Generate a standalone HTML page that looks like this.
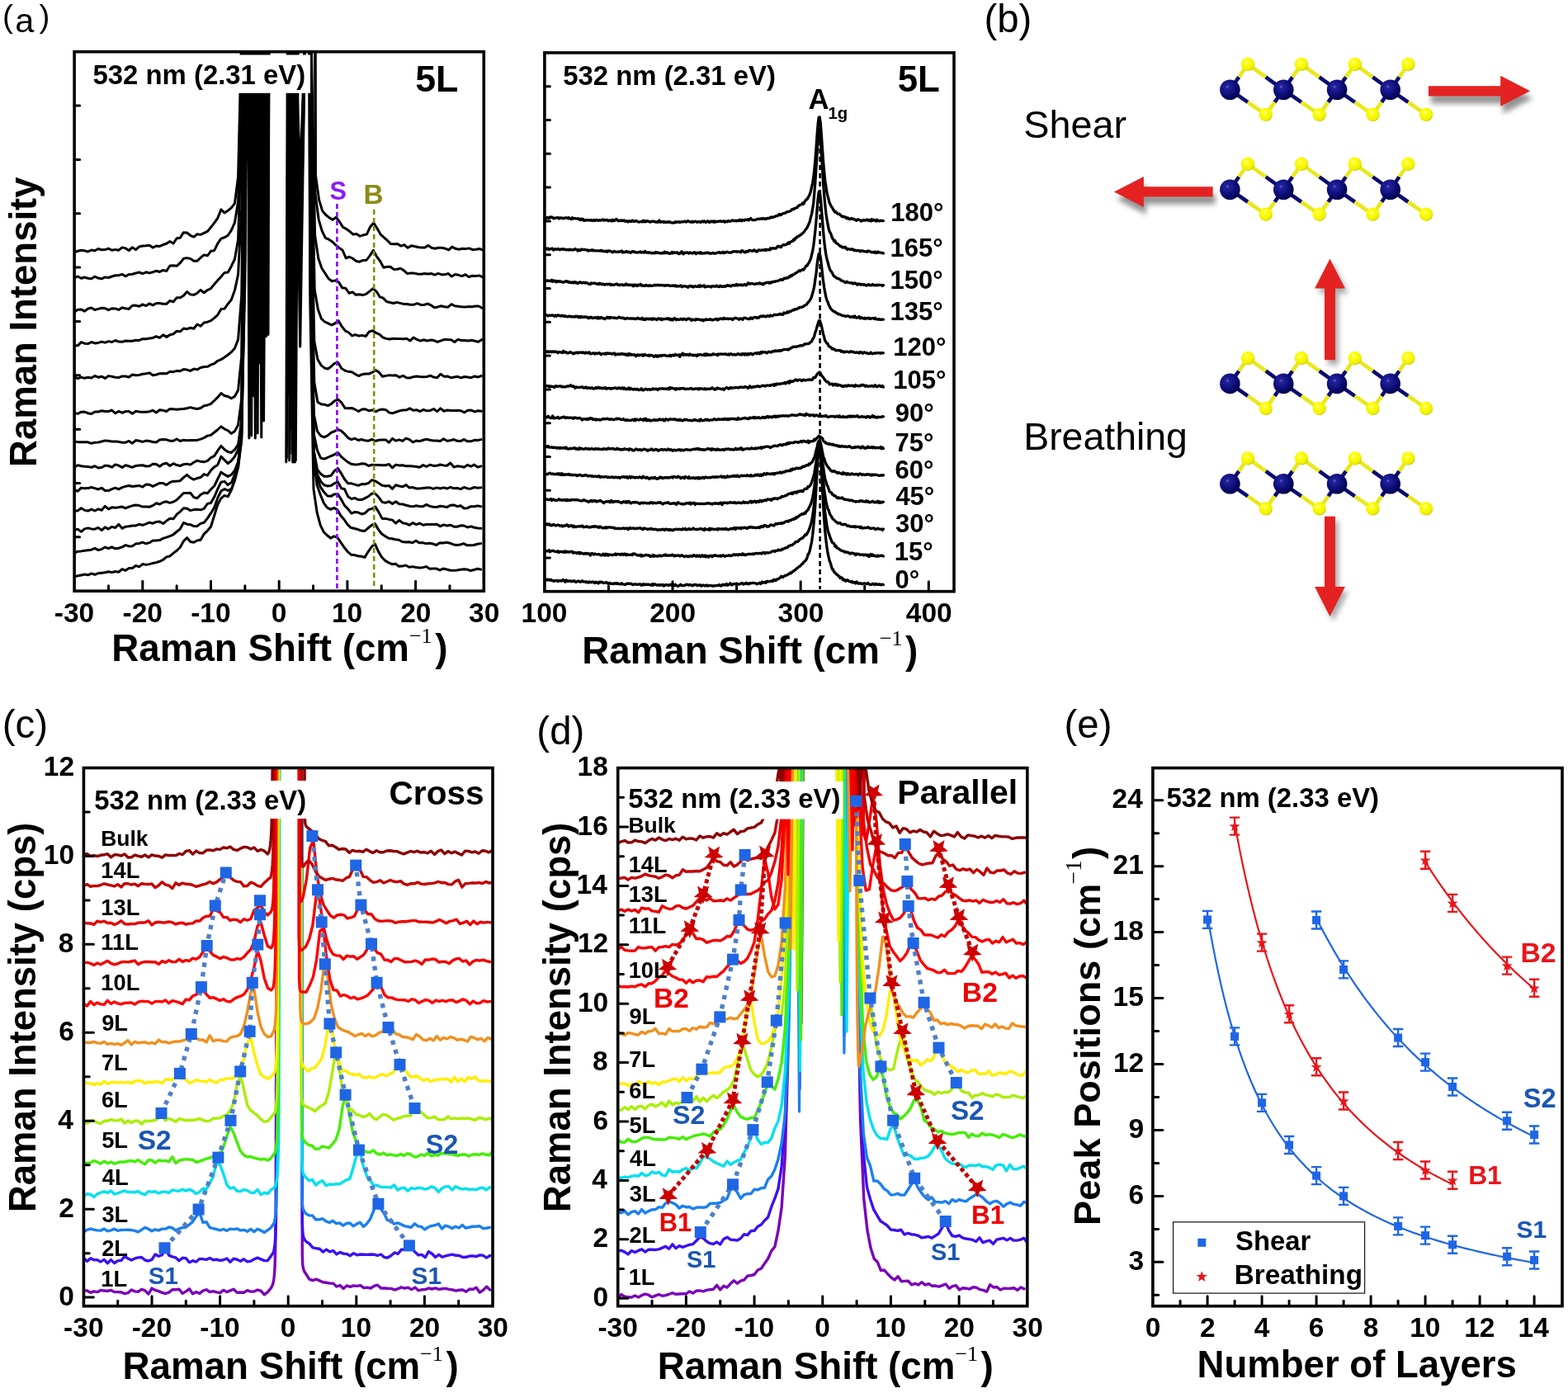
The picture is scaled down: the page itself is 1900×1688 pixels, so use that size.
<!DOCTYPE html>
<html><head><meta charset="utf-8"><title>Raman spectra figure</title>
<style>html,body{margin:0;padding:0;background:#fff;} svg{display:block;}</style></head>
<body><svg xmlns="http://www.w3.org/2000/svg" width="1900" height="1688" viewBox="0 0 1900 1688">
<defs><clipPath id='clipAL'><rect x='90.1' y='62.7' width='496.2' height='653.5'/></clipPath><clipPath id='clipAR'><rect x='659.9' y='63.9' width='496.1' height='652.8'/></clipPath><clipPath id='clipC'><rect x='101.4' y='930.5' width='495.6' height='652.2'/></clipPath><clipPath id='clipD'><rect x='748.7' y='930.6' width='496.1' height='652.1'/></clipPath><clipPath id='clipE'><rect x='1396.9' y='930.6' width='496.1' height='652.1'/></clipPath><radialGradient id='gMo' cx='0.38' cy='0.35' r='0.7'><stop offset='0' stop-color='#6a6ad8'/><stop offset='0.12' stop-color='#23239a'/><stop offset='0.6' stop-color='#0c0c78'/><stop offset='1' stop-color='#000040'/></radialGradient><radialGradient id='gS' cx='0.4' cy='0.35' r='0.7'><stop offset='0' stop-color='#ffffb0'/><stop offset='0.25' stop-color='#ffff10'/><stop offset='0.8' stop-color='#eeee00'/><stop offset='1' stop-color='#b8b800'/></radialGradient><filter id='shd' x='-30%' y='-60%' width='160%' height='240%'><feGaussianBlur stdDeviation='3.2'/></filter><filter id='soft' x='-10%' y='-10%' width='120%' height='120%'><feGaussianBlur stdDeviation='0.6'/></filter></defs>
<rect width="1900" height="1688" fill="#fff"/>
<text x='2.98' y='33.18' font-family='Liberation Sans' font-size='38.6' font-weight='normal' fill='#000'>(</text>
<text x='18.15' y='38.9' font-family='Liberation Sans' font-size='41.35' font-weight='normal' fill='#000'>a</text>
<text x='47.58' y='33.18' font-family='Liberation Sans' font-size='38.6' font-weight='normal' fill='#000'>)</text>
<rect x='90.1' y='62.7' width='496.2' height='653.5' fill='none' stroke='#000' stroke-width='3.6'/>
<text x='65.81' y='753.7' font-family='Liberation Sans' font-size='33.5' font-weight='bold' fill='#000'>-30</text>
<line x1='172.8' y1='716.2' x2='172.8' y2='704.2' stroke='#000' stroke-width='3.0' stroke-linecap='round'/>
<text x='148.51' y='753.7' font-family='Liberation Sans' font-size='33.5' font-weight='bold' fill='#000'>-20</text>
<line x1='255.5' y1='716.2' x2='255.5' y2='704.2' stroke='#000' stroke-width='3.0' stroke-linecap='round'/>
<text x='231.21' y='753.7' font-family='Liberation Sans' font-size='33.5' font-weight='bold' fill='#000'>-10</text>
<line x1='338.2' y1='716.2' x2='338.2' y2='704.2' stroke='#000' stroke-width='3.0' stroke-linecap='round'/>
<text x='328.82' y='753.7' font-family='Liberation Sans' font-size='33.5' font-weight='bold' fill='#000'>0</text>
<line x1='420.9' y1='716.2' x2='420.9' y2='704.2' stroke='#000' stroke-width='3.0' stroke-linecap='round'/>
<text x='401.97' y='753.7' font-family='Liberation Sans' font-size='33.5' font-weight='bold' fill='#000'>10</text>
<line x1='503.6' y1='716.2' x2='503.6' y2='704.2' stroke='#000' stroke-width='3.0' stroke-linecap='round'/>
<text x='485.17' y='753.7' font-family='Liberation Sans' font-size='33.5' font-weight='bold' fill='#000'>20</text>
<text x='568.04' y='753.7' font-family='Liberation Sans' font-size='33.5' font-weight='bold' fill='#000'>30</text>
<line x1='131.45' y1='716.2' x2='131.45' y2='709.7' stroke='#000' stroke-width='3.0' stroke-linecap='round'/>
<line x1='214.15' y1='716.2' x2='214.15' y2='709.7' stroke='#000' stroke-width='3.0' stroke-linecap='round'/>
<line x1='296.85' y1='716.2' x2='296.85' y2='709.7' stroke='#000' stroke-width='3.0' stroke-linecap='round'/>
<line x1='379.55' y1='716.2' x2='379.55' y2='709.7' stroke='#000' stroke-width='3.0' stroke-linecap='round'/>
<line x1='462.25' y1='716.2' x2='462.25' y2='709.7' stroke='#000' stroke-width='3.0' stroke-linecap='round'/>
<line x1='544.95' y1='716.2' x2='544.95' y2='709.7' stroke='#000' stroke-width='3.0' stroke-linecap='round'/>
<line x1='90.1' y1='650.85' x2='96.6' y2='650.85' stroke='#000' stroke-width='3.0' stroke-linecap='round'/>
<line x1='90.1' y1='585.5' x2='96.6' y2='585.5' stroke='#000' stroke-width='3.0' stroke-linecap='round'/>
<line x1='90.1' y1='520.15' x2='96.6' y2='520.15' stroke='#000' stroke-width='3.0' stroke-linecap='round'/>
<line x1='90.1' y1='454.8' x2='96.6' y2='454.8' stroke='#000' stroke-width='3.0' stroke-linecap='round'/>
<line x1='90.1' y1='389.45' x2='96.6' y2='389.45' stroke='#000' stroke-width='3.0' stroke-linecap='round'/>
<line x1='90.1' y1='324.1' x2='96.6' y2='324.1' stroke='#000' stroke-width='3.0' stroke-linecap='round'/>
<line x1='90.1' y1='258.75' x2='96.6' y2='258.75' stroke='#000' stroke-width='3.0' stroke-linecap='round'/>
<line x1='90.1' y1='193.4' x2='96.6' y2='193.4' stroke='#000' stroke-width='3.0' stroke-linecap='round'/>
<line x1='90.1' y1='128.05' x2='96.6' y2='128.05' stroke='#000' stroke-width='3.0' stroke-linecap='round'/>
<text transform='translate(44,565.99) rotate(-90)' x='0' y='0' font-family='Liberation Sans' font-size='45.52' font-weight='bold' fill='#000'>Raman Intensity</text>
<text x='135.3' y='800.5' font-family='Liberation Sans' font-size='45.73' font-weight='bold' fill='#000'>Raman Shift (cm</text>
<text x='495.89' y='778.7' font-family='Liberation Serif' font-size='26.15' font-weight='normal' fill='#000'>−1</text>
<text x='527.2' y='800.5' font-family='Liberation Sans' font-size='46' font-weight='bold' fill='#000'>)</text>
<g clip-path='url(#clipAL)'>
<path d='M90.1,698.78 L94.23,697.8 L98.37,696.95 L102.5,696.01 L106.64,696.77 L110.77,694.95 L114.91,696.45 L119.04,694.73 L123.18,694.19 L127.31,693.7 L131.45,692.69 L135.58,693.62 L139.72,692.49 L143.85,693.19 L147.99,689.72 L152.12,691.33 L156.26,688.46 L160.39,688.43 L164.53,685.45 L168.66,686.95 L172.8,683.55 L176.94,684.38 L181.07,683.62 L185.2,682.42 L189.34,681.64 L193.47,680.29 L197.61,678.44 L201.74,674.95 L205.88,673.9 L210.01,670.32 L214.15,667.26 L218.28,663.21 L222.42,655.79 L226.55,651.6 L230.69,656.41 L234.82,657.24 L238.96,654.97 L243.09,654.28 L247.23,647.1 L251.36,643.06 L255.5,638.28 L259.63,624.95 L263.77,611.41 L267.9,603.87 L272.04,600.42 L276.17,601.82 L280.31,593.99 L284.44,581.46 L288.58,562.34 L292.71,523.03 L296.85,342.52 L298.92,40 L300.5,40 L301.85,531 L303.5,40 L321.5,40 L322.5,407.7 L323.5,40' fill='none' stroke='#000' stroke-width='3.0' stroke-linejoin='round' stroke-linecap='round' />
<path d='M346.8,560 L348.3,40 L351.7,40 L354.7,560 L357.7,40' fill='none' stroke='#000' stroke-width='3.0' stroke-linejoin='round' stroke-linecap='round' />
<path d='M374.74,40 L375.04,152.49 L375.46,287.43 L375.83,367.5 L379.96,592.45 L384.1,620.87 L388.23,636.37 L392.37,644.94 L396.5,648.77 L400.64,652.15 L404.77,649.79 L408.91,651.33 L413.04,657.29 L417.18,663.49 L421.31,668.57 L425.45,672.14 L429.58,672.57 L433.72,673.74 L437.85,674.2 L441.99,675.39 L446.12,668.52 L450.26,662.7 L454.39,659.04 L458.53,668.37 L462.66,675.26 L466.8,679.38 L470.93,681.87 L475.07,683.69 L479.2,683.15 L483.34,686.18 L487.47,686.08 L491.61,685.04 L495.74,687.26 L499.88,686.64 L504.01,687.54 L508.15,688.08 L512.28,687.65 L516.42,686.59 L520.55,689.29 L524.69,688.98 L528.82,689.1 L532.96,690.93 L537.09,689.08 L541.23,689.96 L545.36,691.07 L549.5,691.32 L553.63,690.93 L557.77,690.22 L561.9,689.86 L566.04,690.06 L570.17,691.46 L574.31,690.45 L578.44,689.21 L582.58,690.07' fill='none' stroke='#000' stroke-width='3.0' stroke-linejoin='round' stroke-linecap='round' />
<path d='M90.1,670.3 L94.23,668.14 L98.37,667.88 L102.5,667.33 L106.64,666.71 L110.77,666.24 L114.91,664.43 L119.04,666.6 L123.18,665.55 L127.31,663.04 L131.45,664.54 L135.58,662.86 L139.72,664.78 L143.85,664.21 L147.99,662.82 L152.12,660.58 L156.26,661.91 L160.39,661.65 L164.53,659.03 L168.66,658.54 L172.8,657.18 L176.94,658.8 L181.07,657.64 L185.2,654.96 L189.34,655.06 L193.47,654.56 L197.61,652.38 L201.74,651.17 L205.88,649.61 L210.01,647.76 L214.15,644.27 L218.28,641.02 L222.42,633.35 L226.55,635.16 L230.69,635.72 L234.82,637.61 L238.96,637.68 L243.09,634.41 L247.23,633.28 L251.36,628.16 L255.5,621.95 L259.63,615.12 L263.77,603.42 L267.9,595.02 L272.04,592.63 L276.17,594.49 L280.31,592.68 L284.44,582.19 L288.58,566.72 L292.71,530.39 L296.85,303.61 L298.5,40 L307.5,40 L309.3,531 L311.5,40' fill='none' stroke='#000' stroke-width='3.0' stroke-linejoin='round' stroke-linecap='round' />
<path d='M350.65,558 L352.15,40 L354.4,40 L357.4,560 L360.4,40' fill='none' stroke='#000' stroke-width='3.0' stroke-linejoin='round' stroke-linecap='round' />
<path d='M374.74,40 L375.04,113.16 L375.46,248.26 L375.83,328.47 L379.96,554.95 L384.1,587.84 L388.23,599.52 L392.37,609.63 L396.5,615.19 L400.64,617.29 L404.77,615.39 L408.91,617.87 L413.04,625.07 L417.18,629.71 L421.31,635.97 L425.45,639.52 L429.58,640.48 L433.72,641.56 L437.85,643.05 L441.99,643.4 L446.12,639.76 L450.26,636.47 L454.39,634.55 L458.53,641.74 L462.66,646.95 L466.8,649.71 L470.93,652.28 L475.07,652.7 L479.2,653.68 L483.34,654.28 L487.47,656.48 L491.61,656.9 L495.74,656.8 L499.88,657.69 L504.01,655.31 L508.15,657.86 L512.28,657.62 L516.42,658.84 L520.55,658.26 L524.69,659.06 L528.82,660.49 L532.96,657.82 L537.09,658 L541.23,657.25 L545.36,658.18 L549.5,659.97 L553.63,660.42 L557.77,659.98 L561.9,658.69 L566.04,660.83 L570.17,660.85 L574.31,660.52 L578.44,659.2 L582.58,658.61' fill='none' stroke='#000' stroke-width='3.0' stroke-linejoin='round' stroke-linecap='round' />
<path d='M90.1,642.24 L94.23,641.32 L98.37,644.38 L102.5,640.89 L106.64,639.86 L110.77,640.91 L114.91,641.19 L119.04,639.4 L123.18,642.54 L127.31,638.86 L131.45,641.06 L135.58,638.36 L139.72,639.5 L143.85,635.38 L147.99,640.33 L152.12,638.13 L156.26,637.82 L160.39,637.04 L164.53,636.96 L168.66,635.3 L172.8,636.35 L176.94,634.94 L181.07,633.11 L185.2,634.21 L189.34,632.37 L193.47,632 L197.61,634.57 L201.74,631.15 L205.88,628.22 L210.01,628.84 L214.15,623.3 L218.28,620.12 L222.42,615.76 L226.55,616.16 L230.69,618.62 L234.82,617.59 L238.96,617.25 L243.09,617.89 L247.23,616.28 L251.36,610.37 L255.5,609.42 L259.63,602.29 L263.77,592.69 L267.9,584.18 L272.04,583.36 L276.17,587.58 L280.31,584.74 L284.44,575.04 L288.58,565.16 L292.71,533.9 L296.85,309.92 L298.5,40 L314.5,40 L316.75,530 L319.5,40' fill='none' stroke='#000' stroke-width='3.0' stroke-linejoin='round' stroke-linecap='round' />
<path d='M347.35,555 L348.85,40 L352.6,40 L355.6,560 L358.6,40' fill='none' stroke='#000' stroke-width='3.0' stroke-linejoin='round' stroke-linecap='round' />
<path d='M375.16,40 L375.46,113.76 L375.87,248.34 L376.24,328.09 L380.38,549.91 L384.51,580.32 L388.65,590.72 L392.78,596.55 L396.92,600.96 L401.05,601.36 L405.19,598.88 L409.32,598.41 L413.46,605.25 L417.59,612.64 L421.73,616.72 L425.86,622.06 L430,620.43 L434.13,621.06 L438.27,622.96 L442.4,621.79 L446.54,617.61 L450.67,616.49 L454.81,614.11 L458.94,620.63 L463.08,628.42 L467.21,628.38 L471.35,629.42 L475.48,630.14 L479.62,634.04 L483.75,630.46 L487.89,633.68 L492.02,634.44 L496.16,636.31 L500.29,633.62 L504.43,635.57 L508.56,634.07 L512.7,636.25 L516.83,635.53 L520.97,635.4 L525.1,635.58 L529.24,635.21 L533.37,637.85 L537.51,635.9 L541.64,636.97 L545.78,636.18 L549.91,638.21 L554.05,638.26 L558.18,636.82 L562.32,637 L566.45,639.02 L570.59,637.91 L574.72,639.23 L578.86,639.92 L582.99,640.21' fill='none' stroke='#000' stroke-width='3.0' stroke-linejoin='round' stroke-linecap='round' />
<path d='M90.1,619.08 L94.23,618.93 L98.37,615.71 L102.5,618.29 L106.64,619.14 L110.77,617.05 L114.91,619.02 L119.04,616.84 L123.18,618.27 L127.31,613.37 L131.45,616.86 L135.58,614.79 L139.72,615.16 L143.85,614.71 L147.99,614.02 L152.12,615.88 L156.26,614.1 L160.39,612.83 L164.53,612.03 L168.66,612.56 L172.8,614.11 L176.94,614.09 L181.07,614.24 L185.2,612.64 L189.34,609.76 L193.47,610.98 L197.61,608.72 L201.74,607.79 L205.88,609.44 L210.01,608.18 L214.15,605.75 L218.28,601.7 L222.42,597.44 L226.55,597.57 L230.69,597.19 L234.82,602.64 L238.96,603.74 L243.09,599.54 L247.23,597.09 L251.36,597.81 L255.5,592.98 L259.63,589.01 L263.77,580.49 L267.9,572.14 L272.04,574.97 L276.17,577.38 L280.31,575.24 L284.44,570.22 L288.58,559.3 L292.71,527.92 L296.85,225.3 L298.09,40 L303.3,40 L304.65,528 L306.3,40 L324,40 L325,405.6 L326,40' fill='none' stroke='#000' stroke-width='3.0' stroke-linejoin='round' stroke-linecap='round' />
<path d='M351.2,550 L352.7,40 L355.3,40 L358.3,558 L361.3,40' fill='none' stroke='#000' stroke-width='3.0' stroke-linejoin='round' stroke-linecap='round' />
<path d='M375.16,40 L375.46,117.37 L375.87,251.4 L376.24,330.67 L380.38,547.16 L384.51,574.97 L388.65,583.47 L392.78,587.81 L396.92,589.05 L401.05,588.51 L405.19,585.77 L409.32,583.86 L413.46,591.58 L417.59,592.78 L421.73,601.76 L425.86,604.6 L430,603.5 L434.13,605.56 L438.27,605.58 L442.4,603.54 L446.54,601.47 L450.67,598.04 L454.81,598.31 L458.94,602.57 L463.08,608.38 L467.21,609.28 L471.35,607.67 L475.48,610.54 L479.62,607.84 L483.75,610.79 L487.89,610.95 L492.02,612.28 L496.16,613.3 L500.29,613.88 L504.43,612.76 L508.56,613.64 L512.7,613.64 L516.83,611.39 L520.97,613.5 L525.1,614.23 L529.24,614.44 L533.37,613.29 L537.51,613.84 L541.64,614.65 L545.78,612.19 L549.91,611.91 L554.05,613.69 L558.18,612.71 L562.32,615.99 L566.45,615.71 L570.59,613.65 L574.72,613.72 L578.86,612.9 L582.99,613.79' fill='none' stroke='#000' stroke-width='3.0' stroke-linejoin='round' stroke-linecap='round' />
<path d='M90.1,593.34 L94.23,595.27 L98.37,591.15 L102.5,591.73 L106.64,591.58 L110.77,590.49 L114.91,591.65 L119.04,592.97 L123.18,591.31 L127.31,594.49 L131.45,594.54 L135.58,592.67 L139.72,591.17 L143.85,592.8 L147.99,590.63 L152.12,589.38 L156.26,588.56 L160.39,589.53 L164.53,588.96 L168.66,588.48 L172.8,590.17 L176.94,586.88 L181.07,587.2 L185.2,589.43 L189.34,587.43 L193.47,585.41 L197.61,585.55 L201.74,587.64 L205.88,584.59 L210.01,583.2 L214.15,583.13 L218.28,582.66 L222.42,578.71 L226.55,575.36 L230.69,579 L234.82,581.06 L238.96,579.47 L243.09,578.49 L247.23,574.58 L251.36,576.06 L255.5,570.04 L259.63,565.89 L263.77,563.21 L267.9,553.17 L272.04,557.35 L276.17,561.6 L280.31,558.35 L284.44,553.19 L288.58,544.91 L292.71,516.01 L296.85,213.65 L298.09,40 L310.3,40 L312.1,525 L314.3,40' fill='none' stroke='#000' stroke-width='3.0' stroke-linejoin='round' stroke-linecap='round' />
<path d='M347.9,540 L349.4,40 L353.5,40 L356.5,555 L359.5,40' fill='none' stroke='#000' stroke-width='3.0' stroke-linejoin='round' stroke-linecap='round' />
<path d='M375.16,40 L375.46,119.84 L375.87,253.36 L376.24,332.18 L380.38,546.99 L384.51,568.87 L388.65,574.3 L392.78,577.27 L396.92,577.21 L401.05,576.32 L405.19,570.59 L409.32,567.39 L413.46,573.68 L417.59,580.81 L421.73,585.66 L425.86,585.84 L430,587.14 L434.13,588.36 L438.27,586.62 L442.4,586.72 L446.54,585.34 L450.67,581.67 L454.81,582.88 L458.94,585.62 L463.08,588.28 L467.21,588.96 L471.35,588.43 L475.48,592.35 L479.62,587.78 L483.75,588.96 L487.89,589.84 L492.02,587.59 L496.16,591.07 L500.29,590.57 L504.43,591.98 L508.56,592.07 L512.7,591.49 L516.83,591.04 L520.97,590.92 L525.1,592.33 L529.24,590.89 L533.37,592 L537.51,590.89 L541.64,592.05 L545.78,590.34 L549.91,591.84 L554.05,591.44 L558.18,592.65 L562.32,590.45 L566.45,591.93 L570.59,592.19 L574.72,590.51 L578.86,591.32 L582.99,590.88' fill='none' stroke='#000' stroke-width='3.0' stroke-linejoin='round' stroke-linecap='round' />
<path d='M90.1,566.11 L94.23,563.67 L98.37,564.81 L102.5,565.3 L106.64,565.52 L110.77,566.39 L114.91,564.77 L119.04,566.99 L123.18,566.56 L127.31,564.13 L131.45,564.5 L135.58,566.24 L139.72,562.9 L143.85,564.15 L147.99,566.4 L152.12,563.68 L156.26,564.99 L160.39,566.32 L164.53,564.44 L168.66,564.11 L172.8,563.71 L176.94,565.05 L181.07,564.69 L185.2,562.26 L189.34,562.56 L193.47,565.29 L197.61,562.17 L201.74,561.21 L205.88,564.47 L210.01,561.66 L214.15,563.51 L218.28,564.53 L222.42,562.71 L226.55,562.13 L230.69,563.13 L234.82,560.23 L238.96,558.14 L243.09,559.33 L247.23,559.81 L251.36,558.41 L255.5,554.7 L259.63,552.58 L263.77,546.09 L267.9,540.35 L272.04,544.74 L276.17,547.55 L280.31,548.48 L284.44,544.83 L288.58,538.46 L292.71,509.58 L296.85,76.22 L297.68,40 L317.3,40 L319.55,510 L322.3,40' fill='none' stroke='#000' stroke-width='3.0' stroke-linejoin='round' stroke-linecap='round' />
<path d='M351.75,520 L353.25,40 L351.7,40 L354.7,545 L357.7,40' fill='none' stroke='#000' stroke-width='3.0' stroke-linejoin='round' stroke-linecap='round' />
<path d='M375.16,40 L375.46,104.52 L375.87,237.79 L376.24,316.4 L380.38,526.42 L384.51,545.88 L388.65,555.14 L392.78,556.05 L396.92,554.48 L401.05,552.72 L405.19,550.77 L409.32,548.42 L413.46,553.26 L417.59,556.85 L421.73,560.13 L425.86,562.32 L430,562.89 L434.13,562.72 L438.27,561.85 L442.4,561.93 L446.54,564.48 L450.67,563.31 L454.81,563.56 L458.94,563.49 L463.08,563.83 L467.21,563.78 L471.35,562.4 L475.48,566.86 L479.62,563.15 L483.75,564.03 L487.89,563.71 L492.02,564.84 L496.16,564.65 L500.29,564.91 L504.43,565.43 L508.56,566.25 L512.7,563.63 L516.83,565.31 L520.97,563.25 L525.1,564.39 L529.24,564.36 L533.37,562.98 L537.51,563.88 L541.64,564.21 L545.78,561.02 L549.91,566.01 L554.05,564.83 L558.18,565.16 L562.32,566.2 L566.45,563.37 L570.59,565.26 L574.72,563.14 L578.86,566.16 L582.99,564.93' fill='none' stroke='#000' stroke-width='3.0' stroke-linejoin='round' stroke-linecap='round' />
<path d='M90.1,534.92 L94.23,535.64 L98.37,535.75 L102.5,535.84 L106.64,535.82 L110.77,537.31 L114.91,536.15 L119.04,536.04 L123.18,535.03 L127.31,533.9 L131.45,534.29 L135.58,535.07 L139.72,535.07 L143.85,535.36 L147.99,536.2 L152.12,536.2 L156.26,534.43 L160.39,537.15 L164.53,533.56 L168.66,534.23 L172.8,535.38 L176.94,534.06 L181.07,534.52 L185.2,535.51 L189.34,536.02 L193.47,533.06 L197.61,532.57 L201.74,532.81 L205.88,534.19 L210.01,534.28 L214.15,532.02 L218.28,534.43 L222.42,533.31 L226.55,533.65 L230.69,533.61 L234.82,533.53 L238.96,533.38 L243.09,532.08 L247.23,530.58 L251.36,528.13 L255.5,527.24 L259.63,523.97 L263.77,520.78 L267.9,516.86 L272.04,519.81 L276.17,521.74 L280.31,525.37 L284.44,522.46 L288.58,515.07 L292.71,483.7 L296.85,55.57 L297.68,40 L306.1,40 L307.45,480 L309.1,40 L321.5,40 L322.5,372 L323.5,40' fill='none' stroke='#000' stroke-width='3.0' stroke-linejoin='round' stroke-linecap='round' />
<path d='M348.45,480 L349.95,40 L354.4,40 L357.4,520 L360.4,40' fill='none' stroke='#000' stroke-width='3.0' stroke-linejoin='round' stroke-linecap='round' />
<path d='M375.16,40 L375.46,80.54 L375.87,213.68 L376.24,292.18 L380.38,502.37 L384.51,522.69 L388.65,528.1 L392.78,529.78 L396.92,527.91 L401.05,524.38 L405.19,522.6 L409.32,520.46 L413.46,522.04 L417.59,525.92 L421.73,530.54 L425.86,532.65 L430,531.18 L434.13,533.54 L438.27,532.52 L442.4,533.81 L446.54,534.13 L450.67,532.31 L454.81,534.51 L458.94,533.23 L463.08,532.88 L467.21,532.92 L471.35,536.26 L475.48,531.4 L479.62,534.12 L483.75,532.87 L487.89,534.42 L492.02,531.11 L496.16,532.64 L500.29,535.87 L504.43,534 L508.56,534.68 L512.7,533.27 L516.83,532.2 L520.97,533.32 L525.1,534.02 L529.24,533.99 L533.37,534.59 L537.51,531.85 L541.64,534.25 L545.78,533.74 L549.91,532.55 L554.05,534.31 L558.18,534.56 L562.32,532.45 L566.45,534.85 L570.59,534.81 L574.72,533.3 L578.86,533.53 L582.99,532.62' fill='none' stroke='#000' stroke-width='3.0' stroke-linejoin='round' stroke-linecap='round' />
<path d='M90.1,500.61 L94.23,501.32 L98.37,499.18 L102.5,499.05 L106.64,500.66 L110.77,501.46 L114.91,498.98 L119.04,498.96 L123.18,497.71 L127.31,498.56 L131.45,498.55 L135.58,497.01 L139.72,500.78 L143.85,498.41 L147.99,500.24 L152.12,498.53 L156.26,498.47 L160.39,501.26 L164.53,498.35 L168.66,498.98 L172.8,499.19 L176.94,499.14 L181.07,498.85 L185.2,497.15 L189.34,499.98 L193.47,496.73 L197.61,497.26 L201.74,498.47 L205.88,495.39 L210.01,495.68 L214.15,496.21 L218.28,495.7 L222.42,495.57 L226.55,494.79 L230.69,493.61 L234.82,494.68 L238.96,495.42 L243.09,494.49 L247.23,491.73 L251.36,490.91 L255.5,489.42 L259.63,485.52 L263.77,481.42 L267.9,476.55 L272.04,479.45 L276.17,480.42 L280.31,482.73 L284.44,480.33 L288.58,472.79 L292.71,432.14 L296.85,40 L313.1,40 L314.9,440 L317.1,40' fill='none' stroke='#000' stroke-width='3.0' stroke-linejoin='round' stroke-linecap='round' />
<path d='M352.3,420 L353.8,40 L352.6,40 L355.6,480 L358.6,40' fill='none' stroke='#000' stroke-width='3.0' stroke-linejoin='round' stroke-linecap='round' />
<path d='M375.57,40 L375.87,42.1 L376.28,175.29 L376.66,253.84 L380.79,463.35 L384.93,487.3 L389.06,489.83 L393.2,490.19 L397.33,491.6 L401.47,489.45 L405.6,485.54 L409.74,484.08 L413.87,487.88 L418.01,494.54 L422.14,494.79 L426.28,494.51 L430.41,496.2 L434.55,498.48 L438.68,496.03 L442.82,495.85 L446.95,497.76 L451.09,496.89 L455.22,498.79 L459.36,496.74 L463.49,496.08 L467.63,496.7 L471.76,500.13 L475.9,500.67 L480.03,499.26 L484.17,497.8 L488.3,497.05 L492.44,496.87 L496.57,494.86 L500.71,497.21 L504.84,496.73 L508.98,498.55 L513.11,496.34 L517.25,497.81 L521.38,497.46 L525.52,495.58 L529.65,498.64 L533.79,494.8 L537.92,498.22 L542.06,497.06 L546.19,497.6 L550.33,497.49 L554.46,497.17 L558.6,497.74 L562.73,499.85 L566.87,497.19 L571,497.07 L575.14,498.92 L579.27,497.76 L583.41,498.17' fill='none' stroke='#000' stroke-width='3.0' stroke-linejoin='round' stroke-linecap='round' />
<path d='M90.1,456.69 L94.23,458.73 L98.37,457.06 L102.5,458.32 L106.64,457.33 L110.77,457.91 L114.91,455.41 L119.04,457.21 L123.18,456.18 L127.31,458.38 L131.45,455.62 L135.58,456.24 L139.72,457.21 L143.85,457.59 L147.99,455.93 L152.12,456 L156.26,457.01 L160.39,454.03 L164.53,454.7 L168.66,454.43 L172.8,453.24 L176.94,452.82 L181.07,451.84 L185.2,454.72 L189.34,453.99 L193.47,452.64 L197.61,452.45 L201.74,452.7 L205.88,450.37 L210.01,450.67 L214.15,449.37 L218.28,449.65 L222.42,447.6 L226.55,448.06 L230.69,449.39 L234.82,447.07 L238.96,447.88 L243.09,445.44 L247.23,444.54 L251.36,444.33 L255.5,442.03 L259.63,440.68 L263.77,437.28 L267.9,435.62 L272.04,433.04 L276.17,429.98 L280.31,426.66 L284.44,421.96 L288.58,411.42 L292.71,358.54 L296.85,40 L301.9,40 L304.15,380 L306.9,40' fill='none' stroke='#000' stroke-width='3.0' stroke-linejoin='round' stroke-linecap='round' />
<path d='M349,350 L350.5,40 L357.7,40 L363.7,420 L369.7,40' fill='none' stroke='#000' stroke-width='3.0' stroke-linejoin='round' stroke-linecap='round' />
<path d='M375.98,40 L376.28,122.82 L376.66,201.57 L380.79,413.17 L384.93,435.47 L389.06,442.61 L393.2,445.94 L397.33,447.03 L401.47,443.95 L405.6,440.15 L409.74,439.38 L413.87,446.56 L418.01,449.07 L422.14,450.34 L426.28,450.67 L430.41,453.33 L434.55,455.55 L438.68,453.74 L442.82,453.08 L446.95,453.06 L451.09,451.17 L455.22,448.6 L459.36,451.25 L463.49,456.25 L467.63,455.37 L471.76,454.62 L475.9,455.1 L480.03,454.72 L484.17,457.18 L488.3,455.24 L492.44,457.66 L496.57,457.95 L500.71,456.66 L504.84,455.94 L508.98,456.57 L513.11,456.68 L517.25,456.53 L521.38,455.18 L525.52,457.05 L529.65,457.75 L533.79,453.34 L537.92,456.13 L542.06,455.99 L546.19,457.71 L550.33,456.98 L554.46,456.32 L558.6,457.92 L562.73,456.47 L566.87,456.95 L571,457.7 L575.14,455.93 L579.27,456.92 L583.41,455.5' fill='none' stroke='#000' stroke-width='3.0' stroke-linejoin='round' stroke-linecap='round' />
<path d='M90.1,418.75 L94.23,418.87 L98.37,414.63 L102.5,416.22 L106.64,416.57 L110.77,414.53 L114.91,415.94 L119.04,415.44 L123.18,414.12 L127.31,415.13 L131.45,413.64 L135.58,414.49 L139.72,412.48 L143.85,414.03 L147.99,414.23 L152.12,412.97 L156.26,413.36 L160.39,413.25 L164.53,412.34 L168.66,412.41 L172.8,410.67 L176.94,410.79 L181.07,410.08 L185.2,409.41 L189.34,407.55 L193.47,409.31 L197.61,405.77 L201.74,408.37 L205.88,405.78 L210.01,404.83 L214.15,401.18 L218.28,401.78 L222.42,398.04 L226.55,398.66 L230.69,397.3 L234.82,398.29 L238.96,392.97 L243.09,395.17 L247.23,391.05 L251.36,390.16 L255.5,388.57 L259.63,385.36 L263.77,381.59 L267.9,374.5 L272.04,374.13 L276.17,368.26 L280.31,363.26 L284.44,351.84 L288.58,332.6 L292.71,253.23 L296.02,40 L308.9,40 L310.25,320 L311.9,40 L324,40 L325,260 L326,40' fill='none' stroke='#000' stroke-width='3.0' stroke-linejoin='round' stroke-linecap='round' />
<path d='M352.85,300 L354.35,40 L357.7,40 L363.7,350 L369.7,40' fill='none' stroke='#000' stroke-width='3.0' stroke-linejoin='round' stroke-linecap='round' />
<path d='M376.4,40 L376.7,56.9 L377.07,136.07 L381.2,350.74 L385.34,375.06 L389.47,386.3 L393.61,390 L397.74,391.93 L401.88,393.8 L406.01,391.8 L410.15,388.69 L414.28,395.74 L418.42,400.85 L422.55,402.98 L426.69,406.88 L430.82,405.53 L434.96,407.08 L439.09,406.39 L443.23,407.5 L447.36,401.9 L451.5,400.77 L455.63,403.38 L459.77,405.07 L463.9,408.78 L468.04,410.37 L472.17,411.09 L476.31,410.22 L480.44,410.58 L484.58,410.47 L488.71,410.79 L492.85,410.22 L496.98,413.03 L501.12,408.92 L505.25,411.47 L509.39,413.11 L513.52,411.72 L517.66,412.94 L521.79,412 L525.93,412.59 L530.06,414.45 L534.2,412.8 L538.33,411.32 L542.47,411.6 L546.6,411.64 L550.74,414.55 L554.87,411.4 L559.01,412.45 L563.14,412.48 L567.28,413.06 L571.41,412.25 L575.55,413.21 L579.68,414.26 L583.82,411.49' fill='none' stroke='#000' stroke-width='3.0' stroke-linejoin='round' stroke-linecap='round' />
<path d='M90.1,378.43 L94.23,375.18 L98.37,374.89 L102.5,377.16 L106.64,373.99 L110.77,372.98 L114.91,375.43 L119.04,374.41 L123.18,373.3 L127.31,373.61 L131.45,375.69 L135.58,373.74 L139.72,373.91 L143.85,375.42 L147.99,372.76 L152.12,373.85 L156.26,374.4 L160.39,370.18 L164.53,370.07 L168.66,371.26 L172.8,368.86 L176.94,370.52 L181.07,367.87 L185.2,369.85 L189.34,367.46 L193.47,367.46 L197.61,368.16 L201.74,368.37 L205.88,364.37 L210.01,365.79 L214.15,360.74 L218.28,360.84 L222.42,358.24 L226.55,353.53 L230.69,356.85 L234.82,357.37 L238.96,355.21 L243.09,351.39 L247.23,354.73 L251.36,351.56 L255.5,349.7 L259.63,344.4 L263.77,339.79 L267.9,335.23 L272.04,330.61 L276.17,330.06 L280.31,322.67 L284.44,314.01 L288.58,290.22 L292.71,162.79 L295.2,40 L315.9,40 L317.7,250 L319.9,40' fill='none' stroke='#000' stroke-width='3.0' stroke-linejoin='round' stroke-linecap='round' />
<path d='M349.55,250 L351.05,40 L357.7,40 L363.7,300 L369.7,40' fill='none' stroke='#000' stroke-width='3.0' stroke-linejoin='round' stroke-linecap='round' />
<path d='M377.18,40 L377.48,63.09 L381.62,285.5 L385.75,312.99 L389.89,325.03 L394.02,331.41 L398.16,337.79 L402.29,340.7 L406.43,339.85 L410.56,342.11 L414.7,348.84 L418.83,349.26 L422.97,355.27 L427.1,353.95 L431.24,357.27 L435.37,356.82 L439.51,357.57 L443.64,356.31 L447.78,353.13 L451.91,349.65 L456.05,353.04 L460.18,359.73 L464.32,361.15 L468.45,365.5 L472.59,366.5 L476.72,367.56 L480.86,366.39 L484.99,367.36 L489.13,368.41 L493.26,368.42 L497.4,369.2 L501.53,369.13 L505.67,367.64 L509.8,369.38 L513.94,369.42 L518.07,367.99 L522.21,369.83 L526.34,372.69 L530.48,371.92 L534.61,370.79 L538.75,371.68 L542.88,372.23 L547.02,368.65 L551.15,370.77 L555.29,371.24 L559.42,371.82 L563.56,372.12 L567.69,371.45 L571.83,371.82 L575.96,371.01 L580.1,370.96 L584.23,373.24' fill='none' stroke='#000' stroke-width='3.0' stroke-linejoin='round' stroke-linecap='round' />
<path d='M90.1,336.43 L94.23,335 L98.37,337.3 L102.5,336.02 L106.64,337.19 L110.77,337.66 L114.91,335.14 L119.04,337.03 L123.18,337.78 L127.31,335.88 L131.45,336.5 L135.58,335.03 L139.72,333.79 L143.85,333.69 L147.99,332.41 L152.12,334.82 L156.26,332.45 L160.39,332.29 L164.53,330.95 L168.66,329.99 L172.8,331.59 L176.94,329.8 L181.07,330.91 L185.2,329.79 L189.34,328.21 L193.47,329.46 L197.61,327.43 L201.74,328.38 L205.88,322.04 L210.01,321.74 L214.15,322.27 L218.28,318.73 L222.42,313.33 L226.55,312.61 L230.69,313.37 L234.82,316.3 L238.96,316.24 L243.09,312.23 L247.23,308.89 L251.36,309.78 L255.5,304.28 L259.63,303.7 L263.77,295.1 L267.9,289.17 L272.04,287.74 L276.17,285.29 L280.31,279.06 L284.44,269.72 L288.58,244.2 L292.71,81.25 L294.78,40 L304.7,40 L306.95,200 L309.7,40' fill='none' stroke='#000' stroke-width='3.0' stroke-linejoin='round' stroke-linecap='round' />
<path d='M353.4,200 L354.9,40 L357.7,40 L363.7,255 L369.7,40' fill='none' stroke='#000' stroke-width='3.0' stroke-linejoin='round' stroke-linecap='round' />
<path d='M381.73,40 L382.03,234.64 L386.17,266.07 L390.3,280.08 L394.44,288.48 L398.57,290.22 L402.71,292.93 L406.84,297.03 L410.98,300.36 L415.11,303.24 L419.25,312.78 L423.38,311.24 L427.52,313.27 L431.65,316.45 L435.79,317.24 L439.92,315.38 L444.06,315.18 L448.19,309.87 L452.33,303.28 L456.46,310.81 L460.6,316.37 L464.73,324.17 L468.87,323.36 L473,323.23 L477.14,326.41 L481.27,326.3 L485.41,325.28 L489.54,327.89 L493.68,331.58 L497.81,330.89 L501.95,331.1 L506.08,332.04 L510.22,332.17 L514.35,331.49 L518.49,332.06 L522.62,331.44 L526.76,333.03 L530.89,331.36 L535.03,332.63 L539.16,332.65 L543.3,331.54 L547.43,335.09 L551.57,332.59 L555.7,333.34 L559.84,334.6 L563.97,332.72 L568.11,335.61 L572.24,334.21 L576.38,334.39 L580.51,333.87 L584.65,335.71' fill='none' stroke='#000' stroke-width='3.0' stroke-linejoin='round' stroke-linecap='round' />
<path d='M90.1,305.88 L94.23,304.26 L98.37,303.21 L102.5,303.83 L106.64,304.96 L110.77,302.98 L114.91,303.81 L119.04,301.49 L123.18,302.71 L127.31,302.62 L131.45,301.13 L135.58,303.28 L139.72,302.4 L143.85,303.15 L147.99,299.87 L152.12,300.87 L156.26,303.56 L160.39,299.68 L164.53,302.63 L168.66,298.98 L172.8,298.03 L176.94,297.79 L181.07,297.17 L185.2,300.04 L189.34,298.02 L193.47,298.42 L197.61,296.55 L201.74,295.23 L205.88,292.56 L210.01,295.09 L214.15,288.8 L218.28,288.24 L222.42,281.66 L226.55,281.96 L230.69,285.28 L234.82,287.07 L238.96,283.79 L243.09,284.37 L247.23,282.33 L251.36,280.44 L255.5,275.48 L259.63,270.12 L263.77,264.27 L267.9,253.86 L272.04,257.86 L276.17,255.25 L280.31,251.94 L284.44,246.48 L288.58,214.03 L292.71,40 L311.7,40 L313.05,150 L314.7,40 L321.5,40 L322.5,141 L323.5,40' fill='none' stroke='#000' stroke-width='3.0' stroke-linejoin='round' stroke-linecap='round' />
<path d='M350.1,160 L351.6,40 L357.7,40 L363.7,212 L369.7,40' fill='none' stroke='#000' stroke-width='3.0' stroke-linejoin='round' stroke-linecap='round' />
<path d='M382.14,40 L382.44,212.45 L386.58,242.14 L390.71,255.61 L394.85,260.47 L398.98,263.71 L403.12,266.37 L407.25,263.21 L411.39,268.56 L415.52,275.4 L419.66,277.37 L423.79,280.44 L427.93,284.03 L432.06,283.54 L436.2,286.14 L440.33,284.82 L444.47,283.89 L448.6,274.98 L452.74,270.04 L456.87,276.44 L461.01,283.8 L465.14,287.68 L469.28,291.24 L473.41,295.51 L477.55,295.85 L481.68,295.59 L485.82,298.1 L489.95,296.66 L494.09,300.32 L498.22,297.84 L502.36,298.46 L506.49,299.48 L510.63,299.98 L514.76,299.94 L518.9,297.37 L523.03,300.24 L527.17,301.32 L531.3,300.19 L535.44,300.26 L539.57,301.23 L543.71,302.91 L547.84,299.15 L551.98,301.34 L556.11,302.18 L560.25,301.18 L564.38,301.46 L568.52,300.88 L572.65,302.53 L576.79,302.18 L580.92,301.54 L585.06,302.94' fill='none' stroke='#000' stroke-width='3.0' stroke-linejoin='round' stroke-linecap='round' />
</g>
<line x1='408.4' y1='247' x2='408.4' y2='714' stroke='#8a00ff' stroke-width='2.6' stroke-dasharray='6,4'/>
<line x1='453.2' y1='254' x2='453.2' y2='714' stroke='#8b8b14' stroke-width='2.6' stroke-dasharray='6,4'/>
<rect x='92' y='66.5' width='284' height='46.3' fill='#fff'/>
<text x='112.51' y='101.9' font-family='Liberation Sans' font-size='32.89' font-weight='bold' fill='#000'>532 nm (2.31 eV)</text>
<text x='503.26' y='111' font-family='Liberation Sans' font-size='44.68' font-weight='bold' fill='#000'>5L</text>
<text x='399.48' y='242.4' font-family='Liberation Sans' font-size='30.67' font-weight='bold' fill='#8a1aff'>S</text>
<text x='440.47' y='247.2' font-family='Liberation Sans' font-size='33.28' font-weight='bold' fill='#8b8b1a'>B</text>
<rect x='659.9' y='63.9' width='496.1' height='652.8' fill='none' stroke='#000' stroke-width='3.6'/>
<text x='631.59' y='754.2' font-family='Liberation Sans' font-size='33.5' font-weight='bold' fill='#000'>100</text>
<line x1='815.03' y1='716.7' x2='815.03' y2='704.7' stroke='#000' stroke-width='3.0' stroke-linecap='round'/>
<text x='787.23' y='754.2' font-family='Liberation Sans' font-size='33.5' font-weight='bold' fill='#000'>200</text>
<line x1='970.16' y1='716.7' x2='970.16' y2='704.7' stroke='#000' stroke-width='3.0' stroke-linecap='round'/>
<text x='942.52' y='754.2' font-family='Liberation Sans' font-size='33.5' font-weight='bold' fill='#000'>300</text>
<line x1='1125.29' y1='716.7' x2='1125.29' y2='704.7' stroke='#000' stroke-width='3.0' stroke-linecap='round'/>
<text x='1097.82' y='754.2' font-family='Liberation Sans' font-size='33.5' font-weight='bold' fill='#000'>400</text>
<line x1='737.46' y1='716.7' x2='737.46' y2='710.2' stroke='#000' stroke-width='3.0' stroke-linecap='round'/>
<line x1='892.59' y1='716.7' x2='892.59' y2='710.2' stroke='#000' stroke-width='3.0' stroke-linecap='round'/>
<line x1='1047.72' y1='716.7' x2='1047.72' y2='710.2' stroke='#000' stroke-width='3.0' stroke-linecap='round'/>
<line x1='659.9' y1='675.9' x2='666.4' y2='675.9' stroke='#000' stroke-width='3.0' stroke-linecap='round'/>
<line x1='659.9' y1='635.1' x2='666.4' y2='635.1' stroke='#000' stroke-width='3.0' stroke-linecap='round'/>
<line x1='659.9' y1='594.3' x2='666.4' y2='594.3' stroke='#000' stroke-width='3.0' stroke-linecap='round'/>
<line x1='659.9' y1='553.5' x2='666.4' y2='553.5' stroke='#000' stroke-width='3.0' stroke-linecap='round'/>
<line x1='659.9' y1='512.7' x2='666.4' y2='512.7' stroke='#000' stroke-width='3.0' stroke-linecap='round'/>
<line x1='659.9' y1='471.9' x2='666.4' y2='471.9' stroke='#000' stroke-width='3.0' stroke-linecap='round'/>
<line x1='659.9' y1='431.1' x2='666.4' y2='431.1' stroke='#000' stroke-width='3.0' stroke-linecap='round'/>
<line x1='659.9' y1='390.3' x2='666.4' y2='390.3' stroke='#000' stroke-width='3.0' stroke-linecap='round'/>
<line x1='659.9' y1='349.5' x2='666.4' y2='349.5' stroke='#000' stroke-width='3.0' stroke-linecap='round'/>
<line x1='659.9' y1='308.7' x2='666.4' y2='308.7' stroke='#000' stroke-width='3.0' stroke-linecap='round'/>
<line x1='659.9' y1='267.9' x2='666.4' y2='267.9' stroke='#000' stroke-width='3.0' stroke-linecap='round'/>
<line x1='659.9' y1='227.1' x2='666.4' y2='227.1' stroke='#000' stroke-width='3.0' stroke-linecap='round'/>
<line x1='659.9' y1='186.3' x2='666.4' y2='186.3' stroke='#000' stroke-width='3.0' stroke-linecap='round'/>
<line x1='659.9' y1='145.5' x2='666.4' y2='145.5' stroke='#000' stroke-width='3.0' stroke-linecap='round'/>
<line x1='659.9' y1='104.7' x2='666.4' y2='104.7' stroke='#000' stroke-width='3.0' stroke-linecap='round'/>
<text x='705.2' y='803.8' font-family='Liberation Sans' font-size='45.73' font-weight='bold' fill='#000'>Raman Shift (cm</text>
<text x='1065.79' y='782' font-family='Liberation Serif' font-size='26.15' font-weight='normal' fill='#000'>−1</text>
<text x='1097.1' y='803.8' font-family='Liberation Sans' font-size='46' font-weight='bold' fill='#000'>)</text>
<text x='682.21' y='102.6' font-family='Liberation Sans' font-size='32.89' font-weight='bold' fill='#000'>532 nm (2.31 eV)</text>
<text x='1087.69' y='111.3' font-family='Liberation Sans' font-size='43.78' font-weight='bold' fill='#000'>5L</text>
<text x='979.46' y='132.4' font-family='Liberation Sans' font-size='34.7' font-weight='bold' fill='#000'>A</text>
<text x='1003.48' y='143.7' font-family='Liberation Sans' font-size='20.29' font-weight='bold' fill='#000'>1g</text>
<text x='1079.34' y='268.4' font-family='Liberation Sans' font-size='31' font-weight='bold' fill='#000'>180°</text>
<text x='1078.44' y='311.1' font-family='Liberation Sans' font-size='31' font-weight='bold' fill='#000'>165°</text>
<text x='1078.44' y='349.5' font-family='Liberation Sans' font-size='31' font-weight='bold' fill='#000'>150°</text>
<text x='1078.44' y='387.8' font-family='Liberation Sans' font-size='31' font-weight='bold' fill='#000'>135°</text>
<text x='1082.34' y='431' font-family='Liberation Sans' font-size='31' font-weight='bold' fill='#000'>120°</text>
<text x='1082.34' y='470.7' font-family='Liberation Sans' font-size='31' font-weight='bold' fill='#000'>105°</text>
<text x='1084.77' y='510.5' font-family='Liberation Sans' font-size='31' font-weight='bold' fill='#000'>90°</text>
<text x='1084.46' y='546.5' font-family='Liberation Sans' font-size='31' font-weight='bold' fill='#000'>75°</text>
<text x='1084.46' y='579.8' font-family='Liberation Sans' font-size='31' font-weight='bold' fill='#000'>60°</text>
<text x='1085.39' y='612.2' font-family='Liberation Sans' font-size='31' font-weight='bold' fill='#000'>45°</text>
<text x='1085.08' y='645.2' font-family='Liberation Sans' font-size='31' font-weight='bold' fill='#000'>30°</text>
<text x='1083.84' y='678.5' font-family='Liberation Sans' font-size='31' font-weight='bold' fill='#000'>15°</text>
<text x='1084.46' y='713' font-family='Liberation Sans' font-size='31' font-weight='bold' fill='#000'>0°</text>
<g clip-path='url(#clipAR)'>
<path d='M659.9,702.93 L660.99,703.05 L662.07,702.88 L663.16,701.98 L664.24,702.89 L665.33,702.38 L666.42,703.13 L667.5,702.33 L668.59,703.5 L669.67,703.38 L670.76,704.37 L671.85,703.69 L672.93,703.93 L674.02,703.33 L675.1,703.34 L676.19,704.53 L677.27,703.58 L678.36,703.75 L679.45,703.72 L680.53,704.04 L681.62,702.69 L682.7,702.74 L683.79,704.05 L684.88,705.24 L685.96,702.87 L687.05,703.66 L688.13,704.33 L689.22,703.98 L690.31,704.02 L691.39,703.92 L692.48,704.75 L693.56,704.17 L694.65,704.26 L695.74,703.61 L696.82,704.8 L697.91,705.43 L698.99,704.85 L700.08,704.31 L701.16,703.95 L702.25,705.04 L703.34,705.02 L704.42,704.79 L705.51,703.76 L706.59,704.74 L707.68,704.78 L708.77,704.92 L709.85,705.52 L710.94,704.82 L712.02,705.34 L713.11,706.12 L714.2,705.02 L715.28,705.35 L716.37,705.84 L717.45,705.17 L718.54,704.85 L719.63,705.91 L720.71,706.57 L721.8,705.17 L722.88,706.05 L723.97,705.79 L725.05,706.89 L726.14,705.16 L727.23,705.89 L728.31,705.14 L729.4,705.44 L730.48,706.24 L731.57,706.14 L732.66,706.27 L733.74,705.97 L734.83,705.48 L735.91,706.85 L737,707.38 L738.09,706.59 L739.17,706.42 L740.26,707.58 L741.34,707.17 L742.43,707.27 L743.52,707.62 L744.6,706.74 L745.69,706.85 L746.77,707.44 L747.86,706.59 L748.94,707.36 L750.03,707.47 L751.12,707.89 L752.2,707.86 L753.29,706.81 L754.37,707.71 L755.46,707.98 L756.55,708.41 L757.63,708.36 L758.72,707.52 L759.8,707.54 L760.89,706.95 L761.98,707.33 L763.06,707.32 L764.15,707.03 L765.23,707.53 L766.32,708.39 L767.41,708.68 L768.49,708 L769.58,707.75 L770.66,707.95 L771.75,708.44 L772.83,708.15 L773.92,708.19 L775.01,707.93 L776.09,707.84 L777.18,709.36 L778.26,708.73 L779.35,707.7 L780.44,708.8 L781.52,707.95 L782.61,708.53 L783.69,708.06 L784.78,708.54 L785.87,708.17 L786.95,708.51 L788.04,708.95 L789.12,709.15 L790.21,707.63 L791.3,709.43 L792.38,707.56 L793.47,707.81 L794.55,708.5 L795.64,709.09 L796.72,708.81 L797.81,708.6 L798.9,709.27 L799.98,708.72 L801.07,708.65 L802.15,709.12 L803.24,708.39 L804.33,710.02 L805.41,709.44 L806.5,708.7 L807.58,708.75 L808.67,708.82 L809.76,709.36 L810.84,709.21 L811.93,708.47 L813.01,708.25 L814.1,709.39 L815.19,708.12 L816.27,708.48 L817.36,709.76 L818.44,708.26 L819.53,709.52 L820.61,709.86 L821.7,710.5 L822.79,709.74 L823.87,708.94 L824.96,708.17 L826.04,709.55 L827.13,709.58 L828.22,709.66 L829.3,709.65 L830.39,708.69 L831.47,708.58 L832.56,708.17 L833.65,708.95 L834.73,709.2 L835.82,708.39 L836.9,708.83 L837.99,709.42 L839.08,709.8 L840.16,708.6 L841.25,708.89 L842.33,708.41 L843.42,708.35 L844.5,709.49 L845.59,709.55 L846.68,708.83 L847.76,709.05 L848.85,708.81 L849.93,710.27 L851.02,709.12 L852.11,709.4 L853.19,709.18 L854.28,710.04 L855.36,709.63 L856.45,708.87 L857.54,710.03 L858.62,709.75 L859.71,709.47 L860.79,709.63 L861.88,709.73 L862.97,709.76 L864.05,710.29 L865.14,709.83 L866.22,709.92 L867.31,709.71 L868.39,709.66 L869.48,709.28 L870.57,709.4 L871.65,708.5 L872.74,709.76 L873.82,710.12 L874.91,708.77 L876,708.27 L877.08,709 L878.17,708.4 L879.25,708.99 L880.34,707.45 L881.43,709.28 L882.51,708.94 L883.6,708.22 L884.68,706.78 L885.77,707.86 L886.86,708.99 L887.94,708.18 L889.03,707.42 L890.11,707.9 L891.2,707.61 L892.28,706.99 L893.37,707.52 L894.46,708.01 L895.54,707.8 L896.63,707.73 L897.71,707.17 L898.8,706.52 L899.89,706.88 L900.97,708.09 L902.06,707.27 L903.14,707.24 L904.23,706.25 L905.32,707.52 L906.4,707.01 L907.49,707.78 L908.57,706.63 L909.66,706.7 L910.75,706.75 L911.83,706.41 L912.92,706.38 L914,706.68 L915.09,706.66 L916.17,706.98 L917.26,707.91 L918.35,707.07 L919.43,706.97 L920.52,706.19 L921.6,707.61 L922.69,705.98 L923.78,705.03 L924.86,706.16 L925.95,706.11 L927.03,705.19 L928.12,706.3 L929.21,704.39 L930.29,704.35 L931.38,704.9 L932.46,704.54 L933.55,704.27 L934.64,704.39 L935.72,703.56 L936.81,704.31 L937.89,702.15 L938.98,702.96 L940.06,703.53 L941.15,701.99 L942.24,701.94 L943.32,701.73 L944.41,700.55 L945.49,700.02 L946.58,698.25 L947.67,698.94 L948.75,699.45 L949.84,698.38 L950.92,697.5 L952.01,697.66 L953.1,696.99 L954.18,696.75 L955.27,695.66 L956.35,695.4 L957.44,694.06 L958.53,694.82 L959.61,693.5 L960.7,692.2 L961.78,692.1 L962.87,691.03 L963.95,690.38 L965.04,689.1 L966.13,688.36 L967.21,687.54 L968.3,686.71 L969.38,686.12 L970.47,684.67 L971.56,683.75 L972.64,683.15 L973.73,681.24 L974.81,680.66 L975.9,679.51 L976.99,677.99 L978.07,675.64 L979.16,671.73 L980.24,670.54 L981.33,666.92 L982.42,661.94 L983.5,657.02 L984.59,649 L985.67,638.85 L986.76,626.78 L987.84,611.59 L988.93,592.39 L990.02,571.42 L991.1,552.2 L992.19,540.02 L993.27,538.48 L994.36,550.46 L995.45,571.82 L996.53,592.89 L997.62,612.97 L998.7,629.9 L999.79,643.77 L1000.88,654.46 L1001.96,663 L1003.05,670.14 L1004.13,675.19 L1005.22,679.82 L1006.31,682.14 L1007.39,686.27 L1008.48,689.88 L1009.56,690.16 L1010.65,693.27 L1011.73,693.68 L1012.82,695.23 L1013.91,696.13 L1014.99,696.49 L1016.08,698.27 L1017.16,698.64 L1018.25,700.66 L1019.34,700.01 L1020.42,700.1 L1021.51,702.92 L1022.59,702.11 L1023.68,702.7 L1024.77,704.27 L1025.85,703.17 L1026.94,702.71 L1028.02,703.94 L1029.11,704.36 L1030.2,704.54 L1031.28,705.25 L1032.37,704.5 L1033.45,706.1 L1034.54,705.52 L1035.62,705.66 L1036.71,707 L1037.8,704.97 L1038.88,705.77 L1039.97,707.11 L1041.05,706.85 L1042.14,707.09 L1043.23,706.72 L1044.31,707.69 L1045.4,707.54 L1046.48,706.91 L1047.57,706.82 L1048.66,707.06 L1049.74,707.59 L1050.83,707.58 L1051.91,706.59 L1053,707.62 L1054.09,708.3 L1055.17,708.54 L1056.26,708.21 L1057.34,707.27 L1058.43,707.86 L1059.51,708.47 L1060.6,707.38 L1061.69,708.06 L1062.77,707.75 L1063.86,708.34 L1064.94,708.41 L1066.03,707.83 L1067.12,708.81 L1068.2,708.45 L1069.29,708.07 L1070.37,708.62' fill='none' stroke='#000' stroke-width='3.3' stroke-linejoin='round' stroke-linecap='round' />
<path d='M659.9,667.97 L660.99,667.5 L662.07,667.82 L663.16,667.77 L664.24,667.77 L665.33,666.66 L666.42,668.65 L667.5,667.92 L668.59,667.5 L669.67,667.35 L670.76,667.31 L671.85,668.2 L672.93,668.43 L674.02,668.4 L675.1,668.85 L676.19,667.63 L677.27,669.39 L678.36,668.47 L679.45,668.51 L680.53,668.61 L681.62,669.1 L682.7,668.16 L683.79,669.37 L684.88,667.92 L685.96,669.06 L687.05,668.29 L688.13,669.13 L689.22,668.6 L690.31,669.14 L691.39,668.57 L692.48,668.23 L693.56,668.61 L694.65,670.21 L695.74,669.25 L696.82,669.59 L697.91,669.83 L698.99,670.52 L700.08,669.68 L701.16,669.45 L702.25,671.11 L703.34,669.44 L704.42,670.4 L705.51,670.64 L706.59,671.04 L707.68,671.13 L708.77,670.35 L709.85,671.23 L710.94,670.38 L712.02,671.13 L713.11,670.74 L714.2,671.02 L715.28,672.99 L716.37,670.88 L717.45,670.53 L718.54,671.48 L719.63,672.14 L720.71,670.94 L721.8,671.46 L722.88,671.8 L723.97,671.86 L725.05,671.63 L726.14,671.54 L727.23,672.5 L728.31,672.8 L729.4,672.89 L730.48,671.37 L731.57,671.42 L732.66,673.13 L733.74,671.28 L734.83,672.71 L735.91,671.53 L737,673.21 L738.09,672 L739.17,672.05 L740.26,672.17 L741.34,672.6 L742.43,672.53 L743.52,672.09 L744.6,672.19 L745.69,671.05 L746.77,672.38 L747.86,671.31 L748.94,671.38 L750.03,671.9 L751.12,671.75 L752.2,672.45 L753.29,671.18 L754.37,671.41 L755.46,672.39 L756.55,671.07 L757.63,671.33 L758.72,672.82 L759.8,671.52 L760.89,672.3 L761.98,672.39 L763.06,672.3 L764.15,672.06 L765.23,671.95 L766.32,672.68 L767.41,670.98 L768.49,670.83 L769.58,671.67 L770.66,672.03 L771.75,672.38 L772.83,672.88 L773.92,673.08 L775.01,672.81 L776.09,672.15 L777.18,674.14 L778.26,672.74 L779.35,673.49 L780.44,673.44 L781.52,672.8 L782.61,672.35 L783.69,672.66 L784.78,673.06 L785.87,672.9 L786.95,672.96 L788.04,674.44 L789.12,674.01 L790.21,674.08 L791.3,672.43 L792.38,674.19 L793.47,673.16 L794.55,673.87 L795.64,673.87 L796.72,674.21 L797.81,673.37 L798.9,673.56 L799.98,673.01 L801.07,673.84 L802.15,673.59 L803.24,673.22 L804.33,672.52 L805.41,673.02 L806.5,671.89 L807.58,673.29 L808.67,673.03 L809.76,673.23 L810.84,672.82 L811.93,673.14 L813.01,673.15 L814.1,672.36 L815.19,672.21 L816.27,673.53 L817.36,673.94 L818.44,672.85 L819.53,673.42 L820.61,673.23 L821.7,672.93 L822.79,673.21 L823.87,674.01 L824.96,673.41 L826.04,672.74 L827.13,673.35 L828.22,673.99 L829.3,674.7 L830.39,674.25 L831.47,673.66 L832.56,674.05 L833.65,674.69 L834.73,673.82 L835.82,674.38 L836.9,673.63 L837.99,674.04 L839.08,674.2 L840.16,672.87 L841.25,672.71 L842.33,673.54 L843.42,674.36 L844.5,673.01 L845.59,673.82 L846.68,674.04 L847.76,673.08 L848.85,674.73 L849.93,673.85 L851.02,672.7 L852.11,674.28 L853.19,674.25 L854.28,672.93 L855.36,674.82 L856.45,673.72 L857.54,673.87 L858.62,675.18 L859.71,673.33 L860.79,673.53 L861.88,673.29 L862.97,674.83 L864.05,673.27 L865.14,673.43 L866.22,672.76 L867.31,673.6 L868.39,673.15 L869.48,673.66 L870.57,673.95 L871.65,673.77 L872.74,673.03 L873.82,674.21 L874.91,673.48 L876,672.85 L877.08,673.1 L878.17,674.23 L879.25,673.91 L880.34,673.34 L881.43,673.39 L882.51,673.3 L883.6,672.86 L884.68,673.21 L885.77,673.67 L886.86,672.92 L887.94,672.96 L889.03,671.78 L890.11,672.05 L891.2,672.7 L892.28,671.87 L893.37,672.08 L894.46,672.89 L895.54,671.71 L896.63,671.72 L897.71,672.27 L898.8,672.45 L899.89,670.82 L900.97,672.22 L902.06,671.86 L903.14,672.74 L904.23,671.92 L905.32,672 L906.4,671.5 L907.49,671.26 L908.57,671.52 L909.66,671.28 L910.75,671.4 L911.83,671.66 L912.92,670.84 L914,671.51 L915.09,670.58 L916.17,670.45 L917.26,670.54 L918.35,670.65 L919.43,670.79 L920.52,670.31 L921.6,670.36 L922.69,671.03 L923.78,669.96 L924.86,669.66 L925.95,669.74 L927.03,670.86 L928.12,669.67 L929.21,669.74 L930.29,670 L931.38,669.82 L932.46,669.62 L933.55,669.39 L934.64,668.83 L935.72,668.08 L936.81,667.76 L937.89,667.62 L938.98,668.47 L940.06,667.27 L941.15,667.41 L942.24,666.93 L943.32,666.02 L944.41,666.8 L945.49,666.55 L946.58,666.64 L947.67,665.23 L948.75,665.63 L949.84,664.88 L950.92,664.45 L952.01,663.76 L953.1,663.87 L954.18,663.51 L955.27,661.85 L956.35,661.65 L957.44,661.04 L958.53,660.64 L959.61,660.59 L960.7,659.86 L961.78,658.88 L962.87,658.22 L963.95,656.68 L965.04,656.19 L966.13,656.58 L967.21,656.12 L968.3,654.61 L969.38,653.41 L970.47,652.98 L971.56,651.83 L972.64,652.2 L973.73,650.58 L974.81,649.29 L975.9,647.74 L976.99,648.19 L978.07,646.24 L979.16,644.58 L980.24,642.16 L981.33,639.05 L982.42,635.8 L983.5,631.68 L984.59,625.52 L985.67,617.96 L986.76,608.51 L987.84,595.92 L988.93,580.33 L990.02,564.82 L991.1,549.71 L992.19,540.85 L993.27,538.48 L994.36,548.28 L995.45,563.89 L996.53,581.66 L997.62,596.59 L998.7,611.31 L999.79,621.37 L1000.88,629.38 L1001.96,636.78 L1003.05,642.18 L1004.13,646.12 L1005.22,649.1 L1006.31,652.55 L1007.39,654.8 L1008.48,657.43 L1009.56,657.99 L1010.65,658.69 L1011.73,662.03 L1012.82,661.23 L1013.91,663.95 L1014.99,663.88 L1016.08,665.06 L1017.16,665.31 L1018.25,666.42 L1019.34,667.18 L1020.42,667.31 L1021.51,667.96 L1022.59,668.01 L1023.68,669.19 L1024.77,668.62 L1025.85,669.23 L1026.94,669.08 L1028.02,670.03 L1029.11,669.98 L1030.2,671.08 L1031.28,670.45 L1032.37,670.11 L1033.45,670.24 L1034.54,671.01 L1035.62,670.79 L1036.71,672.61 L1037.8,671.04 L1038.88,671.83 L1039.97,671.17 L1041.05,671.58 L1042.14,672.29 L1043.23,672.07 L1044.31,672.19 L1045.4,671.85 L1046.48,672.91 L1047.57,672.35 L1048.66,672.13 L1049.74,672.4 L1050.83,673.41 L1051.91,672.19 L1053,674.59 L1054.09,672.92 L1055.17,671.6 L1056.26,673.44 L1057.34,671.9 L1058.43,673.64 L1059.51,673.22 L1060.6,673.79 L1061.69,673.7 L1062.77,674.39 L1063.86,673.04 L1064.94,673.74 L1066.03,673.75 L1067.12,673.3 L1068.2,673.1 L1069.29,673.47 L1070.37,673.99' fill='none' stroke='#000' stroke-width='3.3' stroke-linejoin='round' stroke-linecap='round' />
<path d='M659.9,635.39 L660.99,635.75 L662.07,635.86 L663.16,634.9 L664.24,635.92 L665.33,636.03 L666.42,636.24 L667.5,636.69 L668.59,636.91 L669.67,636.09 L670.76,635.47 L671.85,636.08 L672.93,636.82 L674.02,636.74 L675.1,636.08 L676.19,636.19 L677.27,636.31 L678.36,637.07 L679.45,637.27 L680.53,636.74 L681.62,637.98 L682.7,637.12 L683.79,637.4 L684.88,636.54 L685.96,636.85 L687.05,635.79 L688.13,636.78 L689.22,638.07 L690.31,637.07 L691.39,637.48 L692.48,636.61 L693.56,637.42 L694.65,638.79 L695.74,637.18 L696.82,638.53 L697.91,638.6 L698.99,638.05 L700.08,637.94 L701.16,637.97 L702.25,638.05 L703.34,637.6 L704.42,637.95 L705.51,636.99 L706.59,638.7 L707.68,638.23 L708.77,638.55 L709.85,638.46 L710.94,637.71 L712.02,638.71 L713.11,638.93 L714.2,638.34 L715.28,639.06 L716.37,638.62 L717.45,638.06 L718.54,637.91 L719.63,638.54 L720.71,637.63 L721.8,637.68 L722.88,638.47 L723.97,638.82 L725.05,638.18 L726.14,639.19 L727.23,638.1 L728.31,639.03 L729.4,639.06 L730.48,639.8 L731.57,639.54 L732.66,639.76 L733.74,638.73 L734.83,640.03 L735.91,638.96 L737,639.28 L738.09,638.93 L739.17,638.93 L740.26,639.07 L741.34,639.49 L742.43,639.4 L743.52,639.11 L744.6,640.32 L745.69,640.03 L746.77,640.3 L747.86,640.6 L748.94,640.2 L750.03,640.5 L751.12,640.4 L752.2,640.51 L753.29,640.58 L754.37,640.11 L755.46,639.85 L756.55,640.71 L757.63,640.22 L758.72,640.41 L759.8,640.04 L760.89,641.46 L761.98,640.82 L763.06,639.57 L764.15,640.44 L765.23,640.15 L766.32,640.02 L767.41,639.78 L768.49,640.55 L769.58,640.42 L770.66,640.71 L771.75,640.02 L772.83,640.33 L773.92,639.99 L775.01,639.59 L776.09,639.64 L777.18,641.07 L778.26,640.6 L779.35,641.65 L780.44,640.02 L781.52,640.48 L782.61,640.71 L783.69,640.82 L784.78,641.49 L785.87,641.03 L786.95,640.87 L788.04,641.19 L789.12,640.45 L790.21,640.9 L791.3,641.51 L792.38,641.72 L793.47,641.25 L794.55,641.4 L795.64,641.63 L796.72,642.39 L797.81,641.91 L798.9,641.77 L799.98,642.13 L801.07,641.69 L802.15,641.97 L803.24,641.25 L804.33,641.84 L805.41,642.49 L806.5,641.12 L807.58,641.41 L808.67,641.76 L809.76,642.22 L810.84,641.49 L811.93,642.58 L813.01,641.75 L814.1,642.24 L815.19,642.87 L816.27,641.55 L817.36,641.74 L818.44,641.61 L819.53,641.11 L820.61,641.62 L821.7,641.59 L822.79,641.22 L823.87,641.35 L824.96,641.6 L826.04,642.01 L827.13,640.78 L828.22,641.45 L829.3,641.08 L830.39,640.47 L831.47,641.91 L832.56,641.4 L833.65,641.72 L834.73,640.55 L835.82,640.9 L836.9,641.8 L837.99,641.41 L839.08,641 L840.16,640.05 L841.25,641.15 L842.33,641.28 L843.42,641.59 L844.5,641.23 L845.59,641.69 L846.68,641.08 L847.76,640.85 L848.85,640.47 L849.93,641.21 L851.02,641.39 L852.11,641.05 L853.19,642.69 L854.28,640.48 L855.36,641.57 L856.45,641.72 L857.54,641.59 L858.62,642.13 L859.71,640.33 L860.79,642.06 L861.88,640.63 L862.97,640.98 L864.05,641.19 L865.14,641.58 L866.22,641.44 L867.31,641.44 L868.39,640.83 L869.48,641.95 L870.57,640.5 L871.65,641.13 L872.74,641.13 L873.82,641.11 L874.91,640.69 L876,641.35 L877.08,641.45 L878.17,640.54 L879.25,640.38 L880.34,641.48 L881.43,641.08 L882.51,641.86 L883.6,641.65 L884.68,640.71 L885.77,640.97 L886.86,640.34 L887.94,640.97 L889.03,639.61 L890.11,639.75 L891.2,641.49 L892.28,639.53 L893.37,639.83 L894.46,640.38 L895.54,639.66 L896.63,639.94 L897.71,640.83 L898.8,639.27 L899.89,639.63 L900.97,639.82 L902.06,639.12 L903.14,639.42 L904.23,640.3 L905.32,639.82 L906.4,640.13 L907.49,638.6 L908.57,639.14 L909.66,638.39 L910.75,639.03 L911.83,638.89 L912.92,639.49 L914,639.13 L915.09,639.58 L916.17,639.45 L917.26,639.5 L918.35,639.44 L919.43,638.77 L920.52,639.66 L921.6,638.36 L922.69,637.61 L923.78,638.55 L924.86,638.59 L925.95,636.53 L927.03,636.88 L928.12,636.8 L929.21,638.04 L930.29,637.96 L931.38,638.06 L932.46,637.18 L933.55,636.08 L934.64,635.99 L935.72,636.31 L936.81,636.59 L937.89,636.97 L938.98,635.49 L940.06,634.66 L941.15,635.06 L942.24,634.8 L943.32,634.19 L944.41,634.42 L945.49,634.33 L946.58,633.5 L947.67,634.58 L948.75,633.65 L949.84,633.68 L950.92,632.29 L952.01,632.44 L953.1,631.37 L954.18,631.86 L955.27,632.11 L956.35,630.74 L957.44,630.57 L958.53,630.57 L959.61,629.39 L960.7,629.12 L961.78,629.45 L962.87,628.18 L963.95,628.37 L965.04,626.43 L966.13,626.96 L967.21,625.98 L968.3,625.24 L969.38,624.24 L970.47,623.71 L971.56,622.63 L972.64,623.07 L973.73,622.85 L974.81,621.52 L975.9,622.12 L976.99,619.71 L978.07,618.75 L979.16,617.76 L980.24,615.17 L981.33,613.26 L982.42,610.88 L983.5,607.51 L984.59,603.5 L985.67,597.25 L986.76,590.01 L987.84,581.59 L988.93,570.43 L990.02,558.56 L991.1,547.12 L992.19,538.94 L993.27,538.93 L994.36,545.58 L995.45,558.86 L996.53,570.89 L997.62,583.26 L998.7,592.88 L999.79,600.48 L1000.88,607.55 L1001.96,612.12 L1003.05,616.26 L1004.13,618.2 L1005.22,621.91 L1006.31,624.16 L1007.39,625.63 L1008.48,627.84 L1009.56,629 L1010.65,630.09 L1011.73,631.1 L1012.82,632.22 L1013.91,632.67 L1014.99,634.04 L1016.08,634.03 L1017.16,633.54 L1018.25,633.82 L1019.34,635.34 L1020.42,635.33 L1021.51,635.83 L1022.59,635.43 L1023.68,635.23 L1024.77,635.6 L1025.85,636.47 L1026.94,637.43 L1028.02,637.02 L1029.11,637.48 L1030.2,638.13 L1031.28,638.23 L1032.37,637.85 L1033.45,638.28 L1034.54,638.43 L1035.62,637.64 L1036.71,638.87 L1037.8,638.26 L1038.88,638.28 L1039.97,638.3 L1041.05,638.43 L1042.14,639.58 L1043.23,638.14 L1044.31,639.97 L1045.4,640 L1046.48,639.83 L1047.57,639.61 L1048.66,639.31 L1049.74,639.57 L1050.83,639.57 L1051.91,638.61 L1053,639.29 L1054.09,640.46 L1055.17,640.25 L1056.26,640.4 L1057.34,640.15 L1058.43,640 L1059.51,640.03 L1060.6,641.57 L1061.69,641.23 L1062.77,640.79 L1063.86,640.08 L1064.94,641.18 L1066.03,641.2 L1067.12,641.36 L1068.2,641.14 L1069.29,642.35 L1070.37,641.02' fill='none' stroke='#000' stroke-width='3.3' stroke-linejoin='round' stroke-linecap='round' />
<path d='M659.9,605.6 L660.99,604.26 L662.07,605.16 L663.16,605.12 L664.24,605.66 L665.33,605.33 L666.42,605.43 L667.5,604.54 L668.59,606.52 L669.67,605.06 L670.76,605.13 L671.85,605.78 L672.93,606.44 L674.02,606.35 L675.1,606.09 L676.19,605.79 L677.27,604.82 L678.36,605.89 L679.45,605.47 L680.53,606.28 L681.62,605.9 L682.7,606.14 L683.79,605.49 L684.88,605.93 L685.96,606.81 L687.05,605.32 L688.13,606.6 L689.22,605.87 L690.31,606.05 L691.39,606.48 L692.48,605.46 L693.56,605.65 L694.65,605.53 L695.74,605.87 L696.82,605.82 L697.91,605.41 L698.99,605.88 L700.08,605.74 L701.16,606.09 L702.25,606.69 L703.34,606.57 L704.42,607.18 L705.51,606.96 L706.59,606.15 L707.68,605.73 L708.77,606.71 L709.85,606.65 L710.94,607.41 L712.02,607.28 L713.11,608.42 L714.2,607.6 L715.28,606.74 L716.37,606.32 L717.45,607.82 L718.54,606.87 L719.63,606.62 L720.71,607.41 L721.8,606.73 L722.88,608.09 L723.97,607.34 L725.05,607.1 L726.14,607.03 L727.23,606.26 L728.31,607.02 L729.4,607.77 L730.48,608.52 L731.57,609.54 L732.66,608.28 L733.74,608.12 L734.83,607.72 L735.91,607.9 L737,607.44 L738.09,607.54 L739.17,608.83 L740.26,606.63 L741.34,606.9 L742.43,608.7 L743.52,607.59 L744.6,608.01 L745.69,607.31 L746.77,607.95 L747.86,607.78 L748.94,607.32 L750.03,608.25 L751.12,608.43 L752.2,608.9 L753.29,609.47 L754.37,608.65 L755.46,607.75 L756.55,608.12 L757.63,608.87 L758.72,607.46 L759.8,609.13 L760.89,608.21 L761.98,607.42 L763.06,608.73 L764.15,609.91 L765.23,609.67 L766.32,608.64 L767.41,608.57 L768.49,608.97 L769.58,608.36 L770.66,608.87 L771.75,608.95 L772.83,609 L773.92,609.78 L775.01,610.39 L776.09,609.91 L777.18,609.08 L778.26,609.38 L779.35,609.86 L780.44,609.21 L781.52,609.18 L782.61,609.65 L783.69,609.77 L784.78,609.78 L785.87,609.63 L786.95,610.04 L788.04,608.64 L789.12,609.4 L790.21,608.91 L791.3,610.07 L792.38,609.23 L793.47,609.3 L794.55,609.75 L795.64,609.72 L796.72,609.06 L797.81,608.78 L798.9,609.37 L799.98,608.55 L801.07,609.51 L802.15,610.28 L803.24,610.94 L804.33,609.9 L805.41,609.34 L806.5,609.59 L807.58,609.26 L808.67,609.2 L809.76,608.79 L810.84,609.88 L811.93,610.42 L813.01,610.39 L814.1,610.12 L815.19,609.99 L816.27,610 L817.36,609.81 L818.44,609.94 L819.53,611.39 L820.61,610.27 L821.7,608.85 L822.79,609.71 L823.87,610.03 L824.96,610.3 L826.04,610.83 L827.13,610.57 L828.22,610.89 L829.3,610.79 L830.39,610.35 L831.47,609.56 L832.56,609.77 L833.65,609.82 L834.73,610.09 L835.82,609.06 L836.9,611 L837.99,609.51 L839.08,610.19 L840.16,609.47 L841.25,609.33 L842.33,611.45 L843.42,610.03 L844.5,610.13 L845.59,610.3 L846.68,610.41 L847.76,610.33 L848.85,610.72 L849.93,610.23 L851.02,610.37 L852.11,610.69 L853.19,610.65 L854.28,610.33 L855.36,610.35 L856.45,609.82 L857.54,610.06 L858.62,609.65 L859.71,610.08 L860.79,610.43 L861.88,610.2 L862.97,611.13 L864.05,610.06 L865.14,609.99 L866.22,610.28 L867.31,609.75 L868.39,610.19 L869.48,609.87 L870.57,610.6 L871.65,610.19 L872.74,609.25 L873.82,609.18 L874.91,611.58 L876,609.6 L877.08,608.9 L878.17,609.44 L879.25,609.33 L880.34,609.11 L881.43,609.72 L882.51,609.19 L883.6,609.34 L884.68,608.84 L885.77,608.71 L886.86,609.12 L887.94,609.21 L889.03,609.38 L890.11,608.41 L891.2,609.68 L892.28,609.34 L893.37,609.5 L894.46,609.14 L895.54,608.99 L896.63,609.37 L897.71,609.5 L898.8,609.66 L899.89,608.94 L900.97,607.94 L902.06,609.42 L903.14,608.89 L904.23,609.22 L905.32,608.76 L906.4,609.47 L907.49,608.77 L908.57,607.85 L909.66,607.3 L910.75,609.14 L911.83,607.67 L912.92,608.46 L914,607.33 L915.09,607.11 L916.17,608.77 L917.26,607.73 L918.35,607.3 L919.43,608.28 L920.52,606.53 L921.6,606.34 L922.69,607.92 L923.78,606.57 L924.86,607.04 L925.95,606.3 L927.03,605.83 L928.12,606.71 L929.21,605.71 L930.29,604.82 L931.38,605.34 L932.46,605.34 L933.55,605.18 L934.64,606.28 L935.72,604.64 L936.81,604.84 L937.89,603.83 L938.98,604.27 L940.06,603.93 L941.15,604.24 L942.24,604.71 L943.32,603.71 L944.41,603.29 L945.49,603.45 L946.58,602.32 L947.67,601.36 L948.75,601.79 L949.84,601.47 L950.92,601.02 L952.01,600.37 L953.1,600.34 L954.18,599.07 L955.27,598.82 L956.35,598.15 L957.44,598.21 L958.53,598.37 L959.61,597.01 L960.7,598.41 L961.78,596.76 L962.87,596.2 L963.95,596.62 L965.04,597.47 L966.13,595.37 L967.21,596 L968.3,595.1 L969.38,595.5 L970.47,594.92 L971.56,594.59 L972.64,595.69 L973.73,594.32 L974.81,592.68 L975.9,592.19 L976.99,592.3 L978.07,592.07 L979.16,589.4 L980.24,589.85 L981.33,588.85 L982.42,587.18 L983.5,584.6 L984.59,581.25 L985.67,577.68 L986.76,573.57 L987.84,566.73 L988.93,559.64 L990.02,550.14 L991.1,542.9 L992.19,537.51 L993.27,538.53 L994.36,543.57 L995.45,550.95 L996.53,558.63 L997.62,566.28 L998.7,574.14 L999.79,580.35 L1000.88,583.69 L1001.96,587.16 L1003.05,589.42 L1004.13,592.52 L1005.22,595.67 L1006.31,596.57 L1007.39,596.8 L1008.48,599.11 L1009.56,599.25 L1010.65,600.84 L1011.73,600.66 L1012.82,601.38 L1013.91,602.96 L1014.99,603.72 L1016.08,602.89 L1017.16,603.79 L1018.25,603.51 L1019.34,603.73 L1020.42,602.94 L1021.51,604.16 L1022.59,604.99 L1023.68,604.93 L1024.77,605.45 L1025.85,605.48 L1026.94,605.29 L1028.02,606.06 L1029.11,606.01 L1030.2,606.71 L1031.28,606.25 L1032.37,606.12 L1033.45,607.2 L1034.54,607.38 L1035.62,607.48 L1036.71,608.2 L1037.8,607.72 L1038.88,607.69 L1039.97,607.55 L1041.05,607.8 L1042.14,606.68 L1043.23,607.24 L1044.31,606.89 L1045.4,607.79 L1046.48,607.31 L1047.57,607.96 L1048.66,607.98 L1049.74,606.84 L1050.83,608.13 L1051.91,607.14 L1053,608.61 L1054.09,608.75 L1055.17,608.19 L1056.26,608.09 L1057.34,607.28 L1058.43,608.15 L1059.51,608.89 L1060.6,608.24 L1061.69,608.89 L1062.77,608.25 L1063.86,607.16 L1064.94,609.28 L1066.03,607.97 L1067.12,609.25 L1068.2,608.25 L1069.29,608.74 L1070.37,608.16' fill='none' stroke='#000' stroke-width='3.3' stroke-linejoin='round' stroke-linecap='round' />
<path d='M659.9,574.49 L660.99,574.35 L662.07,574.44 L663.16,574.91 L664.24,574.04 L665.33,573.63 L666.42,573.19 L667.5,573.99 L668.59,574.45 L669.67,573.91 L670.76,574.42 L671.85,574.75 L672.93,574.56 L674.02,574.5 L675.1,573.84 L676.19,574.9 L677.27,573.66 L678.36,575.07 L679.45,575.25 L680.53,573.53 L681.62,575.53 L682.7,574.46 L683.79,575.46 L684.88,574.97 L685.96,575.2 L687.05,574.94 L688.13,575.17 L689.22,574.41 L690.31,575.59 L691.39,575.52 L692.48,575.07 L693.56,575.85 L694.65,575.56 L695.74,575.56 L696.82,575.35 L697.91,575.68 L698.99,576.64 L700.08,575.87 L701.16,576.21 L702.25,575.28 L703.34,575.74 L704.42,575.89 L705.51,576.84 L706.59,576.41 L707.68,575.9 L708.77,575.98 L709.85,575.4 L710.94,576.1 L712.02,576.83 L713.11,576.84 L714.2,576.44 L715.28,576.56 L716.37,577.17 L717.45,576.6 L718.54,577.41 L719.63,577.48 L720.71,577.22 L721.8,577.05 L722.88,577.41 L723.97,577.75 L725.05,576.87 L726.14,576.98 L727.23,578.35 L728.31,577.53 L729.4,577.81 L730.48,577.81 L731.57,578.19 L732.66,577.71 L733.74,577.65 L734.83,577.84 L735.91,578.58 L737,577.89 L738.09,578.56 L739.17,578.49 L740.26,578.25 L741.34,577.76 L742.43,578.67 L743.52,578.25 L744.6,578.94 L745.69,578.25 L746.77,578.18 L747.86,578.85 L748.94,578.71 L750.03,578.15 L751.12,579.37 L752.2,578.29 L753.29,578.22 L754.37,577.63 L755.46,577.78 L756.55,578.29 L757.63,577.58 L758.72,578.71 L759.8,577.68 L760.89,579.28 L761.98,578.26 L763.06,577.41 L764.15,579.07 L765.23,577.67 L766.32,578.33 L767.41,578.2 L768.49,578.52 L769.58,579.04 L770.66,578.22 L771.75,578.73 L772.83,578.6 L773.92,578.74 L775.01,577.71 L776.09,578.33 L777.18,579.12 L778.26,579.19 L779.35,577.1 L780.44,578.26 L781.52,578.74 L782.61,579.38 L783.69,578.29 L784.78,578.92 L785.87,579.7 L786.95,580.45 L788.04,579.17 L789.12,579.45 L790.21,578.61 L791.3,579.59 L792.38,579.24 L793.47,578.29 L794.55,579.59 L795.64,580.39 L796.72,579.41 L797.81,579.96 L798.9,579.14 L799.98,578.07 L801.07,579.05 L802.15,578.46 L803.24,579.59 L804.33,579.21 L805.41,578.69 L806.5,578.96 L807.58,578.32 L808.67,579.03 L809.76,578.47 L810.84,579.02 L811.93,578.42 L813.01,578.5 L814.1,577.77 L815.19,578.95 L816.27,577.72 L817.36,577.61 L818.44,578.13 L819.53,578.47 L820.61,578.66 L821.7,577.14 L822.79,577.98 L823.87,578.14 L824.96,579.71 L826.04,578.84 L827.13,578.25 L828.22,578.83 L829.3,579.72 L830.39,577.53 L831.47,578.49 L832.56,578.68 L833.65,579.56 L834.73,577.7 L835.82,579.63 L836.9,579.39 L837.99,579.06 L839.08,579.34 L840.16,578.73 L841.25,579.11 L842.33,579.92 L843.42,578.94 L844.5,578.8 L845.59,579.88 L846.68,578.55 L847.76,579.89 L848.85,578.9 L849.93,579.52 L851.02,578.3 L852.11,578.36 L853.19,579.69 L854.28,578.47 L855.36,577.91 L856.45,578.79 L857.54,578.86 L858.62,578.95 L859.71,578.3 L860.79,578.91 L861.88,578.5 L862.97,578 L864.05,577.91 L865.14,578.12 L866.22,578.4 L867.31,577.76 L868.39,578.13 L869.48,577.84 L870.57,578 L871.65,577.74 L872.74,577.48 L873.82,577.01 L874.91,578.32 L876,577.64 L877.08,577.11 L878.17,578.78 L879.25,578.14 L880.34,578.49 L881.43,576.64 L882.51,577.69 L883.6,577.98 L884.68,577.53 L885.77,577.09 L886.86,577.47 L887.94,576.65 L889.03,577.19 L890.11,576.23 L891.2,577.19 L892.28,577.46 L893.37,576.06 L894.46,577.07 L895.54,577.74 L896.63,576.88 L897.71,576.94 L898.8,576.14 L899.89,576.55 L900.97,576.64 L902.06,576.22 L903.14,576.52 L904.23,576.73 L905.32,575.63 L906.4,576.31 L907.49,576.52 L908.57,576.88 L909.66,575.51 L910.75,576.73 L911.83,576.75 L912.92,576.52 L914,576.63 L915.09,575.18 L916.17,575.8 L917.26,576.12 L918.35,574.89 L919.43,575.44 L920.52,576.48 L921.6,574.95 L922.69,576.46 L923.78,574.98 L924.86,575.69 L925.95,573.8 L927.03,574.6 L928.12,574.97 L929.21,573.4 L930.29,574.37 L931.38,573.99 L932.46,574.25 L933.55,574.6 L934.64,574.02 L935.72,574.27 L936.81,573.67 L937.89,574.98 L938.98,573.5 L940.06,574 L941.15,573.24 L942.24,572.96 L943.32,573.1 L944.41,572.86 L945.49,571.9 L946.58,573.28 L947.67,572.9 L948.75,571.97 L949.84,572.18 L950.92,572.14 L952.01,570.61 L953.1,570.81 L954.18,570.95 L955.27,570.72 L956.35,570.06 L957.44,570.66 L958.53,568.63 L959.61,569.65 L960.7,567.96 L961.78,568.85 L962.87,568.34 L963.95,568.04 L965.04,567.12 L966.13,567.17 L967.21,567.84 L968.3,567.33 L969.38,566.96 L970.47,567.37 L971.56,566.71 L972.64,565.17 L973.73,565.04 L974.81,565.65 L975.9,564.66 L976.99,563.84 L978.07,563.75 L979.16,563.98 L980.24,561.9 L981.33,562.81 L982.42,561.28 L983.5,560.49 L984.59,559.16 L985.67,556.43 L986.76,554.64 L987.84,550.61 L988.93,545.77 L990.02,542.31 L991.1,536.59 L992.19,534.26 L993.27,533.31 L994.36,537 L995.45,541.88 L996.53,547.77 L997.62,553.35 L998.7,555.78 L999.79,559.3 L1000.88,562.15 L1001.96,564.13 L1003.05,565.38 L1004.13,567 L1005.22,568.01 L1006.31,570.01 L1007.39,570.05 L1008.48,571.33 L1009.56,571.45 L1010.65,570.62 L1011.73,571.19 L1012.82,572.15 L1013.91,572.05 L1014.99,573.44 L1016.08,572.55 L1017.16,572.93 L1018.25,573.5 L1019.34,573.92 L1020.42,574.46 L1021.51,572.59 L1022.59,574.44 L1023.68,573.28 L1024.77,573.98 L1025.85,575.16 L1026.94,573.7 L1028.02,573.88 L1029.11,575 L1030.2,574.43 L1031.28,574.84 L1032.37,573.76 L1033.45,574.57 L1034.54,574.83 L1035.62,574.62 L1036.71,574.86 L1037.8,574.49 L1038.88,574.57 L1039.97,575.77 L1041.05,574.68 L1042.14,573.93 L1043.23,574.33 L1044.31,575.47 L1045.4,574.89 L1046.48,575.01 L1047.57,575.49 L1048.66,575.26 L1049.74,575.36 L1050.83,574.46 L1051.91,574.81 L1053,574.92 L1054.09,575.6 L1055.17,575 L1056.26,576.04 L1057.34,575.01 L1058.43,575.65 L1059.51,575.58 L1060.6,575.04 L1061.69,575.37 L1062.77,575.52 L1063.86,575.91 L1064.94,576.26 L1066.03,576.3 L1067.12,576.03 L1068.2,575.64 L1069.29,576.18 L1070.37,575.71' fill='none' stroke='#000' stroke-width='3.3' stroke-linejoin='round' stroke-linecap='round' />
<path d='M659.9,541.43 L660.99,541.68 L662.07,540.79 L663.16,541.53 L664.24,540.51 L665.33,542.06 L666.42,542.21 L667.5,542.2 L668.59,541.64 L669.67,542.33 L670.76,542.53 L671.85,542.04 L672.93,542.5 L674.02,542.31 L675.1,543.21 L676.19,542.29 L677.27,542.67 L678.36,543.59 L679.45,542.5 L680.53,542.84 L681.62,543.11 L682.7,542.38 L683.79,542.47 L684.88,543.41 L685.96,541.97 L687.05,543.49 L688.13,544.04 L689.22,543.86 L690.31,543.9 L691.39,543.22 L692.48,543.7 L693.56,543.36 L694.65,543.4 L695.74,542.67 L696.82,542.94 L697.91,544.2 L698.99,543.51 L700.08,544.4 L701.16,544.55 L702.25,542.68 L703.34,544.01 L704.42,543.3 L705.51,543.75 L706.59,544.12 L707.68,544.26 L708.77,543.78 L709.85,543.18 L710.94,543.96 L712.02,544.22 L713.11,543.63 L714.2,544.4 L715.28,544.1 L716.37,543.68 L717.45,543.7 L718.54,544.05 L719.63,544.68 L720.71,544.35 L721.8,543.44 L722.88,544.02 L723.97,544.25 L725.05,543.59 L726.14,544.39 L727.23,544.48 L728.31,544.33 L729.4,544.26 L730.48,544.65 L731.57,543.67 L732.66,543.84 L733.74,544.02 L734.83,544.5 L735.91,543.97 L737,543.02 L738.09,543.96 L739.17,543.78 L740.26,543.67 L741.34,543.88 L742.43,543.48 L743.52,543.55 L744.6,544.64 L745.69,544.48 L746.77,544.33 L747.86,543.34 L748.94,544.25 L750.03,544.1 L751.12,544.37 L752.2,545.07 L753.29,544.33 L754.37,544.77 L755.46,544.84 L756.55,543.73 L757.63,544.41 L758.72,544.44 L759.8,544.46 L760.89,544.33 L761.98,545.51 L763.06,543.79 L764.15,544.47 L765.23,544.33 L766.32,545.84 L767.41,545.53 L768.49,545.79 L769.58,544.91 L770.66,543.88 L771.75,544.51 L772.83,545.18 L773.92,545.28 L775.01,544.69 L776.09,544.86 L777.18,545.75 L778.26,545.16 L779.35,544.89 L780.44,544.17 L781.52,544.56 L782.61,544.77 L783.69,545.07 L784.78,546.32 L785.87,545.11 L786.95,545.4 L788.04,545.23 L789.12,543.99 L790.21,544.38 L791.3,545.56 L792.38,545.53 L793.47,545.02 L794.55,544.32 L795.64,545.09 L796.72,544.98 L797.81,546.3 L798.9,545.4 L799.98,545.24 L801.07,544.5 L802.15,544.46 L803.24,545.38 L804.33,544.95 L805.41,544.55 L806.5,545.15 L807.58,545.39 L808.67,545.06 L809.76,544.01 L810.84,545.01 L811.93,545.3 L813.01,544.65 L814.1,545.38 L815.19,546.23 L816.27,545.43 L817.36,545.13 L818.44,545.79 L819.53,545.83 L820.61,545.3 L821.7,545.01 L822.79,545.38 L823.87,544.74 L824.96,546.04 L826.04,545.06 L827.13,545.27 L828.22,545.96 L829.3,545.25 L830.39,544.89 L831.47,544.78 L832.56,544.61 L833.65,545.18 L834.73,545.19 L835.82,545.29 L836.9,545.42 L837.99,544.77 L839.08,544.62 L840.16,544.33 L841.25,544.09 L842.33,544.51 L843.42,543.93 L844.5,543.63 L845.59,544.35 L846.68,543.49 L847.76,544.91 L848.85,544.77 L849.93,544.44 L851.02,545.14 L852.11,544.71 L853.19,545.33 L854.28,544.85 L855.36,544.79 L856.45,544.29 L857.54,543.51 L858.62,544.16 L859.71,544.15 L860.79,543.9 L861.88,545.48 L862.97,543.84 L864.05,544.91 L865.14,544.15 L866.22,545.15 L867.31,544.63 L868.39,545.19 L869.48,543.95 L870.57,545.14 L871.65,544.99 L872.74,545.01 L873.82,545.22 L874.91,545.01 L876,544.54 L877.08,545.44 L878.17,545 L879.25,543.93 L880.34,544.43 L881.43,544.25 L882.51,543.86 L883.6,544.3 L884.68,544.83 L885.77,544.69 L886.86,544.22 L887.94,545.05 L889.03,545.06 L890.11,544.61 L891.2,543.34 L892.28,544.77 L893.37,543.9 L894.46,544.64 L895.54,543.73 L896.63,544.23 L897.71,542.72 L898.8,543.01 L899.89,545.33 L900.97,544.35 L902.06,544.35 L903.14,543.91 L904.23,543.88 L905.32,543.54 L906.4,543.62 L907.49,544.02 L908.57,543.86 L909.66,543.81 L910.75,542.66 L911.83,543.71 L912.92,543.71 L914,543.88 L915.09,542.88 L916.17,543.78 L917.26,543.37 L918.35,542.55 L919.43,542.89 L920.52,542.83 L921.6,542 L922.69,543.55 L923.78,541.87 L924.86,542.09 L925.95,542.24 L927.03,541.4 L928.12,541.24 L929.21,541.1 L930.29,541.12 L931.38,541.56 L932.46,541.51 L933.55,542.51 L934.64,541.58 L935.72,541.66 L936.81,540.62 L937.89,540.13 L938.98,540.24 L940.06,540.06 L941.15,540.69 L942.24,540.63 L943.32,539.55 L944.41,539.34 L945.49,538.85 L946.58,538.95 L947.67,539.91 L948.75,539.07 L949.84,538.3 L950.92,538.65 L952.01,538.86 L953.1,537.33 L954.18,537.99 L955.27,536.44 L956.35,537.49 L957.44,536.5 L958.53,536.52 L959.61,536.61 L960.7,536.66 L961.78,536.58 L962.87,535.52 L963.95,535.68 L965.04,535.75 L966.13,535.54 L967.21,536.44 L968.3,535.67 L969.38,535.24 L970.47,534.57 L971.56,535.72 L972.64,534.41 L973.73,534.65 L974.81,534.41 L975.9,535.45 L976.99,535.11 L978.07,535.72 L979.16,534.07 L980.24,536.55 L981.33,534.92 L982.42,535 L983.5,534.55 L984.59,534.69 L985.67,534.6 L986.76,532.25 L987.84,533.29 L988.93,531.61 L990.02,530.87 L991.1,529.54 L992.19,528.2 L993.27,528.84 L994.36,529.73 L995.45,530.42 L996.53,530.97 L997.62,534.34 L998.7,535.36 L999.79,535.62 L1000.88,537.4 L1001.96,536.95 L1003.05,537.77 L1004.13,538.33 L1005.22,537.64 L1006.31,538.45 L1007.39,538.27 L1008.48,539.11 L1009.56,538.19 L1010.65,539.59 L1011.73,539.61 L1012.82,539.83 L1013.91,539.49 L1014.99,540.6 L1016.08,541.09 L1017.16,540.19 L1018.25,541.32 L1019.34,540.52 L1020.42,540.36 L1021.51,541.17 L1022.59,541.23 L1023.68,541.13 L1024.77,540.8 L1025.85,541.56 L1026.94,541.53 L1028.02,541.14 L1029.11,540.62 L1030.2,541.26 L1031.28,542.09 L1032.37,542.69 L1033.45,542.5 L1034.54,541.95 L1035.62,542.49 L1036.71,541.51 L1037.8,542.01 L1038.88,541.62 L1039.97,541.16 L1041.05,542.24 L1042.14,541.93 L1043.23,542.92 L1044.31,541.62 L1045.4,540.89 L1046.48,542.37 L1047.57,543.29 L1048.66,542.12 L1049.74,543.05 L1050.83,542.56 L1051.91,541.1 L1053,542.52 L1054.09,542.39 L1055.17,542.43 L1056.26,541.55 L1057.34,542.68 L1058.43,541.68 L1059.51,542.06 L1060.6,542.98 L1061.69,542.33 L1062.77,542.45 L1063.86,542.76 L1064.94,542.61 L1066.03,542.53 L1067.12,541.45 L1068.2,543.79 L1069.29,542.15 L1070.37,543.48' fill='none' stroke='#000' stroke-width='3.3' stroke-linejoin='round' stroke-linecap='round' />
<path d='M659.9,506.06 L660.99,505.94 L662.07,505.95 L663.16,505.42 L664.24,504.14 L665.33,505.75 L666.42,506.26 L667.5,506.56 L668.59,506.1 L669.67,504.02 L670.76,507.02 L671.85,506.24 L672.93,506.72 L674.02,506.38 L675.1,505.73 L676.19,505.35 L677.27,507.1 L678.36,506.52 L679.45,506.34 L680.53,505.88 L681.62,505.91 L682.7,505.2 L683.79,505.16 L684.88,506.55 L685.96,505.79 L687.05,506.24 L688.13,505.96 L689.22,506.42 L690.31,506.25 L691.39,506.21 L692.48,506.23 L693.56,506.38 L694.65,507.37 L695.74,505.88 L696.82,506.14 L697.91,506.57 L698.99,506.46 L700.08,507.05 L701.16,506.65 L702.25,506.4 L703.34,507.14 L704.42,507.57 L705.51,509.04 L706.59,507.94 L707.68,507.82 L708.77,507.88 L709.85,507.71 L710.94,508.41 L712.02,507.13 L713.11,508.32 L714.2,507.37 L715.28,506.55 L716.37,507.48 L717.45,507.05 L718.54,508.42 L719.63,507.99 L720.71,508.16 L721.8,508.97 L722.88,507.95 L723.97,508.55 L725.05,508.59 L726.14,508.22 L727.23,509.09 L728.31,508.56 L729.4,508.27 L730.48,507.34 L731.57,507.45 L732.66,507.9 L733.74,507.87 L734.83,507.44 L735.91,507.22 L737,507.94 L738.09,507.99 L739.17,508.49 L740.26,507.75 L741.34,507.78 L742.43,508.46 L743.52,508.65 L744.6,508.2 L745.69,507.75 L746.77,507.07 L747.86,507.97 L748.94,507.18 L750.03,507.27 L751.12,507.64 L752.2,508.57 L753.29,508.41 L754.37,508.32 L755.46,507.47 L756.55,508.88 L757.63,509.11 L758.72,509.52 L759.8,508.62 L760.89,509.28 L761.98,509.26 L763.06,509.42 L764.15,509.32 L765.23,509.13 L766.32,508.49 L767.41,508.34 L768.49,509.68 L769.58,507.82 L770.66,509.27 L771.75,508.14 L772.83,508.6 L773.92,508.84 L775.01,508.93 L776.09,507.67 L777.18,508.46 L778.26,508.31 L779.35,509.45 L780.44,507.59 L781.52,508.95 L782.61,507.31 L783.69,509.8 L784.78,508.61 L785.87,509.32 L786.95,508.61 L788.04,510.1 L789.12,509.46 L790.21,509.44 L791.3,509.52 L792.38,508.6 L793.47,508.58 L794.55,509.56 L795.64,508.85 L796.72,509.03 L797.81,509.11 L798.9,507.82 L799.98,508.07 L801.07,508.91 L802.15,508.74 L803.24,508.01 L804.33,509.63 L805.41,509.88 L806.5,507.9 L807.58,507.96 L808.67,508.36 L809.76,509.27 L810.84,508.36 L811.93,507.63 L813.01,508.15 L814.1,508.1 L815.19,508.09 L816.27,508.1 L817.36,507.73 L818.44,508.73 L819.53,508.26 L820.61,509.16 L821.7,509.21 L822.79,508.23 L823.87,509.34 L824.96,508.54 L826.04,509.66 L827.13,509.85 L828.22,509.33 L829.3,508.3 L830.39,508.89 L831.47,508.32 L832.56,508.81 L833.65,509.16 L834.73,509.27 L835.82,509.18 L836.9,509.55 L837.99,509.75 L839.08,509.69 L840.16,508.84 L841.25,509.15 L842.33,508.35 L843.42,509.45 L844.5,509.31 L845.59,509.92 L846.68,509.19 L847.76,510.12 L848.85,508.02 L849.93,508.86 L851.02,509.85 L852.11,509.46 L853.19,509.4 L854.28,508.73 L855.36,508.13 L856.45,509.18 L857.54,508.25 L858.62,509.08 L859.71,509.41 L860.79,509.2 L861.88,508.88 L862.97,508.85 L864.05,508.92 L865.14,507.54 L866.22,507.6 L867.31,508.67 L868.39,508.91 L869.48,508.1 L870.57,507.74 L871.65,508.33 L872.74,508.25 L873.82,507.99 L874.91,508.31 L876,507.87 L877.08,508.52 L878.17,507.23 L879.25,507.93 L880.34,508.46 L881.43,507.53 L882.51,508.62 L883.6,507.52 L884.68,508.01 L885.77,507.43 L886.86,507.35 L887.94,507.6 L889.03,507.4 L890.11,507.57 L891.2,508.13 L892.28,507.59 L893.37,508.6 L894.46,506.45 L895.54,507.55 L896.63,507.81 L897.71,507.59 L898.8,507.51 L899.89,506.91 L900.97,506.95 L902.06,506.83 L903.14,506.34 L904.23,507.01 L905.32,506.94 L906.4,507.64 L907.49,507.42 L908.57,506.07 L909.66,506.66 L910.75,506.28 L911.83,506.4 L912.92,505.43 L914,506.67 L915.09,505.43 L916.17,506.77 L917.26,506.49 L918.35,505.79 L919.43,505.7 L920.52,506.73 L921.6,506.55 L922.69,506.49 L923.78,505.72 L924.86,505.48 L925.95,506.43 L927.03,505.52 L928.12,506.24 L929.21,504.84 L930.29,504.42 L931.38,505.94 L932.46,504.87 L933.55,504.78 L934.64,505.82 L935.72,505.83 L936.81,504.46 L937.89,504.99 L938.98,504.11 L940.06,505.6 L941.15,504.34 L942.24,504.27 L943.32,505.1 L944.41,503.92 L945.49,504.14 L946.58,504.14 L947.67,504.16 L948.75,503.57 L949.84,503.94 L950.92,504.05 L952.01,503.71 L953.1,503.81 L954.18,504.05 L955.27,504.34 L956.35,503.54 L957.44,503.58 L958.53,503.2 L959.61,502.64 L960.7,503.02 L961.78,503.13 L962.87,503.1 L963.95,503.63 L965.04,503.5 L966.13,502.78 L967.21,502.86 L968.3,502.48 L969.38,501.66 L970.47,502.62 L971.56,502.4 L972.64,502.83 L973.73,503.16 L974.81,502.55 L975.9,503.55 L976.99,501.32 L978.07,502.35 L979.16,502.26 L980.24,503.22 L981.33,503.74 L982.42,502.7 L983.5,503.2 L984.59,503.15 L985.67,502.63 L986.76,504.21 L987.84,503.68 L988.93,503.01 L990.02,503.12 L991.1,503.94 L992.19,504.7 L993.27,503.84 L994.36,503.41 L995.45,504.62 L996.53,504.64 L997.62,504.12 L998.7,504.11 L999.79,504.28 L1000.88,503.38 L1001.96,504.49 L1003.05,505.43 L1004.13,505.26 L1005.22,504.97 L1006.31,504.29 L1007.39,504.51 L1008.48,504.33 L1009.56,504.67 L1010.65,504.56 L1011.73,505.35 L1012.82,504.79 L1013.91,504.13 L1014.99,504.89 L1016.08,505.31 L1017.16,503.74 L1018.25,505.24 L1019.34,505.53 L1020.42,505.38 L1021.51,504.38 L1022.59,505.31 L1023.68,505.51 L1024.77,505.12 L1025.85,505.61 L1026.94,505.14 L1028.02,504.26 L1029.11,504.97 L1030.2,503.91 L1031.28,505.12 L1032.37,504.24 L1033.45,504.97 L1034.54,504.22 L1035.62,504.91 L1036.71,504.44 L1037.8,504.77 L1038.88,503.57 L1039.97,504.76 L1041.05,505.71 L1042.14,505.49 L1043.23,505.09 L1044.31,504.44 L1045.4,505.14 L1046.48,505.08 L1047.57,505.09 L1048.66,505.47 L1049.74,505.96 L1050.83,504.45 L1051.91,504.81 L1053,504.56 L1054.09,506.11 L1055.17,505.52 L1056.26,504.83 L1057.34,503.54 L1058.43,505.43 L1059.51,504.42 L1060.6,505.86 L1061.69,505.41 L1062.77,506.27 L1063.86,505.06 L1064.94,505.37 L1066.03,505.56 L1067.12,505.42 L1068.2,505.38 L1069.29,504.65 L1070.37,504.93' fill='none' stroke='#000' stroke-width='3.3' stroke-linejoin='round' stroke-linecap='round' />
<path d='M659.9,467.24 L660.99,468.27 L662.07,467.32 L663.16,467.75 L664.24,468.08 L665.33,467.57 L666.42,468.8 L667.5,467.97 L668.59,468.71 L669.67,468.59 L670.76,468.4 L671.85,469.54 L672.93,467.83 L674.02,467.73 L675.1,468.55 L676.19,468.04 L677.27,468.1 L678.36,467.94 L679.45,467.86 L680.53,468.9 L681.62,468.16 L682.7,468.76 L683.79,468.91 L684.88,468.77 L685.96,468.56 L687.05,468 L688.13,468.15 L689.22,467.8 L690.31,467.75 L691.39,466.63 L692.48,468.04 L693.56,468.37 L694.65,467.76 L695.74,468.85 L696.82,470.39 L697.91,468.94 L698.99,469.17 L700.08,469.49 L701.16,469.65 L702.25,469.32 L703.34,469.21 L704.42,469.2 L705.51,468.77 L706.59,469.67 L707.68,470.14 L708.77,469.52 L709.85,468.96 L710.94,470.38 L712.02,469.71 L713.11,470.1 L714.2,469.84 L715.28,470.52 L716.37,470.36 L717.45,469.68 L718.54,471.01 L719.63,470.76 L720.71,470.79 L721.8,469.6 L722.88,470.5 L723.97,469.9 L725.05,469.11 L726.14,470.34 L727.23,469.95 L728.31,470.42 L729.4,470.07 L730.48,470.83 L731.57,469.94 L732.66,470.55 L733.74,469.65 L734.83,471.29 L735.91,470.62 L737,470.54 L738.09,470.35 L739.17,470.65 L740.26,471.4 L741.34,470.32 L742.43,470.57 L743.52,470.54 L744.6,470.1 L745.69,469.85 L746.77,470.92 L747.86,470.93 L748.94,469.94 L750.03,470.63 L751.12,470.03 L752.2,470.89 L753.29,470.84 L754.37,469.8 L755.46,471.41 L756.55,470 L757.63,471.14 L758.72,471.74 L759.8,471.07 L760.89,471.61 L761.98,469.91 L763.06,471.81 L764.15,470.46 L765.23,471.38 L766.32,471.29 L767.41,472.15 L768.49,471.36 L769.58,471.33 L770.66,472.12 L771.75,471.3 L772.83,471.8 L773.92,472.65 L775.01,472.48 L776.09,471.99 L777.18,470.8 L778.26,472.75 L779.35,472.97 L780.44,472.48 L781.52,471.32 L782.61,471.38 L783.69,471.73 L784.78,472.49 L785.87,471.58 L786.95,471.64 L788.04,472.52 L789.12,471.7 L790.21,471.96 L791.3,470.77 L792.38,471.57 L793.47,471.74 L794.55,471.25 L795.64,471.25 L796.72,472.5 L797.81,471.89 L798.9,470.79 L799.98,471.27 L801.07,471 L802.15,470.69 L803.24,471.16 L804.33,470.93 L805.41,471.09 L806.5,471.28 L807.58,470.96 L808.67,471.57 L809.76,470.38 L810.84,471.81 L811.93,469.52 L813.01,470.56 L814.1,470.21 L815.19,470.43 L816.27,470.97 L817.36,470.94 L818.44,472.17 L819.53,470.69 L820.61,471.27 L821.7,471.35 L822.79,470.78 L823.87,471.38 L824.96,470.66 L826.04,470.61 L827.13,470.96 L828.22,470.45 L829.3,470.99 L830.39,471.68 L831.47,471.29 L832.56,471.23 L833.65,471.03 L834.73,471.42 L835.82,470.91 L836.9,470.65 L837.99,470.52 L839.08,471.74 L840.16,471.58 L841.25,471.27 L842.33,470.91 L843.42,471.12 L844.5,470.9 L845.59,471.01 L846.68,471.95 L847.76,470.59 L848.85,471.14 L849.93,471.01 L851.02,471.03 L852.11,471.47 L853.19,471.73 L854.28,470.79 L855.36,471.85 L856.45,471.51 L857.54,471.51 L858.62,471.15 L859.71,471.23 L860.79,471.34 L861.88,470.6 L862.97,469.75 L864.05,471.06 L865.14,471.4 L866.22,472.22 L867.31,470.88 L868.39,471.42 L869.48,470 L870.57,470.77 L871.65,470.97 L872.74,471.21 L873.82,471.48 L874.91,471.71 L876,470.97 L877.08,472.35 L878.17,471.12 L879.25,470.46 L880.34,469.75 L881.43,469.82 L882.51,470.89 L883.6,471.01 L884.68,469.87 L885.77,469.48 L886.86,470.42 L887.94,470.15 L889.03,469.88 L890.11,469.75 L891.2,469.57 L892.28,469.69 L893.37,469.56 L894.46,470.02 L895.54,469.28 L896.63,469.09 L897.71,469.25 L898.8,468.98 L899.89,469.47 L900.97,469.54 L902.06,468.82 L903.14,468.57 L904.23,469.19 L905.32,469.24 L906.4,470.49 L907.49,469.54 L908.57,467.85 L909.66,468.84 L910.75,469.78 L911.83,469.49 L912.92,468.33 L914,469.02 L915.09,468.49 L916.17,468.68 L917.26,467.91 L918.35,468.32 L919.43,467.83 L920.52,468.85 L921.6,468.2 L922.69,467.75 L923.78,467.2 L924.86,467.55 L925.95,467.26 L927.03,468.01 L928.12,467.28 L929.21,466.99 L930.29,467.03 L931.38,467.08 L932.46,466.99 L933.55,467.44 L934.64,466.68 L935.72,466.21 L936.81,466 L937.89,467.17 L938.98,465.51 L940.06,466.51 L941.15,464.91 L942.24,465.56 L943.32,465.47 L944.41,464.91 L945.49,465.35 L946.58,465.02 L947.67,464.69 L948.75,464.61 L949.84,464.72 L950.92,463.38 L952.01,464.86 L953.1,464.17 L954.18,462.96 L955.27,462.4 L956.35,464.27 L957.44,461.45 L958.53,462.87 L959.61,462.01 L960.7,462.39 L961.78,461.64 L962.87,460.98 L963.95,459.97 L965.04,460.29 L966.13,461.38 L967.21,460.7 L968.3,460.4 L969.38,460.19 L970.47,461 L971.56,461.73 L972.64,460.54 L973.73,460.09 L974.81,460.84 L975.9,460.59 L976.99,460.75 L978.07,460.45 L979.16,460.04 L980.24,460.34 L981.33,459.81 L982.42,460.28 L983.5,460.41 L984.59,459.93 L985.67,457.53 L986.76,457.4 L987.84,457.5 L988.93,455.42 L990.02,453.71 L991.1,452.4 L992.19,451.4 L993.27,451.02 L994.36,452.28 L995.45,455.06 L996.53,456 L997.62,457.47 L998.7,459.27 L999.79,460.45 L1000.88,462.24 L1001.96,462.99 L1003.05,462.56 L1004.13,463.27 L1005.22,465.85 L1006.31,465.7 L1007.39,465.1 L1008.48,465.2 L1009.56,466.97 L1010.65,466.2 L1011.73,465.36 L1012.82,466.68 L1013.91,465.68 L1014.99,467.23 L1016.08,466.1 L1017.16,466.94 L1018.25,466.78 L1019.34,467.8 L1020.42,467.41 L1021.51,468.65 L1022.59,468.18 L1023.68,467.07 L1024.77,467.38 L1025.85,468.26 L1026.94,467.36 L1028.02,466.68 L1029.11,467.53 L1030.2,467.4 L1031.28,467.19 L1032.37,467.21 L1033.45,467.87 L1034.54,467.18 L1035.62,468.33 L1036.71,466.49 L1037.8,467.27 L1038.88,467.78 L1039.97,467.41 L1041.05,467.87 L1042.14,467.79 L1043.23,466.53 L1044.31,467.17 L1045.4,466.49 L1046.48,466.29 L1047.57,467.61 L1048.66,468.24 L1049.74,467.23 L1050.83,467.56 L1051.91,468.36 L1053,468.09 L1054.09,467.72 L1055.17,468.06 L1056.26,467.43 L1057.34,467.57 L1058.43,468.57 L1059.51,467.41 L1060.6,466.77 L1061.69,468.07 L1062.77,468.81 L1063.86,467.95 L1064.94,467.36 L1066.03,467.13 L1067.12,468.46 L1068.2,468.65 L1069.29,467.62 L1070.37,469.08' fill='none' stroke='#000' stroke-width='3.3' stroke-linejoin='round' stroke-linecap='round' />
<path d='M659.9,425.67 L660.99,425.44 L662.07,426.02 L663.16,426.59 L664.24,425.63 L665.33,426.6 L666.42,426.01 L667.5,425.84 L668.59,426.8 L669.67,425.94 L670.76,426 L671.85,426.61 L672.93,425.81 L674.02,426.26 L675.1,426.87 L676.19,427.57 L677.27,426.37 L678.36,426.72 L679.45,426.85 L680.53,427.18 L681.62,427.41 L682.7,425.28 L683.79,427.02 L684.88,426.62 L685.96,426.53 L687.05,427.96 L688.13,427.82 L689.22,427.54 L690.31,426.75 L691.39,426.7 L692.48,427.46 L693.56,427.73 L694.65,428.74 L695.74,427.61 L696.82,428.01 L697.91,427.23 L698.99,427.07 L700.08,428.03 L701.16,426.94 L702.25,427.38 L703.34,427.11 L704.42,426.96 L705.51,427.51 L706.59,426.81 L707.68,427.58 L708.77,428.16 L709.85,426.97 L710.94,427.41 L712.02,427.89 L713.11,427.06 L714.2,426.84 L715.28,428.76 L716.37,428.55 L717.45,428.3 L718.54,427.98 L719.63,427.74 L720.71,429.07 L721.8,428.27 L722.88,427.88 L723.97,428.5 L725.05,428.05 L726.14,427.54 L727.23,428.59 L728.31,429.67 L729.4,428.66 L730.48,428.61 L731.57,428.58 L732.66,429.1 L733.74,428.09 L734.83,429.01 L735.91,427.86 L737,428.07 L738.09,428.6 L739.17,428.23 L740.26,428.41 L741.34,429.03 L742.43,428.81 L743.52,428.28 L744.6,427.92 L745.69,429.98 L746.77,429.83 L747.86,428.93 L748.94,429.52 L750.03,428.85 L751.12,429.1 L752.2,429.38 L753.29,428.47 L754.37,428.47 L755.46,429.35 L756.55,429.51 L757.63,428.9 L758.72,430.23 L759.8,429.37 L760.89,430.74 L761.98,428.52 L763.06,429.98 L764.15,429.07 L765.23,430.17 L766.32,429.83 L767.41,429.78 L768.49,429.68 L769.58,430.97 L770.66,431.65 L771.75,430.08 L772.83,429.85 L773.92,430.78 L775.01,430.02 L776.09,430.41 L777.18,430.26 L778.26,429.63 L779.35,431.18 L780.44,430.46 L781.52,429.38 L782.61,430.38 L783.69,430.63 L784.78,430.84 L785.87,430.14 L786.95,431.23 L788.04,430.24 L789.12,430.61 L790.21,430.62 L791.3,431.31 L792.38,432.22 L793.47,431.2 L794.55,430.72 L795.64,432.12 L796.72,430.94 L797.81,432.12 L798.9,430.83 L799.98,430.58 L801.07,431.46 L802.15,430.41 L803.24,430.85 L804.33,430.46 L805.41,430.34 L806.5,430.97 L807.58,431.25 L808.67,431.24 L809.76,431.48 L810.84,431.3 L811.93,430.23 L813.01,431.61 L814.1,430.77 L815.19,430.14 L816.27,430.89 L817.36,430.63 L818.44,429.24 L819.53,430.27 L820.61,430.38 L821.7,430.53 L822.79,429.7 L823.87,432.23 L824.96,429.79 L826.04,429.81 L827.13,428.08 L828.22,430.43 L829.3,429.3 L830.39,429.79 L831.47,430.22 L832.56,429.46 L833.65,429.84 L834.73,430.53 L835.82,429.04 L836.9,430.02 L837.99,429.99 L839.08,430.55 L840.16,430.27 L841.25,430.81 L842.33,430.15 L843.42,430.47 L844.5,431.49 L845.59,429.67 L846.68,430.6 L847.76,429.63 L848.85,429.53 L849.93,429.96 L851.02,430.34 L852.11,430.04 L853.19,429.29 L854.28,430.85 L855.36,428.64 L856.45,430.3 L857.54,429.21 L858.62,430.28 L859.71,430.09 L860.79,429.84 L861.88,430 L862.97,429.88 L864.05,428.73 L865.14,429.61 L866.22,429.27 L867.31,429.53 L868.39,429.5 L869.48,430.66 L870.57,428.9 L871.65,429.37 L872.74,429.16 L873.82,428.95 L874.91,429.04 L876,429.23 L877.08,429.05 L878.17,429.15 L879.25,428.81 L880.34,429.72 L881.43,429.83 L882.51,429.03 L883.6,430.12 L884.68,428.97 L885.77,428.74 L886.86,429.45 L887.94,429.97 L889.03,429.28 L890.11,429.45 L891.2,430.08 L892.28,429.9 L893.37,429 L894.46,428.59 L895.54,429.28 L896.63,429.95 L897.71,428.99 L898.8,429.89 L899.89,428.54 L900.97,428.9 L902.06,430.07 L903.14,428.41 L904.23,429.72 L905.32,429.98 L906.4,428.51 L907.49,429.72 L908.57,428.66 L909.66,428.26 L910.75,428.88 L911.83,429.72 L912.92,429.09 L914,428.45 L915.09,427.8 L916.17,427.8 L917.26,428.71 L918.35,427.35 L919.43,427.57 L920.52,428.77 L921.6,426.73 L922.69,428.05 L923.78,426.28 L924.86,426.86 L925.95,426.82 L927.03,426.68 L928.12,427.1 L929.21,427.83 L930.29,427.01 L931.38,426.13 L932.46,426.3 L933.55,426.74 L934.64,427.1 L935.72,425.71 L936.81,425.79 L937.89,425.93 L938.98,424.78 L940.06,425.54 L941.15,424.85 L942.24,425.47 L943.32,425.1 L944.41,424.57 L945.49,425.45 L946.58,424.58 L947.67,424.67 L948.75,423.88 L949.84,423.45 L950.92,423.44 L952.01,423.56 L953.1,423.72 L954.18,423.11 L955.27,423.97 L956.35,423.07 L957.44,422.5 L958.53,421.65 L959.61,421.27 L960.7,420.34 L961.78,420.3 L962.87,420.06 L963.95,420.27 L965.04,420.23 L966.13,419.67 L967.21,419.71 L968.3,419.16 L969.38,418.95 L970.47,418.51 L971.56,418.99 L972.64,418.34 L973.73,418.39 L974.81,416.88 L975.9,416.79 L976.99,416.84 L978.07,416.64 L979.16,416.68 L980.24,416.32 L981.33,415.3 L982.42,414.38 L983.5,413.81 L984.59,411.19 L985.67,409.92 L986.76,407.12 L987.84,402.93 L988.93,399.95 L990.02,396.01 L991.1,392.19 L992.19,388.93 L993.27,388.14 L994.36,391.42 L995.45,394.95 L996.53,400.13 L997.62,404.85 L998.7,408.71 L999.79,413.04 L1000.88,414.33 L1001.96,416.01 L1003.05,416.45 L1004.13,419.39 L1005.22,419.91 L1006.31,420.76 L1007.39,421.4 L1008.48,423.07 L1009.56,422.42 L1010.65,423.08 L1011.73,423.92 L1012.82,424.85 L1013.91,424.35 L1014.99,424.55 L1016.08,424.74 L1017.16,424.51 L1018.25,424.69 L1019.34,426.17 L1020.42,425.51 L1021.51,425.9 L1022.59,426.94 L1023.68,426.19 L1024.77,426.39 L1025.85,426.1 L1026.94,426.17 L1028.02,426.47 L1029.11,426.97 L1030.2,425.99 L1031.28,426.02 L1032.37,425.99 L1033.45,426.73 L1034.54,426.32 L1035.62,427.18 L1036.71,427.39 L1037.8,426.94 L1038.88,426.86 L1039.97,427.51 L1041.05,427.97 L1042.14,426.4 L1043.23,427.41 L1044.31,426.98 L1045.4,428.29 L1046.48,427.16 L1047.57,426.84 L1048.66,427.57 L1049.74,428 L1050.83,427.69 L1051.91,428.53 L1053,428.61 L1054.09,427.83 L1055.17,426.99 L1056.26,428.18 L1057.34,428.73 L1058.43,428.29 L1059.51,427.88 L1060.6,428.31 L1061.69,427.68 L1062.77,427.53 L1063.86,427.65 L1064.94,427.81 L1066.03,427.49 L1067.12,428.23 L1068.2,427.55 L1069.29,427.73 L1070.37,427.73' fill='none' stroke='#000' stroke-width='3.3' stroke-linejoin='round' stroke-linecap='round' />
<path d='M659.9,381.09 L660.99,382.14 L662.07,381.87 L663.16,381.83 L664.24,383 L665.33,382.07 L666.42,382.39 L667.5,382.2 L668.59,382.21 L669.67,381.87 L670.76,382.63 L671.85,383.23 L672.93,381.96 L674.02,383.3 L675.1,382.32 L676.19,381.68 L677.27,382.62 L678.36,382.51 L679.45,383.09 L680.53,382.26 L681.62,382.94 L682.7,382.63 L683.79,383.45 L684.88,382.72 L685.96,383.7 L687.05,383.58 L688.13,383.81 L689.22,383.04 L690.31,383.12 L691.39,383.87 L692.48,383.46 L693.56,383.97 L694.65,383.7 L695.74,383.8 L696.82,384.02 L697.91,382.92 L698.99,383.78 L700.08,383.3 L701.16,384.67 L702.25,383.54 L703.34,384.71 L704.42,383.47 L705.51,383.93 L706.59,384.59 L707.68,383.79 L708.77,384.14 L709.85,384.25 L710.94,383.9 L712.02,384.92 L713.11,385.69 L714.2,384.54 L715.28,385.09 L716.37,384.2 L717.45,385.27 L718.54,385.57 L719.63,385.09 L720.71,385.01 L721.8,384.53 L722.88,385.12 L723.97,386.01 L725.05,384.14 L726.14,385.74 L727.23,385.7 L728.31,384.37 L729.4,384.88 L730.48,385.8 L731.57,385.64 L732.66,386.66 L733.74,385.89 L734.83,385.36 L735.91,384.17 L737,385.52 L738.09,384.53 L739.17,385.65 L740.26,384.51 L741.34,384.75 L742.43,385.02 L743.52,385.24 L744.6,384.9 L745.69,385.36 L746.77,385.61 L747.86,385.58 L748.94,384.88 L750.03,384.21 L751.12,384.89 L752.2,385.07 L753.29,385.51 L754.37,385.03 L755.46,385.22 L756.55,386.29 L757.63,386.16 L758.72,386.23 L759.8,385.42 L760.89,385.78 L761.98,385.79 L763.06,386.09 L764.15,385.71 L765.23,386.08 L766.32,385.82 L767.41,386.12 L768.49,385.97 L769.58,386.54 L770.66,386.53 L771.75,385.69 L772.83,385.17 L773.92,386.25 L775.01,386.1 L776.09,386.04 L777.18,386.81 L778.26,385.36 L779.35,387.14 L780.44,387.44 L781.52,386.27 L782.61,387.23 L783.69,386 L784.78,386.25 L785.87,386.76 L786.95,386.05 L788.04,386.5 L789.12,387.23 L790.21,385.88 L791.3,387.06 L792.38,385.96 L793.47,386.65 L794.55,386.58 L795.64,387.65 L796.72,386.89 L797.81,385.73 L798.9,386.34 L799.98,387.05 L801.07,386.05 L802.15,387.66 L803.24,386.58 L804.33,386.49 L805.41,386.58 L806.5,386.55 L807.58,386.03 L808.67,386.68 L809.76,385.65 L810.84,387.08 L811.93,386.31 L813.01,387.83 L814.1,386.67 L815.19,387.97 L816.27,386.51 L817.36,385.59 L818.44,386.97 L819.53,387.68 L820.61,386.67 L821.7,387.15 L822.79,387.39 L823.87,387.19 L824.96,386.22 L826.04,386.85 L827.13,387.42 L828.22,386.17 L829.3,386.8 L830.39,386.56 L831.47,387.68 L832.56,386.91 L833.65,386.03 L834.73,386.67 L835.82,386.28 L836.9,387.15 L837.99,388.28 L839.08,386.95 L840.16,387.37 L841.25,387.52 L842.33,387.99 L843.42,386.59 L844.5,387.31 L845.59,386.82 L846.68,387.19 L847.76,387.14 L848.85,387.93 L849.93,387.58 L851.02,387.17 L852.11,388.83 L853.19,387.94 L854.28,387.89 L855.36,386.79 L856.45,387.49 L857.54,387.03 L858.62,387.44 L859.71,387.43 L860.79,386.73 L861.88,387.09 L862.97,388.1 L864.05,387.41 L865.14,387.31 L866.22,387.16 L867.31,386.37 L868.39,386.68 L869.48,387.97 L870.57,386.6 L871.65,386.93 L872.74,385.96 L873.82,386.08 L874.91,386.24 L876,386.71 L877.08,385.36 L878.17,386.38 L879.25,386.2 L880.34,386.43 L881.43,386 L882.51,386.67 L883.6,386.29 L884.68,386.13 L885.77,386.16 L886.86,386.99 L887.94,387.45 L889.03,386.17 L890.11,385.46 L891.2,385.49 L892.28,385.55 L893.37,385.98 L894.46,386.35 L895.54,387.23 L896.63,385.86 L897.71,386.46 L898.8,386.24 L899.89,387.26 L900.97,385.63 L902.06,385.03 L903.14,385.25 L904.23,385.75 L905.32,386.08 L906.4,386.66 L907.49,386.11 L908.57,386.6 L909.66,384.92 L910.75,385.69 L911.83,386.3 L912.92,384.82 L914,384.69 L915.09,384.39 L916.17,384.36 L917.26,385.49 L918.35,384.59 L919.43,385.07 L920.52,383.85 L921.6,383.01 L922.69,383.68 L923.78,383.34 L924.86,382.78 L925.95,383.54 L927.03,383.19 L928.12,384.02 L929.21,383.07 L930.29,382.55 L931.38,382.93 L932.46,383.37 L933.55,382 L934.64,382.57 L935.72,383.03 L936.81,382.52 L937.89,381.31 L938.98,381.4 L940.06,381.51 L941.15,381.51 L942.24,381.41 L943.32,380.84 L944.41,381.2 L945.49,380.12 L946.58,381.02 L947.67,380.89 L948.75,381.34 L949.84,378.88 L950.92,379.64 L952.01,379.58 L953.1,378.96 L954.18,377.66 L955.27,378.75 L956.35,377.6 L957.44,377.06 L958.53,377.25 L959.61,376.46 L960.7,375.65 L961.78,375.9 L962.87,374.65 L963.95,374.62 L965.04,374.85 L966.13,374.32 L967.21,373.27 L968.3,373.22 L969.38,372.22 L970.47,372.3 L971.56,372.23 L972.64,371.68 L973.73,371.28 L974.81,370.21 L975.9,369.73 L976.99,369.35 L978.07,367.97 L979.16,366.4 L980.24,365.53 L981.33,363.92 L982.42,362.13 L983.5,359.43 L984.59,355.51 L985.67,351.62 L986.76,346.6 L987.84,338.68 L988.93,331.69 L990.02,321.03 L991.1,313.13 L992.19,307.46 L993.27,307.11 L994.36,312.68 L995.45,321.46 L996.53,331.98 L997.62,341.09 L998.7,348.48 L999.79,354.67 L1000.88,359.89 L1001.96,363.96 L1003.05,365.82 L1004.13,369.18 L1005.22,371.37 L1006.31,373.53 L1007.39,374.87 L1008.48,375.95 L1009.56,376.92 L1010.65,377.58 L1011.73,377.61 L1012.82,379.16 L1013.91,379.14 L1014.99,379.97 L1016.08,380.84 L1017.16,380.66 L1018.25,381.18 L1019.34,381.62 L1020.42,382.32 L1021.51,382.7 L1022.59,382.57 L1023.68,382.87 L1024.77,383.46 L1025.85,383.07 L1026.94,382.87 L1028.02,382.98 L1029.11,383.72 L1030.2,384.52 L1031.28,383.94 L1032.37,384 L1033.45,383.36 L1034.54,384.47 L1035.62,382.92 L1036.71,384.49 L1037.8,385.13 L1038.88,384.98 L1039.97,384.54 L1041.05,383.52 L1042.14,385.79 L1043.23,384.63 L1044.31,385.19 L1045.4,385.52 L1046.48,386.08 L1047.57,385.19 L1048.66,386.3 L1049.74,385.59 L1050.83,385.45 L1051.91,385.91 L1053,385.12 L1054.09,386.41 L1055.17,386.34 L1056.26,385.84 L1057.34,385.61 L1058.43,385.53 L1059.51,386.56 L1060.6,385.37 L1061.69,386.59 L1062.77,387.03 L1063.86,387.15 L1064.94,386.57 L1066.03,387.42 L1067.12,387.34 L1068.2,386.99 L1069.29,387.05 L1070.37,387.08' fill='none' stroke='#000' stroke-width='3.3' stroke-linejoin='round' stroke-linecap='round' />
<path d='M659.9,339.24 L660.99,341 L662.07,339.9 L663.16,339.91 L664.24,340.45 L665.33,340.12 L666.42,340.42 L667.5,340.76 L668.59,339.3 L669.67,341.26 L670.76,339.94 L671.85,340.81 L672.93,340.21 L674.02,341.88 L675.1,340.98 L676.19,340.56 L677.27,341.36 L678.36,340.59 L679.45,341.36 L680.53,341.77 L681.62,341.55 L682.7,342.13 L683.79,341.74 L684.88,341.04 L685.96,340.64 L687.05,341.55 L688.13,341.04 L689.22,342.28 L690.31,341.66 L691.39,342.32 L692.48,342.62 L693.56,341.85 L694.65,342.88 L695.74,341.63 L696.82,341.54 L697.91,342.83 L698.99,342.25 L700.08,343.4 L701.16,343.21 L702.25,341.93 L703.34,341.83 L704.42,342.65 L705.51,343 L706.59,342.53 L707.68,342.14 L708.77,343.06 L709.85,342.17 L710.94,343.05 L712.02,343.07 L713.11,343.99 L714.2,344.03 L715.28,344.65 L716.37,342.91 L717.45,343.14 L718.54,343.31 L719.63,343.01 L720.71,343.37 L721.8,343.38 L722.88,343.99 L723.97,343.94 L725.05,344.57 L726.14,343.33 L727.23,344.18 L728.31,343.76 L729.4,344.74 L730.48,344.05 L731.57,344.4 L732.66,345.26 L733.74,344.45 L734.83,344.3 L735.91,344.8 L737,344.09 L738.09,344.51 L739.17,344.11 L740.26,345.54 L741.34,344.71 L742.43,345.1 L743.52,345.35 L744.6,345.14 L745.69,344.51 L746.77,344.14 L747.86,344.25 L748.94,345.42 L750.03,344.91 L751.12,345.59 L752.2,345.15 L753.29,344.93 L754.37,344.97 L755.46,345.78 L756.55,345.22 L757.63,345.48 L758.72,344.05 L759.8,345.12 L760.89,345 L761.98,345.72 L763.06,345.47 L764.15,344.96 L765.23,345.82 L766.32,345.2 L767.41,346.77 L768.49,345.09 L769.58,346.06 L770.66,345.23 L771.75,346.45 L772.83,345.14 L773.92,345.88 L775.01,345.33 L776.09,344.19 L777.18,346.14 L778.26,345.55 L779.35,346.33 L780.44,346.15 L781.52,346.56 L782.61,345.49 L783.69,345.68 L784.78,346.08 L785.87,346.48 L786.95,345.75 L788.04,346.42 L789.12,346.1 L790.21,346.29 L791.3,346.12 L792.38,345.78 L793.47,345.22 L794.55,345.94 L795.64,345.71 L796.72,345.08 L797.81,345.39 L798.9,345.92 L799.98,345.4 L801.07,345.66 L802.15,345.59 L803.24,345.77 L804.33,345.66 L805.41,346.26 L806.5,345.65 L807.58,346.04 L808.67,345.77 L809.76,345.48 L810.84,346.2 L811.93,346.51 L813.01,346.23 L814.1,346.33 L815.19,345.93 L816.27,346.21 L817.36,346.61 L818.44,345.8 L819.53,347.02 L820.61,346.85 L821.7,346.59 L822.79,346.94 L823.87,346.5 L824.96,345.87 L826.04,347.5 L827.13,347.65 L828.22,346.64 L829.3,346.59 L830.39,347.07 L831.47,347.01 L832.56,347.19 L833.65,348.36 L834.73,346.99 L835.82,346.43 L836.9,346.3 L837.99,347.5 L839.08,346.77 L840.16,347.99 L841.25,347.17 L842.33,346.61 L843.42,346.98 L844.5,347.47 L845.59,347.29 L846.68,345.98 L847.76,347.62 L848.85,345.83 L849.93,347 L851.02,346.74 L852.11,346.9 L853.19,345.77 L854.28,347.89 L855.36,347.61 L856.45,346.99 L857.54,347.26 L858.62,346.93 L859.71,347.09 L860.79,347.1 L861.88,347.98 L862.97,346.66 L864.05,346.94 L865.14,346.93 L866.22,347.2 L867.31,347.07 L868.39,345.99 L869.48,347.11 L870.57,347.43 L871.65,347.58 L872.74,346.09 L873.82,346.71 L874.91,347.57 L876,347.11 L877.08,347.42 L878.17,346.37 L879.25,347.31 L880.34,346.33 L881.43,345.55 L882.51,346.41 L883.6,345.92 L884.68,346.66 L885.77,346.92 L886.86,345.92 L887.94,345.6 L889.03,345.38 L890.11,346.12 L891.2,345.64 L892.28,344.47 L893.37,345.94 L894.46,344.99 L895.54,345.47 L896.63,345.64 L897.71,344.89 L898.8,345.72 L899.89,345.45 L900.97,345.67 L902.06,344.51 L903.14,344.83 L904.23,345.86 L905.32,344.79 L906.4,342.79 L907.49,343.01 L908.57,344.16 L909.66,343.78 L910.75,343.68 L911.83,343.62 L912.92,344 L914,344.25 L915.09,344.36 L916.17,343.83 L917.26,343.77 L918.35,343.47 L919.43,343.82 L920.52,342.79 L921.6,343.71 L922.69,344.18 L923.78,343.65 L924.86,344.72 L925.95,343.09 L927.03,343.41 L928.12,342.75 L929.21,342.32 L930.29,342.27 L931.38,342.14 L932.46,343.28 L933.55,342 L934.64,342.78 L935.72,341.43 L936.81,341.66 L937.89,341.19 L938.98,341.31 L940.06,340.59 L941.15,340.74 L942.24,340.39 L943.32,340.21 L944.41,339.52 L945.49,338.9 L946.58,338.57 L947.67,339.36 L948.75,338.97 L949.84,337.34 L950.92,337.05 L952.01,337.47 L953.1,336.61 L954.18,336.97 L955.27,336.65 L956.35,334.88 L957.44,335.39 L958.53,333.62 L959.61,334.22 L960.7,332.81 L961.78,332.64 L962.87,332.08 L963.95,331.02 L965.04,330.46 L966.13,329.81 L967.21,328.96 L968.3,327.81 L969.38,328.59 L970.47,327.75 L971.56,327.15 L972.64,326.39 L973.73,327.02 L974.81,325.43 L975.9,323.44 L976.99,321.92 L978.07,322.03 L979.16,319.82 L980.24,318.38 L981.33,315.86 L982.42,313.59 L983.5,309.2 L984.59,304.44 L985.67,298.58 L986.76,289.63 L987.84,279.83 L988.93,268.33 L990.02,254.68 L991.1,240.87 L992.19,232.56 L993.27,231.61 L994.36,240.44 L995.45,253.58 L996.53,267.37 L997.62,280.56 L998.7,292.58 L999.79,301.11 L1000.88,308.52 L1001.96,313.68 L1003.05,317.49 L1004.13,321.9 L1005.22,325.3 L1006.31,327.87 L1007.39,329.1 L1008.48,330.88 L1009.56,333.02 L1010.65,334.79 L1011.73,335.42 L1012.82,336.01 L1013.91,337.13 L1014.99,337.12 L1016.08,337.92 L1017.16,338.17 L1018.25,338.95 L1019.34,339.88 L1020.42,340.35 L1021.51,340.34 L1022.59,341.38 L1023.68,341.93 L1024.77,342.61 L1025.85,341.16 L1026.94,341.92 L1028.02,342.28 L1029.11,342.45 L1030.2,342.89 L1031.28,342.78 L1032.37,342.6 L1033.45,343.87 L1034.54,343.86 L1035.62,342.86 L1036.71,343.21 L1037.8,344.29 L1038.88,345.13 L1039.97,343.9 L1041.05,344.57 L1042.14,344.02 L1043.23,345.28 L1044.31,344.51 L1045.4,344.67 L1046.48,345.31 L1047.57,344.84 L1048.66,345.08 L1049.74,346.11 L1050.83,345.42 L1051.91,344.94 L1053,344.59 L1054.09,345.74 L1055.17,345.53 L1056.26,345.86 L1057.34,344.42 L1058.43,345.45 L1059.51,345.67 L1060.6,345.82 L1061.69,345.27 L1062.77,345.86 L1063.86,345.26 L1064.94,345.49 L1066.03,345.43 L1067.12,345.33 L1068.2,345.52 L1069.29,346.41 L1070.37,345.45' fill='none' stroke='#000' stroke-width='3.3' stroke-linejoin='round' stroke-linecap='round' />
<path d='M659.9,301.22 L660.99,300.52 L662.07,301.11 L663.16,302.11 L664.24,301.06 L665.33,302.27 L666.42,302.08 L667.5,301.62 L668.59,301.15 L669.67,301.14 L670.76,303.1 L671.85,302.3 L672.93,301.63 L674.02,302.11 L675.1,302.29 L676.19,301.42 L677.27,301.97 L678.36,302.82 L679.45,301.92 L680.53,302.15 L681.62,301.6 L682.7,302.53 L683.79,301.94 L684.88,302.3 L685.96,302.86 L687.05,302.44 L688.13,302.67 L689.22,303.05 L690.31,301.99 L691.39,302.78 L692.48,302.91 L693.56,302.34 L694.65,302.93 L695.74,302.56 L696.82,301.57 L697.91,302.33 L698.99,302.4 L700.08,303.97 L701.16,302.56 L702.25,303.74 L703.34,303.37 L704.42,301.91 L705.51,302.69 L706.59,302.3 L707.68,302.55 L708.77,302.33 L709.85,302.75 L710.94,303.07 L712.02,302.92 L713.11,304.09 L714.2,303.35 L715.28,303.24 L716.37,303.52 L717.45,302.7 L718.54,303.86 L719.63,303.23 L720.71,303.56 L721.8,303.89 L722.88,303.83 L723.97,303.9 L725.05,303.96 L726.14,303.9 L727.23,304.01 L728.31,303.22 L729.4,304.43 L730.48,304.19 L731.57,304.27 L732.66,304.77 L733.74,304.69 L734.83,304.04 L735.91,305.22 L737,303.85 L738.09,304.18 L739.17,304.06 L740.26,304.69 L741.34,305.11 L742.43,305.86 L743.52,304.74 L744.6,304.42 L745.69,304.99 L746.77,305.38 L747.86,305.11 L748.94,305.05 L750.03,305.42 L751.12,304.79 L752.2,304.63 L753.29,303.95 L754.37,306.14 L755.46,305.11 L756.55,305.64 L757.63,305.73 L758.72,304.47 L759.8,304.81 L760.89,305.71 L761.98,305.06 L763.06,305.61 L764.15,306.41 L765.23,305.4 L766.32,304.54 L767.41,304.84 L768.49,305.63 L769.58,305.05 L770.66,305.79 L771.75,306.02 L772.83,305.97 L773.92,305.34 L775.01,305.61 L776.09,305.02 L777.18,306.13 L778.26,305.49 L779.35,305.61 L780.44,306.16 L781.52,304.38 L782.61,305.82 L783.69,306.12 L784.78,305.78 L785.87,306.39 L786.95,305.83 L788.04,306.13 L789.12,306.67 L790.21,306.92 L791.3,306.1 L792.38,306.7 L793.47,306.82 L794.55,305.47 L795.64,306.46 L796.72,305.87 L797.81,306.36 L798.9,306.87 L799.98,306.82 L801.07,306.55 L802.15,307.09 L803.24,306.12 L804.33,306.68 L805.41,305.08 L806.5,306.71 L807.58,306.4 L808.67,305.74 L809.76,306.61 L810.84,307.28 L811.93,307.47 L813.01,306.73 L814.1,305.45 L815.19,306.88 L816.27,305.79 L817.36,305.72 L818.44,306.53 L819.53,306.23 L820.61,305.78 L821.7,307.22 L822.79,307.6 L823.87,306.32 L824.96,306.78 L826.04,304.69 L827.13,306.02 L828.22,307.76 L829.3,306.26 L830.39,306.62 L831.47,306.07 L832.56,305.95 L833.65,306.28 L834.73,307.09 L835.82,305.89 L836.9,306.29 L837.99,306.52 L839.08,307.17 L840.16,306.51 L841.25,305.63 L842.33,306.25 L843.42,307.61 L844.5,306.44 L845.59,306.09 L846.68,306.35 L847.76,307.07 L848.85,305.56 L849.93,307.19 L851.02,306.89 L852.11,306.97 L853.19,307.02 L854.28,306.31 L855.36,306.79 L856.45,306.43 L857.54,305.95 L858.62,306.57 L859.71,307.2 L860.79,306.7 L861.88,307.07 L862.97,306.87 L864.05,306.27 L865.14,307.11 L866.22,307.19 L867.31,306.84 L868.39,306.57 L869.48,306.06 L870.57,305.88 L871.65,305.46 L872.74,306.65 L873.82,306.41 L874.91,306.23 L876,305.3 L877.08,306.73 L878.17,305.99 L879.25,305.98 L880.34,305.34 L881.43,305.24 L882.51,305.69 L883.6,306.09 L884.68,306.05 L885.77,306.03 L886.86,305.46 L887.94,305 L889.03,304.63 L890.11,304.89 L891.2,304.78 L892.28,304.58 L893.37,305.26 L894.46,304.96 L895.54,304.95 L896.63,305.12 L897.71,305.81 L898.8,303.76 L899.89,303.79 L900.97,304.85 L902.06,305.59 L903.14,305.93 L904.23,304.46 L905.32,304.48 L906.4,305.07 L907.49,303.52 L908.57,303.45 L909.66,303.7 L910.75,304.13 L911.83,304.43 L912.92,303.35 L914,302.88 L915.09,304.38 L916.17,303.94 L917.26,305.03 L918.35,303.99 L919.43,302.83 L920.52,302.95 L921.6,303.49 L922.69,303.28 L923.78,302.85 L924.86,303.03 L925.95,303.06 L927.03,302.24 L928.12,303.44 L929.21,302.26 L930.29,302.73 L931.38,302.3 L932.46,302.9 L933.55,300.84 L934.64,301.74 L935.72,300.54 L936.81,300.79 L937.89,301.11 L938.98,300.95 L940.06,301.17 L941.15,300.38 L942.24,298.46 L943.32,298.33 L944.41,298.56 L945.49,299.64 L946.58,299.3 L947.67,297.57 L948.75,296.79 L949.84,296.52 L950.92,296.86 L952.01,296.81 L953.1,295.84 L954.18,295.57 L955.27,293.9 L956.35,295.31 L957.44,293.51 L958.53,292.86 L959.61,292.29 L960.7,292.22 L961.78,290.03 L962.87,290.83 L963.95,288.51 L965.04,288.38 L966.13,286.58 L967.21,286.29 L968.3,286.16 L969.38,284.84 L970.47,284.69 L971.56,283.47 L972.64,282.74 L973.73,281.55 L974.81,280.24 L975.9,278.52 L976.99,277.27 L978.07,275.76 L979.16,273.51 L980.24,270.93 L981.33,268.41 L982.42,263.28 L983.5,259.79 L984.59,253.32 L985.67,246.74 L986.76,234.44 L987.84,220.54 L988.93,204.74 L990.02,186.28 L991.1,170.03 L992.19,158.41 L993.27,157.05 L994.36,169.1 L995.45,186.05 L996.53,205.21 L997.62,222.76 L998.7,236.73 L999.79,248.47 L1000.88,258.38 L1001.96,265.44 L1003.05,271.39 L1004.13,277.18 L1005.22,280.77 L1006.31,282.27 L1007.39,285.11 L1008.48,288.52 L1009.56,289.88 L1010.65,292.23 L1011.73,291.5 L1012.82,293.99 L1013.91,294.94 L1014.99,295.66 L1016.08,296.34 L1017.16,297.54 L1018.25,298.62 L1019.34,298.34 L1020.42,299.93 L1021.51,299.55 L1022.59,300.04 L1023.68,299.32 L1024.77,299.59 L1025.85,301.6 L1026.94,302.21 L1028.02,301.6 L1029.11,301.87 L1030.2,302.37 L1031.28,302.38 L1032.37,301.75 L1033.45,302.04 L1034.54,303.31 L1035.62,303.05 L1036.71,303.21 L1037.8,303.81 L1038.88,303.52 L1039.97,303.46 L1041.05,303.9 L1042.14,304.76 L1043.23,303.71 L1044.31,304.06 L1045.4,303.83 L1046.48,304.64 L1047.57,304.54 L1048.66,304.98 L1049.74,304.6 L1050.83,305.2 L1051.91,303.94 L1053,304.38 L1054.09,304.83 L1055.17,305.33 L1056.26,305.88 L1057.34,305.57 L1058.43,305.29 L1059.51,306.16 L1060.6,305.08 L1061.69,306.52 L1062.77,306.33 L1063.86,305.01 L1064.94,305.83 L1066.03,305.84 L1067.12,306.13 L1068.2,306.35 L1069.29,306.37 L1070.37,306.99' fill='none' stroke='#000' stroke-width='3.3' stroke-linejoin='round' stroke-linecap='round' />
<path d='M659.9,263.64 L660.99,264.72 L662.07,264.75 L663.16,263.44 L664.24,263.89 L665.33,264.49 L666.42,262.96 L667.5,263.56 L668.59,263.01 L669.67,263.89 L670.76,264.86 L671.85,264.07 L672.93,264.45 L674.02,263.81 L675.1,263.88 L676.19,263.59 L677.27,265.04 L678.36,263.91 L679.45,263.87 L680.53,264.45 L681.62,264.2 L682.7,264.85 L683.79,264.16 L684.88,264.17 L685.96,263.96 L687.05,263.92 L688.13,264.74 L689.22,263.62 L690.31,264.78 L691.39,264.97 L692.48,265.56 L693.56,263.7 L694.65,265.01 L695.74,264.7 L696.82,264.55 L697.91,264.95 L698.99,264.95 L700.08,265.27 L701.16,264.89 L702.25,265.99 L703.34,266.74 L704.42,265.07 L705.51,266.32 L706.59,265.58 L707.68,267.41 L708.77,266.9 L709.85,266.98 L710.94,266.5 L712.02,266.89 L713.11,266.6 L714.2,267.06 L715.28,266.85 L716.37,266.63 L717.45,267.54 L718.54,267.2 L719.63,266.55 L720.71,267.55 L721.8,266.7 L722.88,266.45 L723.97,267.17 L725.05,267.26 L726.14,266.78 L727.23,267.2 L728.31,266.98 L729.4,266.53 L730.48,265.88 L731.57,267.02 L732.66,266.5 L733.74,266.85 L734.83,266.66 L735.91,266.34 L737,267.7 L738.09,267.22 L739.17,266.91 L740.26,267.69 L741.34,266.51 L742.43,267.86 L743.52,266.5 L744.6,267.31 L745.69,266.57 L746.77,265.51 L747.86,266.31 L748.94,267.59 L750.03,267.43 L751.12,267.6 L752.2,267.01 L753.29,267.52 L754.37,266.91 L755.46,267.66 L756.55,266.99 L757.63,268.3 L758.72,268.12 L759.8,267.72 L760.89,268.9 L761.98,268.01 L763.06,267.7 L764.15,268.52 L765.23,268.44 L766.32,267.07 L767.41,267.8 L768.49,268.48 L769.58,267.64 L770.66,267.59 L771.75,267.89 L772.83,268.72 L773.92,269.01 L775.01,268.82 L776.09,268.46 L777.18,268.72 L778.26,268.96 L779.35,267.26 L780.44,268.85 L781.52,267.81 L782.61,268.71 L783.69,267.76 L784.78,267.83 L785.87,268.21 L786.95,268.93 L788.04,269.16 L789.12,268.19 L790.21,268.48 L791.3,268.28 L792.38,268 L793.47,268.76 L794.55,269.15 L795.64,268.83 L796.72,269.31 L797.81,268.56 L798.9,267.11 L799.98,269.36 L801.07,268.77 L802.15,268.95 L803.24,268.53 L804.33,269.49 L805.41,268.63 L806.5,269.58 L807.58,269.21 L808.67,268.75 L809.76,269.52 L810.84,268.63 L811.93,268.83 L813.01,269.88 L814.1,269.79 L815.19,270.18 L816.27,269.58 L817.36,269.85 L818.44,268.62 L819.53,269.48 L820.61,269.07 L821.7,268.79 L822.79,268.73 L823.87,269.6 L824.96,268.79 L826.04,268.79 L827.13,268.77 L828.22,268.94 L829.3,268.2 L830.39,268.22 L831.47,269.12 L832.56,268.46 L833.65,267.7 L834.73,268.19 L835.82,268.82 L836.9,269.03 L837.99,269.22 L839.08,268.18 L840.16,269.18 L841.25,268.65 L842.33,268.18 L843.42,268.47 L844.5,269.25 L845.59,268.66 L846.68,268.79 L847.76,268.64 L848.85,269.59 L849.93,268.27 L851.02,268.05 L852.11,268.91 L853.19,267.86 L854.28,268.95 L855.36,269.33 L856.45,268.63 L857.54,267.75 L858.62,268.82 L859.71,269.61 L860.79,268.36 L861.88,268.07 L862.97,268.86 L864.05,267.89 L865.14,269.32 L866.22,267.95 L867.31,268.93 L868.39,268.48 L869.48,268.67 L870.57,268.07 L871.65,268.1 L872.74,268.34 L873.82,267.86 L874.91,268.55 L876,268.28 L877.08,267.81 L878.17,269.34 L879.25,268.12 L880.34,268.39 L881.43,268.74 L882.51,267.42 L883.6,268.07 L884.68,268.15 L885.77,267.99 L886.86,267.17 L887.94,266.97 L889.03,267.71 L890.11,267.64 L891.2,267.26 L892.28,267.85 L893.37,267.13 L894.46,267.16 L895.54,267.66 L896.63,266.2 L897.71,266.64 L898.8,267.74 L899.89,266.4 L900.97,266.92 L902.06,267.26 L903.14,266.05 L904.23,266.12 L905.32,266.67 L906.4,265.69 L907.49,266.8 L908.57,265.5 L909.66,264.61 L910.75,265.88 L911.83,266.56 L912.92,266.59 L914,266.74 L915.09,266.54 L916.17,266.2 L917.26,265.53 L918.35,265.44 L919.43,265.13 L920.52,265.33 L921.6,265.2 L922.69,264.76 L923.78,265.27 L924.86,264.47 L925.95,265.22 L927.03,265.57 L928.12,264.72 L929.21,265.09 L930.29,264.35 L931.38,264.33 L932.46,264.59 L933.55,263.47 L934.64,262.97 L935.72,263.76 L936.81,262.79 L937.89,262.96 L938.98,262.64 L940.06,261.53 L941.15,261.73 L942.24,261.65 L943.32,260.5 L944.41,259.45 L945.49,260.68 L946.58,260.34 L947.67,259.19 L948.75,258.74 L949.84,258.57 L950.92,258.22 L952.01,257.98 L953.1,256.88 L954.18,256.6 L955.27,256.58 L956.35,256.26 L957.44,255.5 L958.53,255.21 L959.61,253.67 L960.7,253.3 L961.78,253.62 L962.87,252.31 L963.95,252.12 L965.04,251.82 L966.13,251.62 L967.21,249.34 L968.3,249.34 L969.38,248.28 L970.47,247.98 L971.56,247.47 L972.64,246.05 L973.73,247.34 L974.81,244.73 L975.9,243.32 L976.99,241.82 L978.07,241.39 L979.16,239.38 L980.24,237.5 L981.33,235.2 L982.42,231.76 L983.5,226.57 L984.59,222.05 L985.67,215.32 L986.76,206.05 L987.84,194.76 L988.93,180.18 L990.02,164.41 L991.1,151.04 L992.19,142.03 L993.27,142.01 L994.36,150.45 L995.45,165.2 L996.53,180.69 L997.62,196.13 L998.7,208.34 L999.79,219.2 L1000.88,226.02 L1001.96,233.45 L1003.05,237.59 L1004.13,241.77 L1005.22,246.13 L1006.31,247.93 L1007.39,250.36 L1008.48,251.61 L1009.56,253.87 L1010.65,255.27 L1011.73,257.04 L1012.82,256.54 L1013.91,258 L1014.99,259.24 L1016.08,259.39 L1017.16,259.16 L1018.25,260.62 L1019.34,261.46 L1020.42,262.64 L1021.51,262.14 L1022.59,263 L1023.68,262.61 L1024.77,263.53 L1025.85,264.73 L1026.94,263.63 L1028.02,264.73 L1029.11,265.68 L1030.2,265.33 L1031.28,264.38 L1032.37,265.33 L1033.45,265.05 L1034.54,265.37 L1035.62,266.01 L1036.71,266.49 L1037.8,267.37 L1038.88,266.06 L1039.97,265.86 L1041.05,266.29 L1042.14,266.53 L1043.23,268.1 L1044.31,267.76 L1045.4,267.02 L1046.48,266.34 L1047.57,267.16 L1048.66,267.17 L1049.74,266.42 L1050.83,266.24 L1051.91,267.21 L1053,266.34 L1054.09,267.41 L1055.17,267.93 L1056.26,265.78 L1057.34,267.14 L1058.43,266.28 L1059.51,267.14 L1060.6,266.92 L1061.69,267.99 L1062.77,266.22 L1063.86,267.6 L1064.94,267.67 L1066.03,267.83 L1067.12,267.24 L1068.2,267.48 L1069.29,267.41 L1070.37,267.52' fill='none' stroke='#000' stroke-width='3.3' stroke-linejoin='round' stroke-linecap='round' />
</g>
<line x1='993.6' y1='150' x2='993.6' y2='714' stroke='#000' stroke-width='2.6' stroke-dasharray='6,4'/>
<text x='1192.46' y='38.9' font-family='Liberation Sans' font-size='47.36' font-weight='normal' fill='#000'>(b)</text>
<text x='1240.36' y='166.9' font-family='Liberation Sans' font-size='46.77' font-weight='normal' fill='#000'>Shear</text>
<text x='1240.19' y='545.2' font-family='Liberation Sans' font-size='46.43' font-weight='normal' fill='#000'>Breathing</text>
<line x1='1490.4' y1='108.8' x2='1501.25' y2='93.35' stroke='#0a0a70' stroke-width='4.6'/>
<line x1='1501.25' y1='93.35' x2='1512.1' y2='77.9' stroke='#e8e81a' stroke-width='4.6'/>
<line x1='1490.4' y1='108.8' x2='1512.1' y2='123.85' stroke='#0a0a70' stroke-width='4.6'/>
<line x1='1512.1' y1='123.85' x2='1533.8' y2='138.9' stroke='#e8e81a' stroke-width='4.6'/>
<line x1='1555.3' y1='108.8' x2='1533.7' y2='93.35' stroke='#0a0a70' stroke-width='4.6'/>
<line x1='1533.7' y1='93.35' x2='1512.1' y2='77.9' stroke='#e8e81a' stroke-width='4.6'/>
<line x1='1555.3' y1='108.8' x2='1544.55' y2='123.85' stroke='#0a0a70' stroke-width='4.6'/>
<line x1='1544.55' y1='123.85' x2='1533.8' y2='138.9' stroke='#e8e81a' stroke-width='4.6'/>
<line x1='1555.3' y1='108.8' x2='1566.15' y2='93.35' stroke='#0a0a70' stroke-width='4.6'/>
<line x1='1566.15' y1='93.35' x2='1577' y2='77.9' stroke='#e8e81a' stroke-width='4.6'/>
<line x1='1555.3' y1='108.8' x2='1577' y2='123.85' stroke='#0a0a70' stroke-width='4.6'/>
<line x1='1577' y1='123.85' x2='1598.7' y2='138.9' stroke='#e8e81a' stroke-width='4.6'/>
<line x1='1620.1' y1='108.8' x2='1598.55' y2='93.35' stroke='#0a0a70' stroke-width='4.6'/>
<line x1='1598.55' y1='93.35' x2='1577' y2='77.9' stroke='#e8e81a' stroke-width='4.6'/>
<line x1='1620.1' y1='108.8' x2='1609.4' y2='123.85' stroke='#0a0a70' stroke-width='4.6'/>
<line x1='1609.4' y1='123.85' x2='1598.7' y2='138.9' stroke='#e8e81a' stroke-width='4.6'/>
<line x1='1620.1' y1='108.8' x2='1630.95' y2='93.35' stroke='#0a0a70' stroke-width='4.6'/>
<line x1='1630.95' y1='93.35' x2='1641.8' y2='77.9' stroke='#e8e81a' stroke-width='4.6'/>
<line x1='1620.1' y1='108.8' x2='1641.8' y2='123.85' stroke='#0a0a70' stroke-width='4.6'/>
<line x1='1641.8' y1='123.85' x2='1663.5' y2='138.9' stroke='#e8e81a' stroke-width='4.6'/>
<line x1='1684.7' y1='108.8' x2='1663.25' y2='93.35' stroke='#0a0a70' stroke-width='4.6'/>
<line x1='1663.25' y1='93.35' x2='1641.8' y2='77.9' stroke='#e8e81a' stroke-width='4.6'/>
<line x1='1684.7' y1='108.8' x2='1674.1' y2='123.85' stroke='#0a0a70' stroke-width='4.6'/>
<line x1='1674.1' y1='123.85' x2='1663.5' y2='138.9' stroke='#e8e81a' stroke-width='4.6'/>
<line x1='1684.7' y1='108.8' x2='1695.55' y2='93.35' stroke='#0a0a70' stroke-width='4.6'/>
<line x1='1695.55' y1='93.35' x2='1706.4' y2='77.9' stroke='#e8e81a' stroke-width='4.6'/>
<line x1='1684.7' y1='108.8' x2='1706.4' y2='123.85' stroke='#0a0a70' stroke-width='4.6'/>
<line x1='1706.4' y1='123.85' x2='1728.1' y2='138.9' stroke='#e8e81a' stroke-width='4.6'/>
<circle cx='1512.1' cy='77.9' r='8.2' fill='url(#gS)'/>
<circle cx='1533.8' cy='138.9' r='8.2' fill='url(#gS)'/>
<circle cx='1577' cy='77.9' r='8.2' fill='url(#gS)'/>
<circle cx='1598.7' cy='138.9' r='8.2' fill='url(#gS)'/>
<circle cx='1641.8' cy='77.9' r='8.2' fill='url(#gS)'/>
<circle cx='1663.5' cy='138.9' r='8.2' fill='url(#gS)'/>
<circle cx='1706.4' cy='77.9' r='8.2' fill='url(#gS)'/>
<circle cx='1728.1' cy='138.9' r='8.2' fill='url(#gS)'/>
<circle cx='1490.4' cy='108.8' r='12.3' fill='url(#gMo)'/>
<circle cx='1555.3' cy='108.8' r='12.3' fill='url(#gMo)'/>
<circle cx='1620.1' cy='108.8' r='12.3' fill='url(#gMo)'/>
<circle cx='1684.7' cy='108.8' r='12.3' fill='url(#gMo)'/>
<line x1='1490.4' y1='229.7' x2='1501.25' y2='214.25' stroke='#0a0a70' stroke-width='4.6'/>
<line x1='1501.25' y1='214.25' x2='1512.1' y2='198.8' stroke='#e8e81a' stroke-width='4.6'/>
<line x1='1490.4' y1='229.7' x2='1512.1' y2='244.75' stroke='#0a0a70' stroke-width='4.6'/>
<line x1='1512.1' y1='244.75' x2='1533.8' y2='259.8' stroke='#e8e81a' stroke-width='4.6'/>
<line x1='1555.3' y1='229.7' x2='1533.7' y2='214.25' stroke='#0a0a70' stroke-width='4.6'/>
<line x1='1533.7' y1='214.25' x2='1512.1' y2='198.8' stroke='#e8e81a' stroke-width='4.6'/>
<line x1='1555.3' y1='229.7' x2='1544.55' y2='244.75' stroke='#0a0a70' stroke-width='4.6'/>
<line x1='1544.55' y1='244.75' x2='1533.8' y2='259.8' stroke='#e8e81a' stroke-width='4.6'/>
<line x1='1555.3' y1='229.7' x2='1566.15' y2='214.25' stroke='#0a0a70' stroke-width='4.6'/>
<line x1='1566.15' y1='214.25' x2='1577' y2='198.8' stroke='#e8e81a' stroke-width='4.6'/>
<line x1='1555.3' y1='229.7' x2='1577' y2='244.75' stroke='#0a0a70' stroke-width='4.6'/>
<line x1='1577' y1='244.75' x2='1598.7' y2='259.8' stroke='#e8e81a' stroke-width='4.6'/>
<line x1='1620.1' y1='229.7' x2='1598.55' y2='214.25' stroke='#0a0a70' stroke-width='4.6'/>
<line x1='1598.55' y1='214.25' x2='1577' y2='198.8' stroke='#e8e81a' stroke-width='4.6'/>
<line x1='1620.1' y1='229.7' x2='1609.4' y2='244.75' stroke='#0a0a70' stroke-width='4.6'/>
<line x1='1609.4' y1='244.75' x2='1598.7' y2='259.8' stroke='#e8e81a' stroke-width='4.6'/>
<line x1='1620.1' y1='229.7' x2='1630.95' y2='214.25' stroke='#0a0a70' stroke-width='4.6'/>
<line x1='1630.95' y1='214.25' x2='1641.8' y2='198.8' stroke='#e8e81a' stroke-width='4.6'/>
<line x1='1620.1' y1='229.7' x2='1641.8' y2='244.75' stroke='#0a0a70' stroke-width='4.6'/>
<line x1='1641.8' y1='244.75' x2='1663.5' y2='259.8' stroke='#e8e81a' stroke-width='4.6'/>
<line x1='1684.7' y1='229.7' x2='1663.25' y2='214.25' stroke='#0a0a70' stroke-width='4.6'/>
<line x1='1663.25' y1='214.25' x2='1641.8' y2='198.8' stroke='#e8e81a' stroke-width='4.6'/>
<line x1='1684.7' y1='229.7' x2='1674.1' y2='244.75' stroke='#0a0a70' stroke-width='4.6'/>
<line x1='1674.1' y1='244.75' x2='1663.5' y2='259.8' stroke='#e8e81a' stroke-width='4.6'/>
<line x1='1684.7' y1='229.7' x2='1695.55' y2='214.25' stroke='#0a0a70' stroke-width='4.6'/>
<line x1='1695.55' y1='214.25' x2='1706.4' y2='198.8' stroke='#e8e81a' stroke-width='4.6'/>
<line x1='1684.7' y1='229.7' x2='1706.4' y2='244.75' stroke='#0a0a70' stroke-width='4.6'/>
<line x1='1706.4' y1='244.75' x2='1728.1' y2='259.8' stroke='#e8e81a' stroke-width='4.6'/>
<circle cx='1512.1' cy='198.8' r='8.2' fill='url(#gS)'/>
<circle cx='1533.8' cy='259.8' r='8.2' fill='url(#gS)'/>
<circle cx='1577' cy='198.8' r='8.2' fill='url(#gS)'/>
<circle cx='1598.7' cy='259.8' r='8.2' fill='url(#gS)'/>
<circle cx='1641.8' cy='198.8' r='8.2' fill='url(#gS)'/>
<circle cx='1663.5' cy='259.8' r='8.2' fill='url(#gS)'/>
<circle cx='1706.4' cy='198.8' r='8.2' fill='url(#gS)'/>
<circle cx='1728.1' cy='259.8' r='8.2' fill='url(#gS)'/>
<circle cx='1490.4' cy='229.7' r='12.3' fill='url(#gMo)'/>
<circle cx='1555.3' cy='229.7' r='12.3' fill='url(#gMo)'/>
<circle cx='1620.1' cy='229.7' r='12.3' fill='url(#gMo)'/>
<circle cx='1684.7' cy='229.7' r='12.3' fill='url(#gMo)'/>
<line x1='1490.4' y1='464.9' x2='1501.25' y2='449.45' stroke='#0a0a70' stroke-width='4.6'/>
<line x1='1501.25' y1='449.45' x2='1512.1' y2='434' stroke='#e8e81a' stroke-width='4.6'/>
<line x1='1490.4' y1='464.9' x2='1512.1' y2='479.95' stroke='#0a0a70' stroke-width='4.6'/>
<line x1='1512.1' y1='479.95' x2='1533.8' y2='495' stroke='#e8e81a' stroke-width='4.6'/>
<line x1='1555.3' y1='464.9' x2='1533.7' y2='449.45' stroke='#0a0a70' stroke-width='4.6'/>
<line x1='1533.7' y1='449.45' x2='1512.1' y2='434' stroke='#e8e81a' stroke-width='4.6'/>
<line x1='1555.3' y1='464.9' x2='1544.55' y2='479.95' stroke='#0a0a70' stroke-width='4.6'/>
<line x1='1544.55' y1='479.95' x2='1533.8' y2='495' stroke='#e8e81a' stroke-width='4.6'/>
<line x1='1555.3' y1='464.9' x2='1566.15' y2='449.45' stroke='#0a0a70' stroke-width='4.6'/>
<line x1='1566.15' y1='449.45' x2='1577' y2='434' stroke='#e8e81a' stroke-width='4.6'/>
<line x1='1555.3' y1='464.9' x2='1577' y2='479.95' stroke='#0a0a70' stroke-width='4.6'/>
<line x1='1577' y1='479.95' x2='1598.7' y2='495' stroke='#e8e81a' stroke-width='4.6'/>
<line x1='1620.1' y1='464.9' x2='1598.55' y2='449.45' stroke='#0a0a70' stroke-width='4.6'/>
<line x1='1598.55' y1='449.45' x2='1577' y2='434' stroke='#e8e81a' stroke-width='4.6'/>
<line x1='1620.1' y1='464.9' x2='1609.4' y2='479.95' stroke='#0a0a70' stroke-width='4.6'/>
<line x1='1609.4' y1='479.95' x2='1598.7' y2='495' stroke='#e8e81a' stroke-width='4.6'/>
<line x1='1620.1' y1='464.9' x2='1630.95' y2='449.45' stroke='#0a0a70' stroke-width='4.6'/>
<line x1='1630.95' y1='449.45' x2='1641.8' y2='434' stroke='#e8e81a' stroke-width='4.6'/>
<line x1='1620.1' y1='464.9' x2='1641.8' y2='479.95' stroke='#0a0a70' stroke-width='4.6'/>
<line x1='1641.8' y1='479.95' x2='1663.5' y2='495' stroke='#e8e81a' stroke-width='4.6'/>
<line x1='1684.7' y1='464.9' x2='1663.25' y2='449.45' stroke='#0a0a70' stroke-width='4.6'/>
<line x1='1663.25' y1='449.45' x2='1641.8' y2='434' stroke='#e8e81a' stroke-width='4.6'/>
<line x1='1684.7' y1='464.9' x2='1674.1' y2='479.95' stroke='#0a0a70' stroke-width='4.6'/>
<line x1='1674.1' y1='479.95' x2='1663.5' y2='495' stroke='#e8e81a' stroke-width='4.6'/>
<line x1='1684.7' y1='464.9' x2='1695.55' y2='449.45' stroke='#0a0a70' stroke-width='4.6'/>
<line x1='1695.55' y1='449.45' x2='1706.4' y2='434' stroke='#e8e81a' stroke-width='4.6'/>
<line x1='1684.7' y1='464.9' x2='1706.4' y2='479.95' stroke='#0a0a70' stroke-width='4.6'/>
<line x1='1706.4' y1='479.95' x2='1728.1' y2='495' stroke='#e8e81a' stroke-width='4.6'/>
<circle cx='1512.1' cy='434' r='8.2' fill='url(#gS)'/>
<circle cx='1533.8' cy='495' r='8.2' fill='url(#gS)'/>
<circle cx='1577' cy='434' r='8.2' fill='url(#gS)'/>
<circle cx='1598.7' cy='495' r='8.2' fill='url(#gS)'/>
<circle cx='1641.8' cy='434' r='8.2' fill='url(#gS)'/>
<circle cx='1663.5' cy='495' r='8.2' fill='url(#gS)'/>
<circle cx='1706.4' cy='434' r='8.2' fill='url(#gS)'/>
<circle cx='1728.1' cy='495' r='8.2' fill='url(#gS)'/>
<circle cx='1490.4' cy='464.9' r='12.3' fill='url(#gMo)'/>
<circle cx='1555.3' cy='464.9' r='12.3' fill='url(#gMo)'/>
<circle cx='1620.1' cy='464.9' r='12.3' fill='url(#gMo)'/>
<circle cx='1684.7' cy='464.9' r='12.3' fill='url(#gMo)'/>
<line x1='1490.4' y1='586.3' x2='1501.25' y2='570.85' stroke='#0a0a70' stroke-width='4.6'/>
<line x1='1501.25' y1='570.85' x2='1512.1' y2='555.4' stroke='#e8e81a' stroke-width='4.6'/>
<line x1='1490.4' y1='586.3' x2='1512.1' y2='601.35' stroke='#0a0a70' stroke-width='4.6'/>
<line x1='1512.1' y1='601.35' x2='1533.8' y2='616.4' stroke='#e8e81a' stroke-width='4.6'/>
<line x1='1555.3' y1='586.3' x2='1533.7' y2='570.85' stroke='#0a0a70' stroke-width='4.6'/>
<line x1='1533.7' y1='570.85' x2='1512.1' y2='555.4' stroke='#e8e81a' stroke-width='4.6'/>
<line x1='1555.3' y1='586.3' x2='1544.55' y2='601.35' stroke='#0a0a70' stroke-width='4.6'/>
<line x1='1544.55' y1='601.35' x2='1533.8' y2='616.4' stroke='#e8e81a' stroke-width='4.6'/>
<line x1='1555.3' y1='586.3' x2='1566.15' y2='570.85' stroke='#0a0a70' stroke-width='4.6'/>
<line x1='1566.15' y1='570.85' x2='1577' y2='555.4' stroke='#e8e81a' stroke-width='4.6'/>
<line x1='1555.3' y1='586.3' x2='1577' y2='601.35' stroke='#0a0a70' stroke-width='4.6'/>
<line x1='1577' y1='601.35' x2='1598.7' y2='616.4' stroke='#e8e81a' stroke-width='4.6'/>
<line x1='1620.1' y1='586.3' x2='1598.55' y2='570.85' stroke='#0a0a70' stroke-width='4.6'/>
<line x1='1598.55' y1='570.85' x2='1577' y2='555.4' stroke='#e8e81a' stroke-width='4.6'/>
<line x1='1620.1' y1='586.3' x2='1609.4' y2='601.35' stroke='#0a0a70' stroke-width='4.6'/>
<line x1='1609.4' y1='601.35' x2='1598.7' y2='616.4' stroke='#e8e81a' stroke-width='4.6'/>
<line x1='1620.1' y1='586.3' x2='1630.95' y2='570.85' stroke='#0a0a70' stroke-width='4.6'/>
<line x1='1630.95' y1='570.85' x2='1641.8' y2='555.4' stroke='#e8e81a' stroke-width='4.6'/>
<line x1='1620.1' y1='586.3' x2='1641.8' y2='601.35' stroke='#0a0a70' stroke-width='4.6'/>
<line x1='1641.8' y1='601.35' x2='1663.5' y2='616.4' stroke='#e8e81a' stroke-width='4.6'/>
<line x1='1684.7' y1='586.3' x2='1663.25' y2='570.85' stroke='#0a0a70' stroke-width='4.6'/>
<line x1='1663.25' y1='570.85' x2='1641.8' y2='555.4' stroke='#e8e81a' stroke-width='4.6'/>
<line x1='1684.7' y1='586.3' x2='1674.1' y2='601.35' stroke='#0a0a70' stroke-width='4.6'/>
<line x1='1674.1' y1='601.35' x2='1663.5' y2='616.4' stroke='#e8e81a' stroke-width='4.6'/>
<line x1='1684.7' y1='586.3' x2='1695.55' y2='570.85' stroke='#0a0a70' stroke-width='4.6'/>
<line x1='1695.55' y1='570.85' x2='1706.4' y2='555.4' stroke='#e8e81a' stroke-width='4.6'/>
<line x1='1684.7' y1='586.3' x2='1706.4' y2='601.35' stroke='#0a0a70' stroke-width='4.6'/>
<line x1='1706.4' y1='601.35' x2='1728.1' y2='616.4' stroke='#e8e81a' stroke-width='4.6'/>
<circle cx='1512.1' cy='555.4' r='8.2' fill='url(#gS)'/>
<circle cx='1533.8' cy='616.4' r='8.2' fill='url(#gS)'/>
<circle cx='1577' cy='555.4' r='8.2' fill='url(#gS)'/>
<circle cx='1598.7' cy='616.4' r='8.2' fill='url(#gS)'/>
<circle cx='1641.8' cy='555.4' r='8.2' fill='url(#gS)'/>
<circle cx='1663.5' cy='616.4' r='8.2' fill='url(#gS)'/>
<circle cx='1706.4' cy='555.4' r='8.2' fill='url(#gS)'/>
<circle cx='1728.1' cy='616.4' r='8.2' fill='url(#gS)'/>
<circle cx='1490.4' cy='586.3' r='12.3' fill='url(#gMo)'/>
<circle cx='1555.3' cy='586.3' r='12.3' fill='url(#gMo)'/>
<circle cx='1620.1' cy='586.3' r='12.3' fill='url(#gMo)'/>
<circle cx='1684.7' cy='586.3' r='12.3' fill='url(#gMo)'/>
<path d='M1731,104.2 L1818.2,104.2 L1818.2,91.8 L1854.2,110.3 L1818.2,128.8 L1818.2,116.4 L1731,116.4 Z' fill='#666' opacity='0.7' transform='translate(3,9)' filter='url(#shd)'/>
<path d='M1731,104.2 L1818.2,104.2 L1818.2,91.8 L1854.2,110.3 L1818.2,128.8 L1818.2,116.4 L1731,116.4 Z' fill='#e42424' filter='url(#soft)'/>
<path d='M1469.7,226.3 L1385.9,226.3 L1385.9,213.9 L1349.9,232.4 L1385.9,250.9 L1385.9,238.5 L1469.7,238.5 Z' fill='#666' opacity='0.7' transform='translate(3,9)' filter='url(#shd)'/>
<path d='M1469.7,226.3 L1385.9,226.3 L1385.9,213.9 L1349.9,232.4 L1385.9,250.9 L1385.9,238.5 L1469.7,238.5 Z' fill='#e42424' filter='url(#soft)'/>
<path d='M1605,436.3 L1605,349.6 L1593.1,349.6 L1611.5,313.6 L1629.9,349.6 L1618,349.6 L1618,436.3 Z' fill='#666' opacity='0.55' transform='translate(4,6)' filter='url(#shd)'/>
<path d='M1605,436.3 L1605,349.6 L1593.1,349.6 L1611.5,313.6 L1629.9,349.6 L1618,349.6 L1618,436.3 Z' fill='#e42424' filter='url(#soft)'/>
<path d='M1605,625.8 L1605,711.1 L1593.1,711.1 L1611.5,747.1 L1629.9,711.1 L1618,711.1 L1618,625.8 Z' fill='#666' opacity='0.55' transform='translate(4,6)' filter='url(#shd)'/>
<path d='M1605,625.8 L1605,711.1 L1593.1,711.1 L1611.5,747.1 L1629.9,711.1 L1618,711.1 L1618,625.8 Z' fill='#e42424' filter='url(#soft)'/>
<text x='2.64' y='894.4' font-family='Liberation Sans' font-size='47.6' font-weight='normal' fill='#000'>(c)</text>
<g clip-path='url(#clipC)'>
<path d='M101.4,1563.7 L105.53,1564.05 L109.66,1566.38 L113.79,1564.91 L117.92,1565.64 L122.05,1563.39 L126.18,1564.06 L130.31,1564.44 L134.44,1563.52 L138.57,1565.57 L142.7,1565.67 L146.83,1565.81 L150.96,1567.56 L155.09,1566.69 L159.22,1562.96 L163.35,1564.85 L167.48,1565.22 L171.61,1562.46 L175.74,1563.92 L179.87,1568.07 L184,1561.12 L188.13,1563.48 L192.26,1564.65 L196.39,1566.34 L200.52,1567.51 L204.65,1566.04 L208.78,1562.8 L212.91,1562.81 L217.04,1562.3 L221.17,1567.38 L225.3,1564.88 L229.43,1561.91 L233.56,1567.75 L237.69,1565.48 L241.82,1567.33 L245.95,1564.1 L250.08,1562.74 L254.21,1565.58 L258.34,1564.67 L262.47,1565.85 L266.6,1566.59 L270.73,1563.36 L274.86,1565.62 L278.99,1563.94 L283.12,1562.26 L287.25,1566.36 L291.38,1565.97 L295.51,1566.24 L299.64,1563.62 L303.77,1565.15 L307.9,1565.01 L312.03,1563.03 L316.16,1564.2 L320.29,1568.83 L324.42,1565.55 L328.55,1560.64 L330.2,1557.32 L330.7,1555.78 L331.19,1553.77 L331.69,1551.04 L332.18,1547.16 L332.68,1541.29 L333.18,1531.56 L333.67,1513.17 L334.17,1469.28 L334.66,1293.31 L335.16,920 M366.26,920 L366.26,1519.88 L366.75,1532.11 L367.25,1535.97 L367.74,1538.05 L368.24,1539.48 L368.73,1540.58 L369.23,1541.5 L369.73,1542.3 L370.22,1543.01 L370.68,1543.6 L374.81,1550.18 L378.94,1551.58 L383.07,1550.12 L387.2,1551.89 L391.33,1553.71 L395.46,1554.25 L399.59,1555.08 L403.72,1555.12 L407.85,1559.01 L411.98,1557.53 L416.11,1561.53 L420.24,1557.97 L424.37,1559.3 L428.5,1557.9 L432.63,1558.34 L436.76,1557.61 L440.89,1560.59 L445.02,1560.14 L449.15,1560.96 L453.28,1558.49 L457.41,1557.14 L461.54,1561.06 L465.67,1560.98 L469.8,1561.23 L473.93,1561.33 L478.06,1563.05 L482.19,1561.73 L486.32,1559.84 L490.45,1561.15 L494.58,1560.17 L498.71,1562.6 L502.84,1560.09 L506.97,1563.84 L511.1,1562.82 L515.23,1562.62 L519.36,1560.98 L523.49,1562 L527.62,1560.9 L531.75,1562.37 L535.88,1561.73 L540.01,1561.35 L544.14,1562.34 L548.27,1562.96 L552.4,1564.05 L556.53,1563.21 L560.66,1562.95 L564.79,1565.26 L568.92,1562.06 L573.05,1562.39 L577.18,1560.29 L581.31,1566.2 L585.44,1563.37 L589.57,1559.05 L593.7,1563.05' fill='none' stroke='#7a00b8' stroke-width='3.4' stroke-linejoin='round' stroke-linecap='round'/>
<path d='M101.4,1524.35 L105.53,1528.34 L109.66,1524.84 L113.79,1526.66 L117.92,1526.77 L122.05,1528.91 L126.18,1526.38 L130.31,1530.74 L134.44,1526.63 L138.57,1530.51 L142.7,1527.83 L146.83,1527.33 L150.96,1522.59 L155.09,1524.97 L159.22,1526.96 L163.35,1524.97 L167.48,1523.89 L171.61,1523.52 L175.74,1527 L179.87,1527.97 L184,1526.38 L188.13,1519.99 L192.26,1522.27 L196.39,1520.7 L200.52,1512.68 L204.65,1521.1 L208.78,1522.91 L212.91,1523.96 L217.04,1527.74 L221.17,1524.26 L225.3,1524.66 L229.43,1529.71 L233.56,1527.72 L237.69,1529.04 L241.82,1525.54 L245.95,1525.64 L250.08,1526.37 L254.21,1524.56 L258.34,1526.71 L262.47,1526.26 L266.6,1527.32 L270.73,1526.72 L274.86,1524.97 L278.99,1529.27 L283.12,1525.19 L287.25,1526.24 L291.38,1528.22 L295.51,1525.76 L299.64,1528.83 L303.77,1528.25 L307.9,1525.85 L312.03,1524.09 L316.16,1525.87 L320.29,1527.61 L324.42,1527.5 L328.55,1521.79 L331.03,1518.15 L331.52,1516.61 L332.02,1514.59 L332.51,1511.86 L333.01,1507.98 L333.51,1502.11 L334,1492.38 L334.5,1473.98 L334.99,1430.1 L335.49,1254.12 L335.98,920 M366.26,920 L366.26,1480.57 L366.75,1492.79 L367.25,1496.65 L367.74,1498.73 L368.24,1500.15 L368.73,1501.26 L369.23,1502.17 L369.73,1502.97 L370.22,1503.68 L370.68,1504.27 L374.81,1506.95 L378.94,1511.8 L383.07,1512.71 L387.2,1513.22 L391.33,1517 L395.46,1514.13 L399.59,1516.88 L403.72,1515.49 L407.85,1519.89 L411.98,1517.35 L416.11,1519.17 L420.24,1519.5 L424.37,1521.7 L428.5,1518.66 L432.63,1520.8 L436.76,1519.97 L440.89,1520.19 L445.02,1520.37 L449.15,1520.03 L453.28,1520.24 L457.41,1521.48 L461.54,1520 L465.67,1523.51 L469.8,1524.01 L473.93,1521.54 L478.06,1517.98 L482.19,1519.32 L486.32,1514.3 L490.45,1514.16 L494.58,1511.19 L498.71,1513.22 L502.84,1517.01 L506.97,1520.92 L511.1,1520.38 L515.23,1523.77 L519.36,1516.63 L523.49,1519.3 L527.62,1523.5 L531.75,1520.45 L535.88,1523.25 L540.01,1521.97 L544.14,1520.95 L548.27,1520.18 L552.4,1521.28 L556.53,1521.5 L560.66,1523.49 L564.79,1523.31 L568.92,1522.05 L573.05,1521.85 L577.18,1522.55 L581.31,1520.93 L585.44,1521.31 L589.57,1524.15 L593.7,1521.51' fill='none' stroke='#3c10f0' stroke-width='3.4' stroke-linejoin='round' stroke-linecap='round'/>
<path d='M101.4,1492.69 L105.53,1490.3 L109.66,1489.01 L113.79,1490.11 L117.92,1490.86 L122.05,1491.09 L126.18,1489.15 L130.31,1491.79 L134.44,1490.87 L138.57,1489.18 L142.7,1491.37 L146.83,1490.44 L150.96,1490.35 L155.09,1490.22 L159.22,1490.68 L163.35,1491.32 L167.48,1492.86 L171.61,1490.11 L175.74,1487.4 L179.87,1489.3 L184,1491.8 L188.13,1489.8 L192.26,1491.05 L196.39,1489.1 L200.52,1489.14 L204.65,1486.98 L208.78,1487.98 L212.91,1491.01 L217.04,1488.89 L221.17,1487.64 L225.3,1487.27 L229.43,1483.99 L233.56,1480.35 L237.69,1474.06 L241.82,1469.36 L245.95,1481.51 L250.08,1480.67 L254.21,1487.67 L258.34,1488.61 L262.47,1489.52 L266.6,1490.87 L270.73,1489.49 L274.86,1491.39 L278.99,1489.08 L283.12,1489.58 L287.25,1488.89 L291.38,1490.93 L295.51,1490.32 L299.64,1492.31 L303.77,1489.27 L307.9,1492.61 L312.03,1489.22 L316.16,1491.08 L320.29,1493.49 L324.42,1490.7 L328.55,1487.33 L331.85,1482.58 L332.35,1481.03 L332.85,1479.02 L333.34,1476.29 L333.84,1472.41 L334.33,1466.54 L334.83,1456.81 L335.32,1438.41 L335.82,1394.53 L336.31,1218.55 L336.81,920 M365.84,920 L365.84,1446.98 L366.34,1459.13 L366.84,1462.93 L367.33,1464.96 L367.83,1466.33 L368.32,1467.38 L368.82,1468.25 L369.31,1469 L369.81,1469.67 L370.26,1470.23 L374.39,1472.87 L378.52,1472.89 L382.65,1477.79 L386.78,1477.81 L390.91,1476.77 L395.04,1479.83 L399.17,1481.53 L403.3,1479.34 L407.43,1482.63 L411.56,1481.9 L415.69,1485.08 L419.82,1482.49 L423.95,1481.97 L428.08,1485.81 L432.21,1483.14 L436.34,1481.25 L440.47,1486.37 L444.6,1482.74 L448.73,1477.01 L452.86,1466.76 L456.99,1457.98 L461.12,1464.4 L465.25,1470.16 L469.38,1478.54 L473.51,1479.54 L477.64,1483.19 L481.77,1481.81 L485.9,1483.48 L490.03,1485.63 L494.16,1486.52 L498.29,1487.4 L502.42,1482.78 L506.55,1485.88 L510.68,1486.7 L514.81,1489.94 L518.94,1486.98 L523.07,1485.32 L527.2,1484.8 L531.33,1483.02 L535.46,1489.02 L539.59,1485.27 L543.72,1486.3 L547.85,1488.51 L551.98,1486.21 L556.11,1488.07 L560.24,1484.4 L564.37,1488.21 L568.5,1487.25 L572.63,1486.12 L576.76,1486.3 L580.89,1485.7 L585.02,1488.46 L589.15,1488.21 L593.28,1487.53' fill='none' stroke='#1a7ff0' stroke-width='3.4' stroke-linejoin='round' stroke-linecap='round'/>
<path d='M101.4,1449.85 L105.53,1446.52 L109.66,1447.41 L113.79,1450.47 L117.92,1446.76 L122.05,1445.15 L126.18,1443.92 L130.31,1445.33 L134.44,1443.07 L138.57,1446.94 L142.7,1445.96 L146.83,1444.26 L150.96,1442.96 L155.09,1444.61 L159.22,1444.55 L163.35,1444.73 L167.48,1443.7 L171.61,1446.27 L175.74,1447.69 L179.87,1443.63 L184,1444.35 L188.13,1443.73 L192.26,1445.89 L196.39,1444.32 L200.52,1444.18 L204.65,1445.38 L208.78,1442.07 L212.91,1442.85 L217.04,1443.33 L221.17,1441.19 L225.3,1443.14 L229.43,1441.32 L233.56,1443.11 L237.69,1446.63 L241.82,1444.35 L245.95,1440.24 L250.08,1441.33 L254.21,1433.34 L258.34,1425.91 L262.47,1407.7 L266.6,1411.27 L270.73,1422.42 L274.86,1435.74 L278.99,1440.14 L283.12,1438.78 L287.25,1443.24 L291.38,1443.64 L295.51,1441.5 L299.64,1442.66 L303.77,1445.17 L307.9,1445.54 L312.03,1441.48 L316.16,1447.66 L320.29,1445.19 L324.42,1446.59 L328.55,1441.6 L332.68,1438.8 L333.92,1436.14 L334.41,1434.59 L334.91,1432.58 L335.41,1429.85 L335.9,1425.97 L336.4,1420.1 L336.89,1410.38 L337.39,1391.98 L337.88,1348.09 L338.38,1172.11 L338.88,920 M365.84,920 L365.84,1404.21 L366.34,1416.24 L366.84,1419.91 L367.33,1421.82 L367.83,1423.08 L368.32,1424.03 L368.82,1424.8 L369.31,1425.46 L369.81,1426.04 L370.26,1426.51 L374.39,1430.66 L378.52,1429.5 L382.65,1436.13 L386.78,1432.42 L390.91,1430.82 L395.04,1436.66 L399.17,1435.04 L403.3,1435.36 L407.43,1434.55 L411.56,1434.92 L415.69,1432.15 L419.82,1429.8 L423.95,1428.42 L428.08,1414.54 L432.21,1399.45 L436.34,1394.61 L440.47,1413.9 L444.6,1425.2 L448.73,1430.84 L452.86,1436.47 L456.99,1436.29 L461.12,1438.18 L465.25,1438.46 L469.38,1438.33 L473.51,1439.13 L477.64,1435.74 L481.77,1442.04 L485.9,1439.78 L490.03,1439.27 L494.16,1443.21 L498.29,1439.64 L502.42,1440.6 L506.55,1439.27 L510.68,1439.73 L514.81,1441.04 L518.94,1440.04 L523.07,1437.74 L527.2,1439.65 L531.33,1444.36 L535.46,1440.03 L539.59,1437.92 L543.72,1437.65 L547.85,1441.93 L551.98,1437.84 L556.11,1439.66 L560.24,1441.05 L564.37,1440.23 L568.5,1441.67 L572.63,1440.91 L576.76,1441.83 L580.89,1439.91 L585.02,1439.12 L589.15,1442.01 L593.28,1438.92' fill='none' stroke='#00e0ee' stroke-width='3.4' stroke-linejoin='round' stroke-linecap='round'/>
<path d='M101.4,1409.24 L105.53,1409.31 L109.66,1409.04 L113.79,1406.53 L117.92,1408.13 L122.05,1410.18 L126.18,1407.02 L130.31,1409.68 L134.44,1407.97 L138.57,1410.24 L142.7,1408.76 L146.83,1407.86 L150.96,1408 L155.09,1407.02 L159.22,1406.46 L163.35,1407.84 L167.48,1405.6 L171.61,1408.45 L175.74,1410.71 L179.87,1405.8 L184,1405.84 L188.13,1409.29 L192.26,1405.96 L196.39,1406.78 L200.52,1406.34 L204.65,1407.79 L208.78,1401.86 L212.91,1409.55 L217.04,1406.3 L221.17,1405.27 L225.3,1404.64 L229.43,1404.99 L233.56,1405.23 L237.69,1408.43 L241.82,1407.26 L245.95,1405.57 L250.08,1404.04 L254.21,1403.13 L258.34,1401.27 L262.47,1402.85 L266.6,1398.14 L270.73,1390.28 L274.86,1376.58 L278.99,1365.29 L283.12,1372.78 L287.25,1384.44 L291.38,1394.86 L295.51,1399.67 L299.64,1401.9 L303.77,1401.5 L307.9,1403.06 L312.03,1404.21 L316.16,1405.18 L320.29,1404.27 L324.42,1406.09 L328.55,1403.27 L332.68,1397.53 L333.09,1396.49 L333.59,1394.95 L334.08,1392.93 L334.58,1390.21 L335.08,1386.33 L335.57,1380.45 L336.07,1370.73 L336.56,1352.33 L337.06,1308.44 L337.55,1132.46 L338.05,920 M365.43,920 L365.43,1361.23 L365.93,1373.33 L366.42,1377.08 L366.92,1379.05 L367.41,1380.37 L367.91,1381.38 L368.4,1382.2 L368.9,1382.91 L369.4,1383.52 L369.85,1384.04 L373.98,1387.49 L378.11,1388.25 L382.24,1392.48 L386.37,1392.1 L390.5,1389.08 L394.63,1390.18 L398.76,1390.96 L402.89,1386.25 L407.02,1380.94 L411.15,1368.01 L415.28,1339.81 L419.41,1326.79 L423.54,1350.96 L427.67,1372.74 L431.8,1383.47 L435.93,1391.18 L440.06,1393.95 L444.19,1396 L448.32,1396.39 L452.45,1393.87 L456.58,1397.96 L460.71,1399.19 L464.84,1397.06 L468.97,1399.73 L473.1,1398.86 L477.23,1399.84 L481.36,1400.48 L485.49,1398.4 L489.62,1400.4 L493.75,1397.63 L497.88,1399.19 L502.01,1401.94 L506.14,1401.44 L510.27,1398.87 L514.4,1400.31 L518.53,1397.09 L522.66,1400.89 L526.79,1399.31 L530.92,1400.05 L535.05,1397.51 L539.18,1397.7 L543.31,1398.45 L547.44,1398.43 L551.57,1399.79 L555.7,1400.22 L559.83,1399 L563.96,1399.01 L568.09,1401.03 L572.22,1399.08 L576.35,1398.7 L580.48,1399.54 L584.61,1397.81 L588.74,1399.01 L592.87,1399.78 L597,1395.18' fill='none' stroke='#44ee00' stroke-width='3.4' stroke-linejoin='round' stroke-linecap='round'/>
<path d='M101.4,1360.01 L105.53,1361.02 L109.66,1358.23 L113.79,1358.13 L117.92,1360.35 L122.05,1361.49 L126.18,1358.25 L130.31,1358.3 L134.44,1356.71 L138.57,1357.91 L142.7,1357.98 L146.83,1356 L150.96,1361.1 L155.09,1358.01 L159.22,1360.5 L163.35,1358.27 L167.48,1358.22 L171.61,1361.92 L175.74,1357.95 L179.87,1358.56 L184,1358.32 L188.13,1357.14 L192.26,1354.9 L196.39,1351.93 L200.52,1357.65 L204.65,1355.21 L208.78,1357.05 L212.91,1359.36 L217.04,1355.75 L221.17,1356.54 L225.3,1357.6 L229.43,1357.27 L233.56,1357.44 L237.69,1356.75 L241.82,1355.55 L245.95,1357.4 L250.08,1358.86 L254.21,1358.19 L258.34,1355.22 L262.47,1355.13 L266.6,1354.7 L270.73,1352.22 L274.86,1351.06 L278.99,1345.35 L283.12,1336.56 L287.25,1315.14 L291.38,1303.06 L295.51,1319.91 L299.64,1339.22 L303.77,1345.54 L307.9,1348.55 L312.03,1351.84 L316.16,1356.34 L320.29,1359.09 L324.42,1358.65 L328.55,1353.92 L332.68,1348.94 L333.18,1347.41 L333.67,1345.42 L334.17,1342.71 L334.66,1338.85 L335.16,1333 L335.65,1323.29 L336.15,1304.91 L336.64,1261.04 L337.14,1085.08 L337.64,920 M365.02,920 L365.02,1318.75 L365.51,1330.67 L366.01,1334.25 L366.5,1336.06 L367,1337.24 L367.5,1338.1 L367.99,1338.78 L368.49,1339.36 L368.98,1339.85 L369.44,1340.25 L373.57,1341.98 L377.7,1343.76 L381.83,1346.68 L385.96,1342.21 L390.09,1339.59 L394.22,1336.73 L398.35,1323.74 L402.48,1300.77 L406.61,1274.51 L410.74,1289.97 L414.87,1319.94 L419,1332.37 L423.13,1343.01 L427.26,1345.49 L431.39,1350.49 L435.52,1351.28 L439.65,1353.23 L443.78,1352.61 L447.91,1349.38 L452.04,1354.56 L456.17,1356.74 L460.3,1353.46 L464.43,1350.37 L468.56,1351.34 L472.69,1354.06 L476.82,1357.27 L480.95,1355.33 L485.08,1354.8 L489.21,1352.76 L493.34,1352.09 L497.47,1352.4 L501.6,1342.74 L505.73,1345.3 L509.86,1347.33 L513.99,1350.98 L518.12,1354.62 L522.25,1354.61 L526.38,1353.07 L530.51,1356.51 L534.64,1356.9 L538.77,1356.4 L542.9,1352.89 L547.03,1355.9 L551.16,1354.93 L555.29,1355.83 L559.42,1354.97 L563.55,1355.48 L567.68,1355.12 L571.81,1356.15 L575.94,1357.49 L580.07,1354.43 L584.2,1355.02 L588.33,1356.67 L592.46,1355.12 L596.59,1356.96' fill='none' stroke='#aaee00' stroke-width='3.4' stroke-linejoin='round' stroke-linecap='round'/>
<path d='M101.4,1310.11 L105.53,1312.69 L109.66,1312.84 L113.79,1314.34 L117.92,1312.45 L122.05,1314.25 L126.18,1310.01 L130.31,1313.38 L134.44,1311.78 L138.57,1311.25 L142.7,1312.16 L146.83,1311.43 L150.96,1312.1 L155.09,1311.19 L159.22,1312.91 L163.35,1309.91 L167.48,1309.53 L171.61,1310.02 L175.74,1312.95 L179.87,1310.98 L184,1311.67 L188.13,1310.78 L192.26,1310.68 L196.39,1312.81 L200.52,1308.01 L204.65,1307.77 L208.78,1308.63 L212.91,1305.3 L217.04,1303.78 L221.17,1306.92 L225.3,1308.22 L229.43,1312.26 L233.56,1311.1 L237.69,1308.61 L241.82,1309.89 L245.95,1310.09 L250.08,1311.08 L254.21,1308.31 L258.34,1310.73 L262.47,1312.25 L266.6,1308.63 L270.73,1308.5 L274.86,1306.88 L278.99,1306.81 L283.12,1306.3 L287.25,1302.32 L291.38,1293.44 L295.51,1282.87 L299.64,1264.1 L303.77,1256.82 L307.9,1275.97 L312.03,1291.28 L316.16,1302.35 L320.29,1304.92 L324.42,1307.18 L328.55,1304.93 L332.27,1300.27 L332.76,1298.8 L333.26,1296.86 L333.75,1294.19 L334.25,1290.38 L334.75,1284.56 L335.24,1274.9 L335.74,1256.55 L336.23,1212.71 L336.73,1036.78 L337.22,920 M364.6,920 L364.6,1272.71 L365.1,1284.56 L365.6,1288.06 L366.09,1289.79 L366.59,1290.89 L367.08,1291.68 L367.58,1292.3 L368.07,1292.8 L368.57,1293.23 L369.02,1293.57 L373.15,1298.08 L377.28,1294.9 L381.41,1293.91 L385.54,1288.73 L389.67,1282.83 L393.8,1267.42 L397.93,1241.93 L402.06,1246.8 L406.19,1273.14 L410.32,1284.53 L414.45,1296.58 L418.58,1297.81 L422.71,1300.16 L426.84,1301.78 L430.97,1302.74 L435.1,1301.55 L439.23,1305.47 L443.36,1305.91 L447.49,1304.7 L451.62,1306.09 L455.75,1305.47 L459.88,1302.58 L464.01,1301.91 L468.14,1303.76 L472.27,1301.38 L476.4,1299.81 L480.53,1293.32 L484.66,1288.63 L488.79,1296.25 L492.92,1299.4 L497.05,1304.84 L501.18,1304.75 L505.31,1303.74 L509.44,1307.06 L513.57,1309.18 L517.7,1307.22 L521.83,1310.81 L525.96,1308.78 L530.09,1308.29 L534.22,1307.72 L538.35,1307.89 L542.48,1307.27 L546.61,1311.19 L550.74,1305.25 L554.87,1310.71 L559,1307.02 L563.13,1310.83 L567.26,1305.51 L571.39,1307.48 L575.52,1304.82 L579.65,1309.25 L583.78,1310.26 L587.91,1309.33 L592.04,1310.29 L596.17,1310.05' fill='none' stroke='#ffee00' stroke-width='3.4' stroke-linejoin='round' stroke-linecap='round'/>
<path d='M101.4,1263.38 L105.53,1263.2 L109.66,1263.5 L113.79,1262.34 L117.92,1263.83 L122.05,1264.22 L126.18,1262.33 L130.31,1265.46 L134.44,1264.35 L138.57,1265.35 L142.7,1264.6 L146.83,1266.43 L150.96,1263.71 L155.09,1260.75 L159.22,1265.83 L163.35,1262.32 L167.48,1263.93 L171.61,1263.2 L175.74,1262.87 L179.87,1264.47 L184,1263.39 L188.13,1264.89 L192.26,1260.12 L196.39,1262.91 L200.52,1262.36 L204.65,1264.17 L208.78,1262.93 L212.91,1261.95 L217.04,1262.14 L221.17,1260.91 L225.3,1259.81 L229.43,1254.32 L233.56,1255.71 L237.69,1258.01 L241.82,1260.12 L245.95,1260.06 L250.08,1262.96 L254.21,1254.81 L258.34,1261.53 L262.47,1260.19 L266.6,1260.42 L270.73,1261.58 L274.86,1261.93 L278.99,1257.38 L283.12,1256.12 L287.25,1255.56 L291.38,1253 L295.51,1243.8 L299.64,1226.09 L303.77,1202.8 L307.9,1198.98 L312.03,1226.16 L316.16,1244.28 L320.29,1252.72 L324.42,1256.45 L328.55,1255.8 L331.44,1249.96 L331.94,1248.54 L332.43,1246.65 L332.93,1244.04 L333.42,1240.27 L333.92,1234.5 L334.41,1224.87 L334.91,1206.56 L335.41,1162.76 L335.9,986.86 L336.4,920 M363.78,920 L363.78,1220.16 L364.27,1232.01 L364.77,1235.5 L365.27,1237.22 L365.76,1238.29 L366.26,1239.04 L366.75,1239.62 L367.25,1240.07 L367.74,1240.44 L368.2,1240.71 L372.33,1240.36 L376.46,1238.35 L380.59,1233.87 L384.72,1221.8 L388.85,1200.52 L392.98,1167.47 L397.11,1183.03 L401.24,1216.77 L405.37,1234.11 L409.5,1244.71 L413.63,1247.27 L417.76,1249.45 L421.89,1250.27 L426.02,1253.06 L430.15,1255.47 L434.28,1253.76 L438.41,1252.46 L442.54,1255.5 L446.67,1252.95 L450.8,1255.73 L454.93,1254.61 L459.06,1251.61 L463.19,1249.99 L467.32,1247.3 L471.45,1245 L475.58,1247.63 L479.71,1252.86 L483.84,1253.98 L487.97,1256.49 L492.1,1256.75 L496.23,1257.83 L500.36,1259.62 L504.49,1253.56 L508.62,1255.99 L512.75,1259.89 L516.88,1260.81 L521.01,1258.32 L525.14,1260.91 L529.27,1255.53 L533.4,1260.22 L537.53,1257.42 L541.66,1258.87 L545.79,1256.5 L549.92,1257.56 L554.05,1260.27 L558.18,1259.25 L562.31,1260.19 L566.44,1262.03 L570.57,1256.3 L574.7,1257.67 L578.83,1259.71 L582.96,1258.32 L587.09,1261.73 L591.22,1257.44 L595.35,1259.04' fill='none' stroke='#f0901e' stroke-width='3.4' stroke-linejoin='round' stroke-linecap='round'/>
<path d='M101.4,1216.84 L105.53,1219.08 L109.66,1213.43 L113.79,1217.45 L117.92,1214.97 L122.05,1216.84 L126.18,1217.37 L130.31,1212.38 L134.44,1216.36 L138.57,1213.94 L142.7,1215.95 L146.83,1216.81 L150.96,1215.41 L155.09,1215.2 L159.22,1214.9 L163.35,1217.1 L167.48,1214.1 L171.61,1213.11 L175.74,1213.46 L179.87,1213.61 L184,1216.15 L188.13,1213.6 L192.26,1213.35 L196.39,1213.97 L200.52,1212.09 L204.65,1215.74 L208.78,1212.72 L212.91,1213.72 L217.04,1214.92 L221.17,1216.63 L225.3,1211.05 L229.43,1211.8 L233.56,1206.76 L237.69,1205.47 L241.82,1199.19 L245.95,1200.45 L250.08,1204.78 L254.21,1209.26 L258.34,1208.69 L262.47,1210.44 L266.6,1212.41 L270.73,1210.77 L274.86,1213.43 L278.99,1214 L283.12,1210.83 L287.25,1208.52 L291.38,1207.15 L295.51,1204.98 L299.64,1199.28 L303.77,1187.66 L307.9,1172.27 L312.03,1151.85 L316.16,1164.59 L320.29,1185.5 L324.42,1197.24 L328.55,1199.93 L330.2,1197.99 L330.7,1196.79 L331.19,1195.1 L331.69,1192.68 L332.18,1189.08 L332.68,1183.47 L333.18,1173.99 L333.67,1155.82 L334.17,1112.14 L334.66,936.36 L335.16,920 M362.54,920 L362.54,1185.22 L363.04,1196.53 L363.53,1199.53 L364.03,1200.78 L364.52,1201.4 L365.02,1201.73 L365.51,1201.9 L366.01,1201.97 L366.5,1201.96 L366.96,1201.9 L371.09,1202.19 L375.22,1194.07 L379.35,1184.21 L383.48,1163.41 L387.61,1128.35 L391.74,1124.89 L395.87,1161.94 L400,1187.84 L404.13,1199.62 L408.26,1200.14 L412.39,1207.06 L416.52,1205.48 L420.65,1206.96 L424.78,1209.53 L428.91,1208.31 L433.04,1210.78 L437.17,1209.87 L441.3,1208.28 L445.43,1206.06 L449.56,1201.53 L453.69,1196.97 L457.82,1192.56 L461.95,1196.17 L466.08,1205.72 L470.21,1208.85 L474.34,1208.87 L478.47,1210.65 L482.6,1211.58 L486.73,1211.61 L490.86,1211.98 L494.99,1213.38 L499.12,1210.69 L503.25,1211.84 L507.38,1215.48 L511.51,1213.33 L515.64,1211.57 L519.77,1212.31 L523.9,1215.28 L528.03,1212.23 L532.16,1213.43 L536.29,1212.27 L540.42,1213.67 L544.55,1212.04 L548.68,1212.01 L552.81,1214.57 L556.94,1212.88 L561.07,1210.89 L565.2,1212.51 L569.33,1216.81 L573.46,1213.08 L577.59,1215.83 L581.72,1215.46 L585.85,1212.59 L589.98,1213.97 L594.11,1213.64' fill='none' stroke='#ff0000' stroke-width='3.4' stroke-linejoin='round' stroke-linecap='round'/>
<path d='M101.4,1166.4 L105.53,1166.36 L109.66,1167.43 L113.79,1169.52 L117.92,1167.02 L122.05,1168.73 L126.18,1166.41 L130.31,1164.35 L134.44,1167.4 L138.57,1168.8 L142.7,1167.76 L146.83,1165.88 L150.96,1165.32 L155.09,1165.85 L159.22,1164.99 L163.35,1164.05 L167.48,1168.67 L171.61,1166.34 L175.74,1165.33 L179.87,1165.45 L184,1165.91 L188.13,1165.76 L192.26,1168.39 L196.39,1164.62 L200.52,1166.38 L204.65,1163.73 L208.78,1165.63 L212.91,1165.66 L217.04,1162.27 L221.17,1165.42 L225.3,1163.67 L229.43,1164.47 L233.56,1161.18 L237.69,1162.27 L241.82,1159.74 L245.95,1153.54 L250.08,1148.1 L254.21,1152.63 L258.34,1157.41 L262.47,1159.27 L266.6,1161.61 L270.73,1159.52 L274.86,1160.73 L278.99,1162.83 L283.12,1163.07 L287.25,1161.69 L291.38,1162.43 L295.51,1159.68 L299.64,1154.79 L303.77,1150.58 L307.9,1141.1 L312.03,1122.1 L316.16,1118.06 L320.29,1133.23 L324.42,1146.63 L328.55,1148.72 L329.38,1147.7 L329.87,1146.64 L330.37,1145.06 L330.86,1142.75 L331.36,1139.24 L331.85,1133.72 L332.35,1124.31 L332.85,1106.21 L333.34,1062.6 L333.84,920 M362.13,920 L362.13,1135.19 L362.62,1146.42 L363.12,1149.32 L363.61,1150.48 L364.11,1151 L364.6,1151.22 L365.1,1151.27 L365.6,1151.21 L366.09,1151.05 L366.55,1150.85 L370.68,1146.72 L374.81,1137.77 L378.94,1121 L383.07,1086.15 L387.2,1090.56 L391.33,1119.53 L395.46,1137.4 L399.59,1150.01 L403.72,1156.39 L407.85,1157.87 L411.98,1158.13 L416.11,1162.53 L420.24,1158.25 L424.37,1159.12 L428.5,1158.77 L432.63,1162.26 L436.76,1159.63 L440.89,1156.91 L445.02,1150.21 L449.15,1143.85 L453.28,1149.04 L457.41,1154.67 L461.54,1156.05 L465.67,1162.96 L469.8,1163.4 L473.93,1165.42 L478.06,1161.4 L482.19,1161.69 L486.32,1163.71 L490.45,1165.79 L494.58,1165.63 L498.71,1165.41 L502.84,1164.08 L506.97,1165.44 L511.1,1168.46 L515.23,1162.89 L519.36,1163.09 L523.49,1162.07 L527.62,1162.37 L531.75,1166.11 L535.88,1165.11 L540.01,1165.39 L544.14,1167.58 L548.27,1164.12 L552.4,1162 L556.53,1161.43 L560.66,1165.04 L564.79,1163.94 L568.92,1168.91 L573.05,1165.09 L577.18,1163.44 L581.31,1164.19 L585.44,1163.09 L589.57,1164.63 L593.7,1165.46' fill='none' stroke='#f20000' stroke-width='3.4' stroke-linejoin='round' stroke-linecap='round'/>
<path d='M101.4,1118.1 L105.53,1118.74 L109.66,1118.96 L113.79,1120.34 L117.92,1116.27 L122.05,1117.3 L126.18,1116.19 L130.31,1118.5 L134.44,1118.27 L138.57,1120.45 L142.7,1118.74 L146.83,1115.77 L150.96,1119.57 L155.09,1119.97 L159.22,1119.51 L163.35,1119.63 L167.48,1118.15 L171.61,1117.98 L175.74,1117.88 L179.87,1115.76 L184,1120.88 L188.13,1117.96 L192.26,1117.27 L196.39,1117.94 L200.52,1117.78 L204.65,1116.96 L208.78,1117.84 L212.91,1119.94 L217.04,1118.52 L221.17,1118.24 L225.3,1120.14 L229.43,1119.1 L233.56,1118.84 L237.69,1115.9 L241.82,1116.14 L245.95,1112.26 L250.08,1110.21 L254.21,1110.07 L258.34,1102.23 L262.47,1103.77 L266.6,1105.34 L270.73,1111.59 L274.86,1111.57 L278.99,1115.42 L283.12,1114.18 L287.25,1114.7 L291.38,1117.63 L295.51,1113.64 L299.64,1115.23 L303.77,1113.53 L307.9,1103.01 L312.03,1099.88 L316.16,1097 L320.29,1105.2 L324.42,1108.93 L328.55,1104.74 L329.05,1103.4 L329.54,1101.57 L330.04,1099.02 L330.53,1095.29 L331.03,1089.56 L331.52,1079.96 L332.02,1061.67 L332.51,1017.89 L333.01,920 M362.95,920 L362.95,1079.27 L363.45,1089.87 L363.94,1092.09 L364.44,1092.5 L364.94,1092.21 L365.43,1091.54 L365.93,1090.61 L366.42,1089.48 L366.92,1088.16 L367.37,1086.8 L371.5,1064.97 L375.63,1027.65 L379.76,1018.15 L383.89,1058.51 L388.02,1083.45 L392.15,1096.5 L396.28,1103.42 L400.41,1109.54 L404.54,1112.03 L408.67,1108.98 L412.8,1108.22 L416.93,1108.88 L421.06,1112.92 L425.19,1111.92 L429.32,1110.4 L433.45,1101.87 L437.58,1099.31 L441.71,1102.22 L445.84,1107.8 L449.97,1107.82 L454.1,1113.34 L458.23,1115.78 L462.36,1116.38 L466.49,1115.9 L470.62,1115.75 L474.75,1116.09 L478.88,1118.35 L483.01,1117.1 L487.14,1116.76 L491.27,1116.8 L495.4,1116.23 L499.53,1115.65 L503.66,1115.6 L507.79,1117.03 L511.92,1117.12 L516.05,1117.08 L520.18,1117.5 L524.31,1117.97 L528.44,1116.38 L532.57,1114.43 L536.7,1116.41 L540.83,1118.76 L544.96,1116.3 L549.09,1115.56 L553.22,1114.21 L557.35,1119.32 L561.48,1118.12 L565.61,1116.21 L569.74,1120.59 L573.87,1116.09 L578,1119.81 L582.13,1117.24 L586.26,1118.12 L590.39,1117.35 L594.52,1117.89' fill='none' stroke='#e80000' stroke-width='3.4' stroke-linejoin='round' stroke-linecap='round'/>
<path d='M101.4,1073.29 L105.53,1071.62 L109.66,1074.26 L113.79,1073.44 L117.92,1073.59 L122.05,1072.49 L126.18,1070.77 L130.31,1071.98 L134.44,1072.8 L138.57,1073.97 L142.7,1071.61 L146.83,1075 L150.96,1070.6 L155.09,1070.75 L159.22,1072.04 L163.35,1071.2 L167.48,1073.67 L171.61,1070.72 L175.74,1071.4 L179.87,1071.57 L184,1071.03 L188.13,1075.62 L192.26,1072.87 L196.39,1068.73 L200.52,1072.16 L204.65,1072.98 L208.78,1076.57 L212.91,1069.81 L217.04,1072.49 L221.17,1070.07 L225.3,1071.27 L229.43,1071.52 L233.56,1072.44 L237.69,1074.42 L241.82,1073.16 L245.95,1071.92 L250.08,1070.81 L254.21,1068.5 L258.34,1070.68 L262.47,1068.88 L266.6,1065.57 L270.73,1062.46 L274.86,1060.85 L278.99,1063.12 L283.12,1066.71 L287.25,1068.36 L291.38,1068.67 L295.51,1073.87 L299.64,1073.54 L303.77,1069.21 L307.9,1070.66 L312.03,1073.32 L316.16,1074.35 L320.29,1069.73 L324.42,1065.92 L327.72,1063.48 L328.22,1061.93 L328.72,1059.9 L329.21,1057.16 L329.71,1053.27 L330.2,1047.39 L330.7,1037.65 L331.19,1019.24 L331.69,975.34 L332.18,920 M365.43,920 L365.43,1036.12 L365.93,1046.98 L366.42,1049.46 L366.92,1050.13 L367.41,1050.11 L367.91,1049.72 L368.4,1049.11 L368.9,1048.32 L369.4,1047.4 L369.85,1046.47 L373.98,1042.41 L378.11,1047.16 L382.24,1055.71 L386.37,1061.72 L390.5,1064.24 L394.63,1066.45 L398.76,1065.23 L402.89,1064.4 L407.02,1065.97 L411.15,1066.29 L415.28,1067.3 L419.41,1063.95 L423.54,1062.34 L427.67,1053 L431.8,1049.7 L435.93,1052.94 L440.06,1062.32 L444.19,1062.75 L448.32,1066.59 L452.45,1069.41 L456.58,1068.6 L460.71,1066.8 L464.84,1069.83 L468.97,1068.26 L473.1,1066.53 L477.23,1068.28 L481.36,1068.7 L485.49,1067.66 L489.62,1071.11 L493.75,1072.24 L497.88,1070.63 L502.01,1070.82 L506.14,1069.12 L510.27,1071.08 L514.4,1071.47 L518.53,1070.81 L522.66,1070.61 L526.79,1069.83 L530.92,1068.42 L535.05,1069.69 L539.18,1069.48 L543.31,1071.63 L547.44,1071.89 L551.57,1067.97 L555.7,1066.45 L559.83,1075.12 L563.96,1070.6 L568.09,1070.38 L572.22,1069.82 L576.35,1070.09 L580.48,1069.5 L584.61,1070.57 L588.74,1068.45 L592.87,1070.08 L597,1069.23' fill='none' stroke='#c20000' stroke-width='3.4' stroke-linejoin='round' stroke-linecap='round'/>
<path d='M101.4,1035.23 L105.53,1034.68 L109.66,1037.43 L113.79,1036.69 L117.92,1037.51 L122.05,1036.26 L126.18,1035.76 L130.31,1034.79 L134.44,1038.75 L138.57,1035.82 L142.7,1035.84 L146.83,1037.07 L150.96,1034.9 L155.09,1039.06 L159.22,1038.89 L163.35,1036.07 L167.48,1037.43 L171.61,1038.25 L175.74,1035.99 L179.87,1038.88 L184,1035.8 L188.13,1037.01 L192.26,1037.39 L196.39,1039.06 L200.52,1035.87 L204.65,1036.57 L208.78,1036.57 L212.91,1036.63 L217.04,1034.46 L221.17,1035.59 L225.3,1031.49 L229.43,1030.57 L233.56,1035.1 L237.69,1031.11 L241.82,1033.66 L245.95,1033.74 L250.08,1030.2 L254.21,1029.89 L258.34,1030.72 L262.47,1028.93 L266.6,1029.35 L270.73,1026.97 L274.86,1027.74 L278.99,1026.06 L283.12,1029.46 L287.25,1030.44 L291.38,1028.32 L295.51,1026.37 L299.64,1026.71 L303.77,1028.82 L307.9,1027.01 L312.03,1031.38 L316.16,1029.47 L320.29,1031.17 L324.42,1034.94 L326.07,1031.92 L326.57,1029.79 L327.06,1027 L327.56,1023.41 L328.05,1018.66 L328.55,1011.94 L329.05,1001.44 L329.54,982.35 L330.04,937.85 L330.53,920 M369.15,920 L369.15,984.59 L369.64,995.95 L370.14,999.05 L370.63,1000.47 L371.13,1001.31 L371.63,1001.91 L372.12,1002.4 L372.62,1002.83 L373.11,1003.24 L373.57,1003.61 L377.7,1006.87 L381.83,1010.29 L385.96,1016.26 L390.09,1018.28 L394.22,1019.39 L398.35,1024.72 L402.48,1024.27 L406.61,1026.49 L410.74,1029.37 L414.87,1028.49 L419,1029.02 L423.13,1033.26 L427.26,1030.35 L431.39,1031.68 L435.52,1031.25 L439.65,1032.29 L443.78,1029.29 L447.91,1031.59 L452.04,1033.45 L456.17,1030.73 L460.3,1032.74 L464.43,1032.78 L468.56,1031.02 L472.69,1030.74 L476.82,1031.49 L480.95,1031.62 L485.08,1033.46 L489.21,1034.85 L493.34,1033.17 L497.47,1031.46 L501.6,1032.53 L505.73,1031.18 L509.86,1033.13 L513.99,1032.51 L518.12,1033.89 L522.25,1031.18 L526.38,1035.43 L530.51,1031.67 L534.64,1029.97 L538.77,1034.61 L542.9,1031.52 L547.03,1033.74 L551.16,1032.07 L555.29,1034.12 L559.42,1036.06 L563.55,1031.23 L567.68,1031.36 L571.81,1032.82 L575.94,1031.98 L580.07,1034.19 L584.2,1030.79 L588.33,1031.2 L592.46,1032.89 L596.59,1030.44' fill='none' stroke='#8c0000' stroke-width='3.4' stroke-linejoin='round' stroke-linecap='round'/>
<path d='M199.5,1512.3 L240.6,1465.5 L264.4,1402.6 L279.5,1357.8 L291.2,1298.4 L302.6,1249.8 L305.8,1190.8 L312.3,1144.6 L315,1108.2 L315,1091.3' fill='none' stroke='#4f80c8' stroke-width='5.4' stroke-dasharray='5.4,6.2' stroke-linecap='butt' stroke-linejoin='round'/>
<path d='M495.9,1509.4 L458.4,1458.8 L434.9,1393.6 L418.6,1326.7 L407.2,1275.4 L399.4,1240.5 L393.8,1168.3 L389.7,1117.4 L385,1078.3 L378.4,1013.1' fill='none' stroke='#4f80c8' stroke-width='5.4' stroke-dasharray='5.4,6.2' stroke-linecap='butt' stroke-linejoin='round'/>
<path d='M195.5,1349 L217.9,1300.9 L231.8,1253 L243.9,1196.1 L250.7,1146 L260.8,1097.5 L273.8,1057.5' fill='none' stroke='#4f80c8' stroke-width='5.4' stroke-dasharray='5.4,6.2' stroke-linecap='butt' stroke-linejoin='round'/>
<path d='M502.5,1343 L484.5,1290 L470.5,1245 L456.6,1190.8 L450,1143.7 L437.4,1096.6 L431.2,1048.6' fill='none' stroke='#4f80c8' stroke-width='5.4' stroke-dasharray='5.4,6.2' stroke-linecap='butt' stroke-linejoin='round'/>
<rect x='192.5' y='1505.3' width='14' height='14' fill='#1f66e5'/>
<rect x='233.6' y='1458.5' width='14' height='14' fill='#1f66e5'/>
<rect x='257.4' y='1395.6' width='14' height='14' fill='#1f66e5'/>
<rect x='272.5' y='1350.8' width='14' height='14' fill='#1f66e5'/>
<rect x='284.2' y='1291.4' width='14' height='14' fill='#1f66e5'/>
<rect x='295.6' y='1242.8' width='14' height='14' fill='#1f66e5'/>
<rect x='298.8' y='1183.8' width='14' height='14' fill='#1f66e5'/>
<rect x='305.3' y='1137.6' width='14' height='14' fill='#1f66e5'/>
<rect x='308' y='1101.2' width='14' height='14' fill='#1f66e5'/>
<rect x='308' y='1084.3' width='14' height='14' fill='#1f66e5'/>
<rect x='488.9' y='1502.4' width='14' height='14' fill='#1f66e5'/>
<rect x='451.4' y='1451.8' width='14' height='14' fill='#1f66e5'/>
<rect x='427.9' y='1386.6' width='14' height='14' fill='#1f66e5'/>
<rect x='411.6' y='1319.7' width='14' height='14' fill='#1f66e5'/>
<rect x='400.2' y='1268.4' width='14' height='14' fill='#1f66e5'/>
<rect x='392.4' y='1233.5' width='14' height='14' fill='#1f66e5'/>
<rect x='386.8' y='1161.3' width='14' height='14' fill='#1f66e5'/>
<rect x='382.7' y='1110.4' width='14' height='14' fill='#1f66e5'/>
<rect x='378' y='1071.3' width='14' height='14' fill='#1f66e5'/>
<rect x='371.4' y='1006.1' width='14' height='14' fill='#1f66e5'/>
<rect x='188.5' y='1342' width='14' height='14' fill='#1f66e5'/>
<rect x='210.9' y='1293.9' width='14' height='14' fill='#1f66e5'/>
<rect x='224.8' y='1246' width='14' height='14' fill='#1f66e5'/>
<rect x='236.9' y='1189.1' width='14' height='14' fill='#1f66e5'/>
<rect x='243.7' y='1139' width='14' height='14' fill='#1f66e5'/>
<rect x='253.8' y='1090.5' width='14' height='14' fill='#1f66e5'/>
<rect x='266.8' y='1050.5' width='14' height='14' fill='#1f66e5'/>
<rect x='495.5' y='1336' width='14' height='14' fill='#1f66e5'/>
<rect x='477.5' y='1283' width='14' height='14' fill='#1f66e5'/>
<rect x='463.5' y='1238' width='14' height='14' fill='#1f66e5'/>
<rect x='449.6' y='1183.8' width='14' height='14' fill='#1f66e5'/>
<rect x='443' y='1136.7' width='14' height='14' fill='#1f66e5'/>
<rect x='430.4' y='1089.6' width='14' height='14' fill='#1f66e5'/>
<rect x='424.2' y='1041.6' width='14' height='14' fill='#1f66e5'/>
</g>
<rect x='103.5' y='946' width='271.5' height='46' fill='#fff'/>
<rect x='101.4' y='930.5' width='495.6' height='652.2' fill='none' stroke='#000' stroke-width='3.6'/>
<text x='77.11' y='1620.3' font-family='Liberation Sans' font-size='33.5' font-weight='bold' fill='#000'>-30</text>
<line x1='184' y1='1582.7' x2='184' y2='1570.7' stroke='#000' stroke-width='3.0' stroke-linecap='round'/>
<text x='159.71' y='1620.3' font-family='Liberation Sans' font-size='33.5' font-weight='bold' fill='#000'>-20</text>
<line x1='266.6' y1='1582.7' x2='266.6' y2='1570.7' stroke='#000' stroke-width='3.0' stroke-linecap='round'/>
<text x='242.31' y='1620.3' font-family='Liberation Sans' font-size='33.5' font-weight='bold' fill='#000'>-10</text>
<line x1='349.2' y1='1582.7' x2='349.2' y2='1570.7' stroke='#000' stroke-width='3.0' stroke-linecap='round'/>
<text x='339.82' y='1620.3' font-family='Liberation Sans' font-size='33.5' font-weight='bold' fill='#000'>0</text>
<line x1='431.8' y1='1582.7' x2='431.8' y2='1570.7' stroke='#000' stroke-width='3.0' stroke-linecap='round'/>
<text x='412.87' y='1620.3' font-family='Liberation Sans' font-size='33.5' font-weight='bold' fill='#000'>10</text>
<line x1='514.4' y1='1582.7' x2='514.4' y2='1570.7' stroke='#000' stroke-width='3.0' stroke-linecap='round'/>
<text x='495.97' y='1620.3' font-family='Liberation Sans' font-size='33.5' font-weight='bold' fill='#000'>20</text>
<text x='578.74' y='1620.3' font-family='Liberation Sans' font-size='33.5' font-weight='bold' fill='#000'>30</text>
<line x1='142.7' y1='1582.7' x2='142.7' y2='1576.2' stroke='#000' stroke-width='3.0' stroke-linecap='round'/>
<line x1='225.3' y1='1582.7' x2='225.3' y2='1576.2' stroke='#000' stroke-width='3.0' stroke-linecap='round'/>
<line x1='307.9' y1='1582.7' x2='307.9' y2='1576.2' stroke='#000' stroke-width='3.0' stroke-linecap='round'/>
<line x1='390.5' y1='1582.7' x2='390.5' y2='1576.2' stroke='#000' stroke-width='3.0' stroke-linecap='round'/>
<line x1='473.1' y1='1582.7' x2='473.1' y2='1576.2' stroke='#000' stroke-width='3.0' stroke-linecap='round'/>
<line x1='555.7' y1='1582.7' x2='555.7' y2='1576.2' stroke='#000' stroke-width='3.0' stroke-linecap='round'/>
<line x1='101.4' y1='1572.1' x2='113.4' y2='1572.1' stroke='#000' stroke-width='3.0' stroke-linecap='round'/>
<text x='71.18' y='1581.7' font-family='Liberation Sans' font-size='33.5' font-weight='bold' fill='#000'>0</text>
<line x1='101.4' y1='1518.63' x2='108.2' y2='1518.63' stroke='#000' stroke-width='3.0' stroke-linecap='round'/>
<line x1='101.4' y1='1465.17' x2='113.4' y2='1465.17' stroke='#000' stroke-width='3.0' stroke-linecap='round'/>
<text x='71.18' y='1474.77' font-family='Liberation Sans' font-size='33.5' font-weight='bold' fill='#000'>2</text>
<line x1='101.4' y1='1411.7' x2='108.2' y2='1411.7' stroke='#000' stroke-width='3.0' stroke-linecap='round'/>
<line x1='101.4' y1='1358.23' x2='113.4' y2='1358.23' stroke='#000' stroke-width='3.0' stroke-linecap='round'/>
<text x='70.17' y='1367.83' font-family='Liberation Sans' font-size='33.5' font-weight='bold' fill='#000'>4</text>
<line x1='101.4' y1='1304.77' x2='108.2' y2='1304.77' stroke='#000' stroke-width='3.0' stroke-linecap='round'/>
<line x1='101.4' y1='1251.3' x2='113.4' y2='1251.3' stroke='#000' stroke-width='3.0' stroke-linecap='round'/>
<text x='71.18' y='1260.9' font-family='Liberation Sans' font-size='33.5' font-weight='bold' fill='#000'>6</text>
<line x1='101.4' y1='1197.83' x2='108.2' y2='1197.83' stroke='#000' stroke-width='3.0' stroke-linecap='round'/>
<line x1='101.4' y1='1144.37' x2='113.4' y2='1144.37' stroke='#000' stroke-width='3.0' stroke-linecap='round'/>
<text x='70.84' y='1153.97' font-family='Liberation Sans' font-size='33.5' font-weight='bold' fill='#000'>8</text>
<line x1='101.4' y1='1090.9' x2='108.2' y2='1090.9' stroke='#000' stroke-width='3.0' stroke-linecap='round'/>
<line x1='101.4' y1='1037.43' x2='113.4' y2='1037.43' stroke='#000' stroke-width='3.0' stroke-linecap='round'/>
<text x='52.75' y='1047.03' font-family='Liberation Sans' font-size='33.5' font-weight='bold' fill='#000'>10</text>
<line x1='101.4' y1='983.97' x2='108.2' y2='983.97' stroke='#000' stroke-width='3.0' stroke-linecap='round'/>
<text x='52.75' y='940.1' font-family='Liberation Sans' font-size='33.5' font-weight='bold' fill='#000'>12</text>
<text transform='translate(43.4,1469.08) rotate(-90)' x='0' y='0' font-family='Liberation Sans' font-size='45.47' font-weight='bold' fill='#000'>Raman Intensity (cps)</text>
<text x='148.5' y='1670.9' font-family='Liberation Sans' font-size='45.73' font-weight='bold' fill='#000'>Raman Shift (cm</text>
<text x='509.09' y='1649.1' font-family='Liberation Serif' font-size='26.15' font-weight='normal' fill='#000'>−1</text>
<text x='540.4' y='1670.9' font-family='Liberation Sans' font-size='46' font-weight='bold' fill='#000'>)</text>
<text x='114.32' y='980.5' font-family='Liberation Sans' font-size='32.78' font-weight='bold' fill='#000'>532 nm (2.33 eV)</text>
<text x='471.58' y='975.3' font-family='Liberation Sans' font-size='40.55' font-weight='bold' fill='#000'>Cross</text>
<text x='122.14' y='1024.6' font-family='Liberation Sans' font-size='26.5' font-weight='bold' fill='#000'>Bulk</text>
<text x='122.36' y='1064.3' font-family='Liberation Sans' font-size='27.3' font-weight='bold' fill='#000'>14L</text>
<text x='122.36' y='1108.7' font-family='Liberation Sans' font-size='27.3' font-weight='bold' fill='#000'>13L</text>
<text x='122.36' y='1151.3' font-family='Liberation Sans' font-size='27.3' font-weight='bold' fill='#000'>11L</text>
<text x='122.36' y='1199.7' font-family='Liberation Sans' font-size='27.3' font-weight='bold' fill='#000'>10L</text>
<text x='123.18' y='1248.5' font-family='Liberation Sans' font-size='27.3' font-weight='bold' fill='#000'>9L</text>
<text x='122.91' y='1297' font-family='Liberation Sans' font-size='27.3' font-weight='bold' fill='#000'>7L</text>
<text x='122.91' y='1342' font-family='Liberation Sans' font-size='27.3' font-weight='bold' fill='#000'>6L</text>
<text x='123.18' y='1391' font-family='Liberation Sans' font-size='27.3' font-weight='bold' fill='#000'>5L</text>
<text x='123.73' y='1436' font-family='Liberation Sans' font-size='27.3' font-weight='bold' fill='#000'>4L</text>
<text x='123.45' y='1481' font-family='Liberation Sans' font-size='27.3' font-weight='bold' fill='#000'>3L</text>
<text x='123.18' y='1522' font-family='Liberation Sans' font-size='27.3' font-weight='bold' fill='#000'>2L</text>
<text x='122.36' y='1559.2' font-family='Liberation Sans' font-size='27.3' font-weight='bold' fill='#000'>1L</text>
<text x='166.7' y='1393.2' font-family='Liberation Sans' font-size='33.48' font-weight='bold' fill='#1a56b4'>S2</text>
<text x='515.73' y='1397.9' font-family='Liberation Sans' font-size='32.43' font-weight='bold' fill='#1a56b4'>S2</text>
<text x='179.82' y='1555.6' font-family='Liberation Sans' font-size='29.4' font-weight='bold' fill='#1a56b4'>S1</text>
<text x='498.61' y='1555.6' font-family='Liberation Sans' font-size='29.83' font-weight='bold' fill='#1a56b4'>S1</text>
<text x='650.36' y='902.1' font-family='Liberation Sans' font-size='47.36' font-weight='normal' fill='#000'>(d)</text>
<g clip-path='url(#clipD)'>
<path d='M748.7,1574.29 L752.83,1568.55 L756.97,1571.29 L761.1,1571.61 L765.24,1572.07 L769.37,1569.99 L773.5,1571.98 L777.64,1569.63 L781.77,1568.02 L785.91,1569.23 L790.04,1571.9 L794.18,1570.16 L798.31,1568.45 L802.44,1570.21 L806.58,1569.56 L810.71,1568.27 L814.85,1566.76 L818.98,1568.32 L823.12,1568.02 L827.25,1567.66 L831.38,1567.87 L835.52,1564.96 L839.65,1567.1 L843.79,1564.22 L847.92,1563.9 L852.05,1564.87 L856.19,1563.45 L860.32,1562.69 L864.46,1562.27 L868.59,1557.32 L872.73,1562.93 L876.86,1558.29 L880.99,1560.12 L885.13,1555.58 L889.26,1551.67 L893.4,1555.25 L897.53,1552.05 L901.66,1551.02 L905.8,1546.13 L909.93,1545.49 L914.07,1544.5 L918.2,1539.04 L922.34,1537.23 L926.47,1531.08 L930.6,1525.26 L934.74,1515.93 L938.87,1510.72 L943.01,1491.2 L947.14,1462.89 L951.27,1401.75 L954.58,1290.96 L955.08,1259.46 L955.57,1220.1 L956.07,1169.49 L956.57,1102.02 L957.06,1007.56 L957.56,920 M1039.7,920 L1039.7,1049.62 L1040.2,1152.38 L1040.7,1221.36 L1041.19,1270.85 L1041.69,1308.1 L1042.18,1337.14 L1042.64,1358.66 L1046.77,1453.01 L1050.91,1490.44 L1055.04,1512.31 L1059.18,1525.26 L1063.31,1529.27 L1067.44,1539.65 L1071.58,1539.02 L1075.71,1543.75 L1079.85,1548.06 L1083.98,1550.97 L1088.12,1546.78 L1092.25,1552.74 L1096.38,1552.42 L1100.52,1552.24 L1104.65,1556.78 L1108.79,1555.3 L1112.92,1556.93 L1117.05,1553.69 L1121.19,1557.1 L1125.32,1555.56 L1129.46,1558.3 L1133.59,1558.04 L1137.73,1559.13 L1141.86,1557.69 L1145.99,1555.96 L1150.13,1561.21 L1154.26,1558.58 L1158.4,1557.63 L1162.53,1562.9 L1166.66,1560.7 L1170.8,1561.2 L1174.93,1562.08 L1179.07,1559.75 L1183.2,1560.17 L1187.34,1562.61 L1191.47,1563.4 L1195.6,1565.3 L1199.74,1556.87 L1203.87,1560.02 L1208.01,1559.55 L1212.14,1562.97 L1216.27,1561.27 L1220.41,1561.39 L1224.54,1561.3 L1228.68,1560.71 L1232.81,1563.37 L1236.95,1560 L1241.08,1561.82' fill='none' stroke='#7a00b8' stroke-width='3.4' stroke-linejoin='round' stroke-linecap='round'/>
<path d='M968.5,920 L971,1240 L973.5,920' fill='none' stroke='#7a00b8' stroke-width='3.2' stroke-linejoin='round' stroke-linecap='round' />
<path d='M1018.5,920 L1021,1225 L1023.5,920' fill='none' stroke='#7a00b8' stroke-width='3.2' stroke-linejoin='round' stroke-linecap='round' />
<path d='M748.7,1515.82 L752.83,1515.24 L756.97,1517.1 L761.1,1519.91 L765.24,1515.48 L769.37,1517.55 L773.5,1515.45 L777.64,1513.84 L781.77,1517.06 L785.91,1514.2 L790.04,1514.27 L794.18,1514.43 L798.31,1513.86 L802.44,1512.18 L806.58,1510.42 L810.71,1513.32 L814.85,1507.79 L818.98,1512.53 L823.12,1509.69 L827.25,1511.36 L831.38,1509.74 L835.52,1508.34 L839.65,1507.63 L843.79,1503.58 L847.92,1499 L852.05,1500.3 L856.19,1504.34 L860.32,1506.67 L864.46,1507.53 L868.59,1505.03 L872.73,1507.86 L876.86,1501.45 L880.99,1499.16 L885.13,1502.1 L889.26,1502.49 L893.4,1503.08 L897.53,1500.5 L901.66,1495.63 L905.8,1496.68 L909.93,1491.58 L914.07,1491.31 L918.2,1486.26 L922.34,1484.01 L926.47,1479.03 L930.6,1474.96 L934.74,1462.43 L938.87,1452.23 L943.01,1440.32 L947.14,1413.32 L951.27,1358.2 L954.58,1253.73 L955.08,1224.46 L955.57,1187.87 L956.07,1140.83 L956.57,1078.12 L957.06,990.32 L957.56,920 M1039.29,920 L1039.29,1004.15 L1039.79,1104.5 L1040.28,1171.85 L1040.78,1220.18 L1041.27,1256.55 L1041.77,1284.91 L1042.23,1305.92 L1046.36,1398.67 L1050.49,1438.41 L1054.63,1453.51 L1058.76,1465.89 L1062.9,1472.78 L1067.03,1479.76 L1071.16,1482.44 L1075.3,1485.27 L1079.43,1490.09 L1083.57,1490.54 L1087.7,1491.36 L1091.84,1490.26 L1095.97,1496.04 L1100.1,1494.3 L1104.24,1495.7 L1108.37,1496.18 L1112.51,1497.27 L1116.64,1499.78 L1120.78,1499.28 L1124.91,1498.38 L1129.04,1500.21 L1133.18,1497.67 L1137.31,1494.98 L1141.45,1487.87 L1145.58,1480.97 L1149.71,1491.13 L1153.85,1497.53 L1157.98,1498.36 L1162.12,1497.02 L1166.25,1499.89 L1170.38,1501.02 L1174.52,1501.6 L1178.65,1502.4 L1182.79,1504.51 L1186.92,1499.69 L1191.06,1505.76 L1195.19,1504.17 L1199.32,1503.21 L1203.46,1507.35 L1207.59,1502.21 L1211.73,1501.24 L1215.86,1500.3 L1219.99,1502.88 L1224.13,1500.58 L1228.26,1502.99 L1232.4,1503.12 L1236.53,1502.21 L1240.67,1500.15 L1244.8,1506.15' fill='none' stroke='#3c10f0' stroke-width='3.4' stroke-linejoin='round' stroke-linecap='round'/>
<path d='M966.5,920 L969,1320 L971.5,920' fill='none' stroke='#3c10f0' stroke-width='3.2' stroke-linejoin='round' stroke-linecap='round' />
<path d='M1020.5,920 L1023,1255 L1025.5,920' fill='none' stroke='#3c10f0' stroke-width='3.2' stroke-linejoin='round' stroke-linecap='round' />
<path d='M748.7,1468.89 L752.83,1469.7 L756.97,1467.53 L761.1,1471.83 L765.24,1468.57 L769.37,1467.58 L773.5,1470.99 L777.64,1465.57 L781.77,1469.98 L785.91,1467.6 L790.04,1465.73 L794.18,1465.77 L798.31,1462.61 L802.44,1463.32 L806.58,1458.05 L810.71,1455.99 L814.85,1457.61 L818.98,1459.77 L823.12,1464.03 L827.25,1461.25 L831.38,1462.69 L835.52,1462.54 L839.65,1464.88 L843.79,1463.31 L847.92,1462.82 L852.05,1463.22 L856.19,1462.57 L860.32,1458.45 L864.46,1458.23 L868.59,1458.15 L872.73,1457.24 L876.86,1454.79 L880.99,1452.41 L885.13,1441.64 L889.26,1439.71 L893.4,1444.84 L897.53,1452.27 L901.66,1447.67 L905.8,1446.61 L909.93,1446.51 L914.07,1441.29 L918.2,1441.87 L922.34,1439.79 L926.47,1439.3 L930.6,1429.2 L934.74,1425.36 L938.87,1417.1 L943.01,1404.47 L947.14,1384.86 L951.27,1350.28 L955.41,1263.1 L956.24,1228.56 L956.73,1201.69 L957.23,1168.12 L957.72,1124.95 L958.22,1067.4 L958.72,986.83 L959.21,920 M1039.29,920 L1039.29,1039.45 L1039.79,1123.75 L1040.28,1180.32 L1040.78,1220.92 L1041.27,1251.47 L1041.77,1275.29 L1042.23,1292.93 L1046.36,1374.31 L1050.49,1402.74 L1054.63,1413.23 L1058.76,1430.99 L1062.9,1430.91 L1067.03,1434.71 L1071.16,1440.52 L1075.3,1443.15 L1079.43,1448.02 L1083.57,1447.65 L1087.7,1446.39 L1091.84,1448.17 L1095.97,1448.12 L1100.1,1441.76 L1104.24,1435.23 L1108.37,1430.55 L1112.51,1439.5 L1116.64,1445.6 L1120.78,1450.77 L1124.91,1453.96 L1129.04,1450.9 L1133.18,1456.41 L1137.31,1456.74 L1141.45,1457.13 L1145.58,1455.47 L1149.71,1458.75 L1153.85,1453.5 L1157.98,1455.92 L1162.12,1453.75 L1166.25,1454.88 L1170.38,1455.87 L1174.52,1452.57 L1178.65,1449.98 L1182.79,1447.31 L1186.92,1448.43 L1191.06,1451.3 L1195.19,1455.74 L1199.32,1458.69 L1203.46,1456.15 L1207.59,1455.3 L1211.73,1457.89 L1215.86,1462.18 L1219.99,1458.89 L1224.13,1457.11 L1228.26,1459.19 L1232.4,1459.83 L1236.53,1461.2 L1240.67,1456.4 L1244.8,1458.02' fill='none' stroke='#1a7ff0' stroke-width='3.4' stroke-linejoin='round' stroke-linecap='round'/>
<path d='M966,920 L968.5,1347 L971,920' fill='none' stroke='#1a7ff0' stroke-width='3.2' stroke-linejoin='round' stroke-linecap='round' />
<path d='M1020.4,920 L1022.9,1276 L1025.4,920' fill='none' stroke='#1a7ff0' stroke-width='3.2' stroke-linejoin='round' stroke-linecap='round' />
<path d='M748.7,1426.85 L752.83,1427.3 L756.97,1426.14 L761.1,1426.81 L765.24,1425.39 L769.37,1424.65 L773.5,1425.27 L777.64,1421.63 L781.77,1424.54 L785.91,1423.87 L790.04,1419.88 L794.18,1421.81 L798.31,1420.29 L802.44,1423.89 L806.58,1424.83 L810.71,1416.99 L814.85,1420.21 L818.98,1419.45 L823.12,1420.32 L827.25,1417.23 L831.38,1415.53 L835.52,1418.51 L839.65,1414.33 L843.79,1415.82 L847.92,1410.3 L852.05,1401.78 L856.19,1401.69 L860.32,1404.12 L864.46,1407.52 L868.59,1409.49 L872.73,1411.35 L876.86,1413.22 L880.99,1407.12 L885.13,1411.24 L889.26,1408.57 L893.4,1406.47 L897.53,1405.18 L901.66,1396.68 L905.8,1389.11 L909.93,1377.78 L914.07,1369.8 L918.2,1381.23 L922.34,1386.48 L926.47,1384.41 L930.6,1384.5 L934.74,1379.4 L938.87,1367.14 L943.01,1358.37 L947.14,1340.05 L951.27,1299.26 L955.41,1211.96 L956.24,1176.25 L956.73,1148.48 L957.23,1113.76 L957.72,1069.12 L958.22,1009.59 L958.72,926.26 L959.21,920 M1039.37,920 L1039.37,965.07 L1039.87,1040.49 L1040.37,1094.61 L1040.86,1135.33 L1041.36,1167.07 L1041.81,1190.59 L1045.95,1297.31 L1050.08,1336.02 L1054.21,1355.89 L1058.35,1368.1 L1062.48,1375.54 L1066.62,1379.26 L1070.75,1379.73 L1074.89,1380.5 L1079.02,1367.74 L1083.15,1363.88 L1087.29,1379.02 L1091.42,1389.97 L1095.56,1400.49 L1099.69,1398.97 L1103.82,1400.89 L1107.96,1404.44 L1112.09,1404.5 L1116.23,1403.47 L1120.36,1402.81 L1124.5,1401.11 L1128.63,1396.36 L1132.76,1388.87 L1136.9,1388.43 L1141.03,1394.37 L1145.17,1403.81 L1149.3,1407.33 L1153.43,1409.85 L1157.57,1410.54 L1161.7,1409.96 L1165.84,1412.47 L1169.97,1414.57 L1174.11,1412.3 L1178.24,1412.19 L1182.37,1412.59 L1186.51,1411.21 L1190.64,1413.83 L1194.78,1413.57 L1198.91,1414.87 L1203.04,1417.22 L1207.18,1411.85 L1211.31,1411.18 L1215.45,1412.07 L1219.58,1418.73 L1223.72,1411.32 L1227.85,1416.52 L1231.98,1416.68 L1236.12,1415.07 L1240.25,1413.12 L1244.39,1416.18' fill='none' stroke='#00e0ee' stroke-width='3.4' stroke-linejoin='round' stroke-linecap='round'/>
<path d='M967,920 L969.5,1298 L972,920' fill='none' stroke='#00e0ee' stroke-width='3.2' stroke-linejoin='round' stroke-linecap='round' />
<path d='M1023.5,920 L1026,1250 L1028.5,920' fill='none' stroke='#00e0ee' stroke-width='3.2' stroke-linejoin='round' stroke-linecap='round' />
<path d='M748.7,1381.36 L752.83,1383.99 L756.97,1384.28 L761.1,1380.22 L765.24,1383.21 L769.37,1383.59 L773.5,1382.33 L777.64,1379.43 L781.77,1378.16 L785.91,1378.34 L790.04,1379.97 L794.18,1380.73 L798.31,1380.65 L802.44,1380.99 L806.58,1380.91 L810.71,1378.22 L814.85,1378.59 L818.98,1379.14 L823.12,1380.48 L827.25,1377.54 L831.38,1380.68 L835.52,1378.48 L839.65,1376.99 L843.79,1375.59 L847.92,1375.16 L852.05,1373.96 L856.19,1375.03 L860.32,1376.87 L864.46,1372.2 L868.59,1369.45 L872.73,1368.43 L876.86,1363.55 L880.99,1356.08 L885.13,1345.76 L889.26,1339.96 L893.4,1347.99 L897.53,1353.31 L901.66,1355.17 L905.8,1356.29 L909.93,1354.41 L914.07,1354.66 L918.2,1345.51 L922.34,1336.06 L926.47,1324.67 L930.6,1311.91 L934.74,1316.06 L938.87,1320.11 L943.01,1307.36 L947.14,1287.28 L951.27,1247.01 L955.41,1156.08 L956.24,1118.09 L956.73,1088.52 L957.23,1051.53 L957.72,1003.97 L958.22,940.52 L958.72,920 M1039.46,920 L1039.46,971.82 L1039.95,1029.73 L1040.45,1073.29 L1040.94,1107.23 L1041.4,1132.35 L1045.53,1242.76 L1049.67,1286.07 L1053.8,1302.05 L1057.94,1308.22 L1062.07,1305.2 L1066.2,1292.39 L1070.34,1306.63 L1074.47,1328.71 L1078.61,1341.29 L1082.74,1348.45 L1086.87,1350.54 L1091.01,1355.97 L1095.14,1352.62 L1099.28,1348.54 L1103.41,1342.85 L1107.55,1333 L1111.68,1332.73 L1115.81,1341.32 L1119.95,1357.61 L1124.08,1360.67 L1128.22,1366.1 L1132.35,1368.27 L1136.48,1371.69 L1140.62,1370.55 L1144.75,1372.98 L1148.89,1373.85 L1153.02,1374.51 L1157.16,1374.17 L1161.29,1372.51 L1165.42,1372.43 L1169.56,1372.41 L1173.69,1378.27 L1177.83,1373.94 L1181.96,1376.62 L1186.09,1376.59 L1190.23,1373.13 L1194.36,1375.54 L1198.5,1374.56 L1202.63,1375.22 L1206.77,1376.65 L1210.9,1378.43 L1215.03,1374.65 L1219.17,1375.53 L1223.3,1377.62 L1227.44,1378.61 L1231.57,1376.96 L1235.7,1374.87 L1239.84,1376.49 L1243.97,1377.7' fill='none' stroke='#44ee00' stroke-width='3.4' stroke-linejoin='round' stroke-linecap='round'/>
<path d='M968,920 L970.5,1260 L973,920' fill='none' stroke='#44ee00' stroke-width='3.2' stroke-linejoin='round' stroke-linecap='round' />
<path d='M1017.5,920 L1020,1230 L1022.5,920' fill='none' stroke='#44ee00' stroke-width='3.2' stroke-linejoin='round' stroke-linecap='round' />
<path d='M748.7,1344.78 L752.83,1345.29 L756.97,1341.71 L761.1,1344.73 L765.24,1340.85 L769.37,1344.54 L773.5,1340.79 L777.64,1340.39 L781.77,1343.94 L785.91,1339.4 L790.04,1338.12 L794.18,1340.88 L798.31,1338.74 L802.44,1335.95 L806.58,1341.04 L810.71,1334.04 L814.85,1338.72 L818.98,1336.26 L823.12,1337.38 L827.25,1334.83 L831.38,1333.95 L835.52,1336.03 L839.65,1334.13 L843.79,1328.57 L847.92,1335.06 L852.05,1330.1 L856.19,1334.74 L860.32,1330.7 L864.46,1327.38 L868.59,1330.54 L872.73,1327.31 L876.86,1322.89 L880.99,1320.97 L885.13,1316.87 L889.26,1309.4 L893.4,1292.16 L897.53,1273.54 L901.66,1269.97 L905.8,1284.03 L909.93,1297 L914.07,1301.95 L918.2,1304.74 L922.34,1302.43 L926.47,1296.25 L930.6,1286.31 L934.74,1269.42 L938.87,1247.36 L943.01,1234.39 L947.14,1229.54 L951.27,1191.72 L955.41,1085.07 L955.9,1057.66 L956.4,1023.28 L956.9,978.95 L957.39,920 M1039.46,920 L1039.46,945.64 L1039.95,999.16 L1040.45,1039.24 L1040.94,1070.29 L1041.4,1093.11 L1045.53,1189.81 L1049.67,1209.4 L1053.8,1209.35 L1057.94,1236.06 L1062.07,1266.66 L1066.2,1280.18 L1070.34,1290.32 L1074.47,1294.33 L1078.61,1296.84 L1082.74,1295.26 L1086.87,1275.77 L1091.01,1260.58 L1095.14,1258.24 L1099.28,1282.33 L1103.41,1295.7 L1107.55,1307.28 L1111.68,1310.18 L1115.81,1316.04 L1119.95,1320.47 L1124.08,1322.23 L1128.22,1323.03 L1132.35,1326.47 L1136.48,1323.02 L1140.62,1324.74 L1144.75,1323.33 L1148.89,1323.71 L1153.02,1320.19 L1157.16,1315.77 L1161.29,1317.49 L1165.42,1322.15 L1169.56,1323.83 L1173.69,1324.09 L1177.83,1330.18 L1181.96,1327.15 L1186.09,1327.07 L1190.23,1324.62 L1194.36,1326.79 L1198.5,1327.34 L1202.63,1328.78 L1206.77,1326.13 L1210.9,1327.04 L1215.03,1329.5 L1219.17,1329.46 L1223.3,1329.46 L1227.44,1327.21 L1231.57,1328.52 L1235.7,1329.63 L1239.84,1330.55 L1243.97,1327.73' fill='none' stroke='#aaee00' stroke-width='3.4' stroke-linejoin='round' stroke-linecap='round'/>
<path d='M963.5,920 L966,1200 L968.5,920' fill='none' stroke='#aaee00' stroke-width='3.2' stroke-linejoin='round' stroke-linecap='round' />
<path d='M1015.5,920 L1018,1190 L1020.5,920' fill='none' stroke='#aaee00' stroke-width='3.2' stroke-linejoin='round' stroke-linecap='round' />
<path d='M748.7,1315.06 L752.83,1312.63 L756.97,1313.07 L761.1,1315.44 L765.24,1313.76 L769.37,1314.96 L773.5,1310.59 L777.64,1312.63 L781.77,1313.28 L785.91,1310.62 L790.04,1313.07 L794.18,1311.51 L798.31,1314.62 L802.44,1310.95 L806.58,1311.22 L810.71,1309.48 L814.85,1307.69 L818.98,1307.26 L823.12,1310.55 L827.25,1305.68 L831.38,1309.61 L835.52,1306.69 L839.65,1307.64 L843.79,1304.85 L847.92,1299.98 L852.05,1296.26 L856.19,1300.45 L860.32,1300.39 L864.46,1299.93 L868.59,1300.23 L872.73,1299.53 L876.86,1294.02 L880.99,1292.58 L885.13,1292.3 L889.26,1289.64 L893.4,1282.28 L897.53,1272.42 L901.66,1251.66 L905.8,1219.54 L909.93,1213.63 L914.07,1238.77 L918.2,1259.21 L922.34,1264.37 L926.47,1264.43 L930.6,1261.35 L934.74,1256.13 L938.87,1242.57 L943.01,1225.38 L947.14,1183.9 L951.27,1125.99 L954.58,1040.08 L955.08,1016.39 L955.57,986.25 L956.07,946.85 L956.57,920 M1039.54,920 L1039.54,967.86 L1040.03,1004.47 L1040.53,1033.08 L1040.99,1054.46 L1045.12,1162.53 L1049.25,1209.21 L1053.39,1235.05 L1057.52,1249.8 L1061.66,1252.57 L1065.79,1255.18 L1069.92,1247.99 L1074.06,1230.67 L1078.19,1201.63 L1082.33,1202.69 L1086.46,1230.95 L1090.6,1256.87 L1094.73,1269.71 L1098.86,1281.15 L1103,1283.43 L1107.13,1285.75 L1111.27,1284.5 L1115.4,1290.79 L1119.53,1287.93 L1123.67,1284.06 L1127.8,1285.82 L1131.94,1280.06 L1136.07,1271.53 L1140.21,1275.19 L1144.34,1285.74 L1148.47,1289.72 L1152.61,1291.93 L1156.74,1294.77 L1160.88,1298.44 L1165.01,1296.38 L1169.14,1299.14 L1173.28,1299.68 L1177.41,1297.03 L1181.55,1296.56 L1185.68,1301.2 L1189.82,1301.16 L1193.95,1301.32 L1198.08,1297.67 L1202.22,1303.1 L1206.35,1302.24 L1210.49,1299.87 L1214.62,1300.23 L1218.75,1301.53 L1222.89,1298.17 L1227.02,1298.42 L1231.16,1301.32 L1235.29,1303.22 L1239.43,1302.7 L1243.56,1297.46' fill='none' stroke='#ffee00' stroke-width='3.4' stroke-linejoin='round' stroke-linecap='round'/>
<path d='M959.5,920 L962,1150 L964.5,920' fill='none' stroke='#ffee00' stroke-width='3.2' stroke-linejoin='round' stroke-linecap='round' />
<path d='M1013.5,920 L1016,1140 L1018.5,920' fill='none' stroke='#ffee00' stroke-width='3.2' stroke-linejoin='round' stroke-linecap='round' />
<path d='M748.7,1250.33 L752.83,1252.9 L756.97,1254.39 L761.1,1251.54 L765.24,1252.11 L769.37,1253.51 L773.5,1254 L777.64,1250.36 L781.77,1252.46 L785.91,1249.78 L790.04,1249.32 L794.18,1246.45 L798.31,1252.45 L802.44,1252.09 L806.58,1253.36 L810.71,1246.59 L814.85,1249.6 L818.98,1249.39 L823.12,1249.7 L827.25,1246.77 L831.38,1246.75 L835.52,1249.37 L839.65,1245.46 L843.79,1247.18 L847.92,1244.03 L852.05,1244.99 L856.19,1244.59 L860.32,1239.49 L864.46,1240.59 L868.59,1237.69 L872.73,1236.53 L876.86,1235.5 L880.99,1234.91 L885.13,1233.43 L889.26,1234.71 L893.4,1234.04 L897.53,1228.51 L901.66,1223.57 L905.8,1217.7 L909.93,1205.81 L914.07,1180.58 L918.2,1150.21 L922.34,1133.51 L926.47,1158 L930.6,1177.04 L934.74,1183.96 L938.87,1182.65 L943.01,1169.4 L947.14,1141.37 L951.27,1076.14 L952.93,1018.34 L953.42,992.57 L953.92,960.3 L954.42,920 M1037.64,920 L1037.64,1039.23 L1038.13,1139.98 L1038.63,1203.05 L1039.13,1243.41 L1039.62,1268.96 L1040.12,1284.43 L1040.57,1292.42 L1044.71,1272.89 L1048.84,1241.84 L1052.97,1226.22 L1057.11,1214.69 L1061.24,1197.57 L1065.38,1170.48 L1069.51,1135.22 L1073.65,1143.45 L1077.78,1178.5 L1081.91,1201.69 L1086.05,1213.86 L1090.18,1220.68 L1094.32,1228.05 L1098.45,1231.89 L1102.58,1231.58 L1106.72,1232.95 L1110.85,1227.15 L1114.99,1223.03 L1119.12,1218.03 L1123.26,1222.66 L1127.39,1227.06 L1131.52,1236.19 L1135.66,1235.95 L1139.79,1240.57 L1143.93,1239.64 L1148.06,1241.61 L1152.19,1240.5 L1156.33,1241.29 L1160.46,1241.71 L1164.6,1243.1 L1168.73,1246.02 L1172.87,1243.46 L1177,1242.76 L1181.13,1243.06 L1185.27,1243.29 L1189.4,1246.7 L1193.54,1241.12 L1197.67,1242.78 L1201.8,1245.12 L1205.94,1240.95 L1210.07,1245.6 L1214.21,1243.94 L1218.34,1246.12 L1222.48,1246.46 L1226.61,1239.92 L1230.74,1242.8 L1234.88,1243.52 L1239.01,1243.94 L1243.15,1244.25' fill='none' stroke='#f0901e' stroke-width='3.4' stroke-linejoin='round' stroke-linecap='round'/>
<path d='M955.5,920 L958,1150 L960.5,920' fill='none' stroke='#f0901e' stroke-width='3.2' stroke-linejoin='round' stroke-linecap='round' />
<path d='M1027.5,920 L1030,1080 L1032.5,920' fill='none' stroke='#f0901e' stroke-width='3.2' stroke-linejoin='round' stroke-linecap='round' />
<path d='M748.7,1194.29 L752.83,1195.88 L756.97,1195.44 L761.1,1195.97 L765.24,1195.1 L769.37,1195.76 L773.5,1193.65 L777.64,1192.98 L781.77,1195.69 L785.91,1191.74 L790.04,1191.68 L794.18,1188.61 L798.31,1184.35 L802.44,1181.94 L806.58,1175.63 L810.71,1179.77 L814.85,1183.02 L818.98,1184.81 L823.12,1187.06 L827.25,1187.12 L831.38,1191.39 L835.52,1187.44 L839.65,1190.82 L843.79,1188.11 L847.92,1187.93 L852.05,1189.77 L856.19,1183.7 L860.32,1184.17 L864.46,1183.28 L868.59,1183.57 L872.73,1179.94 L876.86,1176.68 L880.99,1171.5 L885.13,1167.31 L889.26,1162.3 L893.4,1163.96 L897.53,1167.36 L901.66,1165.39 L905.8,1161.03 L909.93,1152.6 L914.07,1141.32 L918.2,1114.28 L922.34,1077.84 L926.47,1040.22 L930.6,1057.57 L934.74,1086.52 L938.87,1101.78 L943.01,1095.81 L947.14,1065.76 L951.27,986.27 L952.1,953.53 L952.6,927.93 L953.09,920 M1040.53,920 L1040.53,941.77 L1040.99,963.08 L1045.12,1051.3 L1049.25,1079.07 L1053.39,1077.72 L1057.52,1049.52 L1061.66,1026.44 L1065.79,1055.03 L1069.92,1102.84 L1074.06,1127.71 L1078.19,1146.63 L1082.33,1153.25 L1086.46,1158.78 L1090.6,1164.52 L1094.73,1160.65 L1098.86,1154.73 L1103,1145.39 L1107.13,1145.35 L1111.27,1153.33 L1115.4,1163.81 L1119.53,1168.95 L1123.67,1173.5 L1127.8,1174.55 L1131.94,1176.17 L1136.07,1178.66 L1140.21,1178.32 L1144.34,1175.24 L1148.47,1179.61 L1152.61,1179.65 L1156.74,1179.57 L1160.88,1176.3 L1165.01,1177.31 L1169.14,1172.33 L1173.28,1165.49 L1177.41,1158.35 L1181.55,1162.37 L1185.68,1168.18 L1189.82,1178.29 L1193.95,1177.66 L1198.08,1177.69 L1202.22,1180.22 L1206.35,1178.13 L1210.49,1181.26 L1214.62,1180.6 L1218.75,1179.17 L1222.89,1185.02 L1227.02,1182.17 L1231.16,1185.29 L1235.29,1182.99 L1239.43,1182.56 L1243.56,1184.84' fill='none' stroke='#ff0000' stroke-width='3.4' stroke-linejoin='round' stroke-linecap='round'/>
<path d='M952.5,920 L955,1060 L957.5,920' fill='none' stroke='#ff0000' stroke-width='3.2' stroke-linejoin='round' stroke-linecap='round' />
<path d='M1030.5,920 L1033,1030 L1035.5,920' fill='none' stroke='#ff0000' stroke-width='3.2' stroke-linejoin='round' stroke-linecap='round' />
<path d='M748.7,1150.39 L752.83,1147.46 L756.97,1151.36 L761.1,1151.91 L765.24,1152.21 L769.37,1152.16 L773.5,1147.57 L777.64,1148.85 L781.77,1148.76 L785.91,1147.97 L790.04,1147.58 L794.18,1152.17 L798.31,1147.89 L802.44,1147.54 L806.58,1146.69 L810.71,1147.7 L814.85,1144.37 L818.98,1145.06 L823.12,1143.52 L827.25,1139.47 L831.38,1132.26 L835.52,1130.59 L839.65,1130.83 L843.79,1137.63 L847.92,1137.3 L852.05,1138.63 L856.19,1142.26 L860.32,1140.93 L864.46,1139.49 L868.59,1139.48 L872.73,1139.93 L876.86,1137.85 L880.99,1134.49 L885.13,1135.05 L889.26,1128.73 L893.4,1119.36 L897.53,1118.47 L901.66,1121.63 L905.8,1126.08 L909.93,1127.46 L914.07,1126.04 L918.2,1122.09 L922.34,1116.18 L926.47,1113.73 L930.6,1107.6 L934.74,1103.36 L938.87,1091.35 L943.01,1069.32 L947.14,1030.27 L951.27,934.98 L951.77,920 M1041.4,920 L1041.4,928.27 L1045.53,1008.52 L1049.67,1019.06 L1053.8,993.55 L1057.94,964.44 L1062.07,995.63 L1066.2,1047.49 L1070.34,1078.36 L1074.47,1096.15 L1078.61,1107.26 L1082.74,1115.15 L1086.87,1114.2 L1091.01,1111.94 L1095.14,1107.03 L1099.28,1098.8 L1103.41,1102.25 L1107.55,1115.79 L1111.68,1124.24 L1115.81,1126.85 L1119.95,1132.71 L1124.08,1133.01 L1128.22,1133.02 L1132.35,1134.77 L1136.48,1136.25 L1140.62,1132.83 L1144.75,1134.76 L1148.89,1129.37 L1153.02,1126.94 L1157.16,1122.49 L1161.29,1114.93 L1165.42,1121.59 L1169.56,1127.17 L1173.69,1130.86 L1177.83,1135.34 L1181.96,1135.64 L1186.09,1139.13 L1190.23,1140.97 L1194.36,1138.96 L1198.5,1138.42 L1202.63,1143.06 L1206.77,1140.21 L1210.9,1141.88 L1215.03,1135.64 L1219.17,1141.87 L1223.3,1140.02 L1227.44,1138.3 L1231.57,1143.01 L1235.7,1142.64 L1239.84,1144.58 L1243.97,1141.51' fill='none' stroke='#f20000' stroke-width='3.4' stroke-linejoin='round' stroke-linecap='round'/>
<path d='M950.5,920 L953,1000 L955.5,920' fill='none' stroke='#f20000' stroke-width='3.2' stroke-linejoin='round' stroke-linecap='round' />
<path d='M1032.5,920 L1035,1000 L1037.5,920' fill='none' stroke='#f20000' stroke-width='3.2' stroke-linejoin='round' stroke-linecap='round' />
<path d='M748.7,1103.51 L752.83,1102.14 L756.97,1104.2 L761.1,1102.01 L765.24,1103.86 L769.37,1102.41 L773.5,1105.69 L777.64,1100.03 L781.77,1101.25 L785.91,1100.82 L790.04,1103.87 L794.18,1104.44 L798.31,1105.36 L802.44,1097.88 L806.58,1099.99 L810.71,1101.48 L814.85,1101.19 L818.98,1098.05 L823.12,1097.4 L827.25,1100 L831.38,1101.07 L835.52,1099.3 L839.65,1097.38 L843.79,1092.77 L847.92,1088.72 L852.05,1088.42 L856.19,1090.99 L860.32,1088.46 L864.46,1091.79 L868.59,1091.62 L872.73,1091.01 L876.86,1091.73 L880.99,1088.92 L885.13,1091.06 L889.26,1088.05 L893.4,1085.43 L897.53,1082.67 L901.66,1083.4 L905.8,1083.5 L909.93,1083.31 L914.07,1081.12 L918.2,1078.89 L922.34,1075.16 L926.47,1069.02 L930.6,1066.62 L934.74,1057.27 L938.87,1044.34 L943.01,1025.08 L947.14,987.79 L950.45,920 M1046.36,920 L1046.36,994.68 L1050.49,1027.4 L1054.63,1047.17 L1058.76,1054.32 L1062.9,1062.88 L1067.03,1067.57 L1071.16,1070.55 L1075.3,1075.09 L1079.43,1078.53 L1083.57,1079.65 L1087.7,1078.3 L1091.84,1075.76 L1095.97,1073.48 L1100.1,1070.8 L1104.24,1077.66 L1108.37,1081.71 L1112.51,1088.62 L1116.64,1088.88 L1120.78,1088.3 L1124.91,1090.72 L1129.04,1089.22 L1133.18,1090.3 L1137.31,1086.24 L1141.45,1085.22 L1145.58,1080.62 L1149.71,1079 L1153.85,1082.66 L1157.98,1084.97 L1162.12,1088.03 L1166.25,1091.15 L1170.38,1091.77 L1174.52,1090.89 L1178.65,1092.11 L1182.79,1091.04 L1186.92,1094.36 L1191.06,1090.37 L1195.19,1092.23 L1199.32,1093.44 L1203.46,1093.53 L1207.59,1091.54 L1211.73,1093.6 L1215.86,1089.75 L1219.99,1094.7 L1224.13,1095.02 L1228.26,1093.67 L1232.4,1095.63 L1236.53,1094.71 L1240.67,1091.17 L1244.8,1096.4' fill='none' stroke='#e80000' stroke-width='3.4' stroke-linejoin='round' stroke-linecap='round'/>
<path d='M948.5,920 L951,990 L953.5,920' fill='none' stroke='#e80000' stroke-width='3.2' stroke-linejoin='round' stroke-linecap='round' />
<path d='M1035.5,920 L1038,990 L1040.5,920' fill='none' stroke='#e80000' stroke-width='3.2' stroke-linejoin='round' stroke-linecap='round' />
<path d='M748.7,1064.3 L752.83,1064.01 L756.97,1063.4 L761.1,1066.08 L765.24,1063.3 L769.37,1064.18 L773.5,1063.13 L777.64,1061.62 L781.77,1059.17 L785.91,1060.8 L790.04,1061.55 L794.18,1062.28 L798.31,1064.25 L802.44,1062.57 L806.58,1060.13 L810.71,1060.99 L814.85,1063.86 L818.98,1060.73 L823.12,1060.31 L827.25,1053.81 L831.38,1056.29 L835.52,1056 L839.65,1055.98 L843.79,1055.49 L847.92,1055.84 L852.05,1053.69 L856.19,1051.52 L860.32,1046.03 L864.46,1040.09 L868.59,1043.59 L872.73,1044.58 L876.86,1048.31 L880.99,1048.79 L885.13,1044.6 L889.26,1049.9 L893.4,1047.86 L897.53,1043.97 L901.66,1039.03 L905.8,1042.61 L909.93,1040.99 L914.07,1040.02 L918.2,1039.4 L922.34,1040.42 L926.47,1033.94 L930.6,1026.36 L934.74,1018.19 L938.87,1009.25 L943.01,985.89 L947.14,942.86 L949.62,920 M1047.19,920 L1047.19,964.67 L1051.32,994.03 L1055.46,1007.07 L1059.59,1021.58 L1063.72,1031.13 L1067.86,1032.27 L1071.99,1034.29 L1076.13,1036.68 L1080.26,1036.65 L1084.39,1039.61 L1088.53,1033.42 L1092.66,1033.32 L1096.8,1025.49 L1100.93,1032.39 L1105.07,1039.25 L1109.2,1043.04 L1113.33,1046.23 L1117.47,1047.94 L1121.6,1046.78 L1125.74,1046.02 L1129.87,1045.8 L1134,1037.06 L1138.14,1033.01 L1142.27,1040.95 L1146.41,1043.9 L1150.54,1049.18 L1154.68,1048.02 L1158.81,1053.35 L1162.94,1054.68 L1167.08,1052.82 L1171.21,1054.41 L1175.35,1053.04 L1179.48,1057.58 L1183.61,1053.62 L1187.75,1056.45 L1191.88,1060.32 L1196.02,1051.96 L1200.15,1057.06 L1204.29,1057.9 L1208.42,1054.85 L1212.55,1055.02 L1216.69,1054.01 L1220.82,1057.97 L1224.96,1059.26 L1229.09,1055.72 L1233.22,1058.13 L1237.36,1058.36 L1241.49,1057.26' fill='none' stroke='#c20000' stroke-width='3.4' stroke-linejoin='round' stroke-linecap='round'/>
<path d='M946.5,920 L949,980 L951.5,920' fill='none' stroke='#c20000' stroke-width='3.2' stroke-linejoin='round' stroke-linecap='round' />
<path d='M1037.5,920 L1040,980 L1042.5,920' fill='none' stroke='#c20000' stroke-width='3.2' stroke-linejoin='round' stroke-linecap='round' />
<path d='M748.7,1021.62 L752.83,1019.81 L756.97,1018.55 L761.1,1020.94 L765.24,1020.83 L769.37,1018.23 L773.5,1019.54 L777.64,1019.92 L781.77,1021.58 L785.91,1018.51 L790.04,1016.41 L794.18,1018.1 L798.31,1015.09 L802.44,1017.35 L806.58,1018.63 L810.71,1016.45 L814.85,1017.53 L818.98,1016.19 L823.12,1018.25 L827.25,1014.27 L831.38,1016.8 L835.52,1015.94 L839.65,1016.29 L843.79,1017.99 L847.92,1012.9 L852.05,1015.18 L856.19,1013.83 L860.32,1013.49 L864.46,1015.08 L868.59,1009.8 L872.73,1012.47 L876.86,1009.66 L880.99,1011.01 L885.13,1008.02 L889.26,1005.26 L893.4,1010.6 L897.53,1007.56 L901.66,1007.17 L905.8,1003.93 L909.93,1003.04 L914.07,1002.32 L918.2,999.02 L922.34,996.94 L926.47,988.98 L930.6,986.79 L934.74,979.37 L938.87,966.33 L943.01,937.28 L947.14,920 M1048.84,920 L1048.84,929.56 L1052.97,958.17 L1057.11,973.56 L1061.24,982.53 L1065.38,984.5 L1069.51,992.3 L1073.65,995.96 L1077.78,997.45 L1081.91,1003.03 L1086.05,1001.08 L1090.18,1009.23 L1094.32,1003.61 L1098.45,1004.72 L1102.58,1008.84 L1106.72,1006.97 L1110.85,1008.03 L1114.99,1005.44 L1119.12,1007.99 L1123.26,1008.97 L1127.39,1013.98 L1131.52,1007.21 L1135.66,1010.16 L1139.79,1012.55 L1143.93,1012.1 L1148.06,1010.85 L1152.19,1012.13 L1156.33,1013.96 L1160.46,1008.67 L1164.6,1014 L1168.73,1015.92 L1172.87,1011.88 L1177,1012.67 L1181.13,1013.22 L1185.27,1014.96 L1189.4,1013.18 L1193.54,1015.12 L1197.67,1012.64 L1201.8,1015.72 L1205.94,1012.41 L1210.07,1013.27 L1214.21,1013.83 L1218.34,1013.87 L1222.48,1014.16 L1226.61,1016.42 L1230.74,1015.28 L1234.88,1014.99 L1239.01,1014.93 L1243.15,1015.1' fill='none' stroke='#8c0000' stroke-width='3.4' stroke-linejoin='round' stroke-linecap='round'/>
<path d='M944.5,920 L947,970 L949.5,920' fill='none' stroke='#8c0000' stroke-width='3.2' stroke-linejoin='round' stroke-linecap='round' />
<path d='M1039.5,920 L1042,970 L1044.5,920' fill='none' stroke='#8c0000' stroke-width='3.2' stroke-linejoin='round' stroke-linecap='round' />
<path d='M809.7,1449 L857,1393.6 L888,1333.2 L899.4,1261.4 L908.2,1208.9 L921.2,1127.3 L927.1,1034.3' fill='none' stroke='#c00000' stroke-width='5' stroke-dasharray='5,3.6'/>
<path d='M1184.2,1439.2 L1136,1382.1 L1109.8,1323.4 L1093.5,1249 L1080.5,1191 L1071.3,1114.3 L1061.9,1019.7 L1058.6,960.3' fill='none' stroke='#c00000' stroke-width='5' stroke-dasharray='5,3.6'/>
<path d='M809,1171.4 L835.8,1125 L852.1,1083.3 L865.1,1035.3' fill='none' stroke='#c00000' stroke-width='5' stroke-dasharray='5,3.6'/>
<path d='M1178.3,1153.4 L1162,1111 L1149,1071.9 L1137.5,1027.8' fill='none' stroke='#c00000' stroke-width='5' stroke-dasharray='5,3.6'/>
<path d='M848.8,1493.1 L888,1435.3 L912.4,1369.1 L929.7,1311.3 L940.8,1236.6 L951.6,1118.5' fill='none' stroke='#4f80c8' stroke-width='5.4' stroke-dasharray='5.4,6.2' stroke-linecap='butt' stroke-linejoin='round'/>
<path d='M1145.7,1480 L1108.2,1427.8 L1082.1,1357.7 L1067.4,1292.4 L1054.4,1209.5 L1041.3,1067 L1037.4,970.7' fill='none' stroke='#4f80c8' stroke-width='5.4' stroke-dasharray='5.4,6.2' stroke-linecap='butt' stroke-linejoin='round'/>
<path d='M832.5,1330 L850.4,1295.7 L872.3,1232.4 L888,1162.6 L895.5,1115 L897.7,1078.4 L902.6,1036' fill='none' stroke='#4f80c8' stroke-width='5.4' stroke-dasharray='5.4,6.2' stroke-linecap='butt' stroke-linejoin='round'/>
<path d='M1158.8,1312 L1137.5,1269.6 L1119.6,1214.8 L1106.6,1143 L1100.7,1098 L1099.4,1068 L1096.8,1022.9' fill='none' stroke='#4f80c8' stroke-width='5.4' stroke-dasharray='5.4,6.2' stroke-linecap='butt' stroke-linejoin='round'/>
<rect x='841.8' y='1486.1' width='14' height='14' fill='#1f66e5'/>
<rect x='881' y='1428.3' width='14' height='14' fill='#1f66e5'/>
<rect x='905.4' y='1362.1' width='14' height='14' fill='#1f66e5'/>
<rect x='922.7' y='1304.3' width='14' height='14' fill='#1f66e5'/>
<rect x='933.8' y='1229.6' width='14' height='14' fill='#1f66e5'/>
<rect x='944.6' y='1111.5' width='14' height='14' fill='#1f66e5'/>
<rect x='1138.7' y='1473' width='14' height='14' fill='#1f66e5'/>
<rect x='1101.2' y='1420.8' width='14' height='14' fill='#1f66e5'/>
<rect x='1075.1' y='1350.7' width='14' height='14' fill='#1f66e5'/>
<rect x='1060.4' y='1285.4' width='14' height='14' fill='#1f66e5'/>
<rect x='1047.4' y='1202.5' width='14' height='14' fill='#1f66e5'/>
<rect x='1034.3' y='1060' width='14' height='14' fill='#1f66e5'/>
<rect x='1030.4' y='963.7' width='14' height='14' fill='#1f66e5'/>
<rect x='825.5' y='1323' width='14' height='14' fill='#1f66e5'/>
<rect x='843.4' y='1288.7' width='14' height='14' fill='#1f66e5'/>
<rect x='865.3' y='1225.4' width='14' height='14' fill='#1f66e5'/>
<rect x='881' y='1155.6' width='14' height='14' fill='#1f66e5'/>
<rect x='888.5' y='1108' width='14' height='14' fill='#1f66e5'/>
<rect x='890.7' y='1071.4' width='14' height='14' fill='#1f66e5'/>
<rect x='895.6' y='1029' width='14' height='14' fill='#1f66e5'/>
<rect x='1151.8' y='1305' width='14' height='14' fill='#1f66e5'/>
<rect x='1130.5' y='1262.6' width='14' height='14' fill='#1f66e5'/>
<rect x='1112.6' y='1207.8' width='14' height='14' fill='#1f66e5'/>
<rect x='1099.6' y='1136' width='14' height='14' fill='#1f66e5'/>
<rect x='1093.7' y='1091' width='14' height='14' fill='#1f66e5'/>
<rect x='1092.4' y='1061' width='14' height='14' fill='#1f66e5'/>
<rect x='1089.8' y='1015.9' width='14' height='14' fill='#1f66e5'/>
<path d='M809.7,1461 L806.53,1453.37 L798.29,1452.71 L804.56,1447.33 L802.65,1439.29 L809.7,1443.6 L816.75,1439.29 L814.84,1447.33 L821.11,1452.71 L812.87,1453.37Z' fill='#cc0000'/>
<path d='M857,1405.6 L853.83,1397.97 L845.59,1397.31 L851.86,1391.93 L849.95,1383.89 L857,1388.2 L864.05,1383.89 L862.14,1391.93 L868.41,1397.31 L860.17,1397.97Z' fill='#cc0000'/>
<path d='M888,1345.2 L884.83,1337.57 L876.59,1336.91 L882.86,1331.53 L880.95,1323.49 L888,1327.8 L895.05,1323.49 L893.14,1331.53 L899.41,1336.91 L891.17,1337.57Z' fill='#cc0000'/>
<path d='M899.4,1273.4 L896.23,1265.77 L887.99,1265.11 L894.26,1259.73 L892.35,1251.69 L899.4,1256 L906.45,1251.69 L904.54,1259.73 L910.81,1265.11 L902.57,1265.77Z' fill='#cc0000'/>
<path d='M908.2,1220.9 L905.03,1213.27 L896.79,1212.61 L903.06,1207.23 L901.15,1199.19 L908.2,1203.5 L915.25,1199.19 L913.34,1207.23 L919.61,1212.61 L911.37,1213.27Z' fill='#cc0000'/>
<path d='M921.2,1139.3 L918.03,1131.67 L909.79,1131.01 L916.06,1125.63 L914.15,1117.59 L921.2,1121.9 L928.25,1117.59 L926.34,1125.63 L932.61,1131.01 L924.37,1131.67Z' fill='#cc0000'/>
<path d='M927.1,1046.3 L923.93,1038.67 L915.69,1038.01 L921.96,1032.63 L920.05,1024.59 L927.1,1028.9 L934.15,1024.59 L932.24,1032.63 L938.51,1038.01 L930.27,1038.67Z' fill='#cc0000'/>
<path d='M1184.2,1451.2 L1181.03,1443.57 L1172.79,1442.91 L1179.06,1437.53 L1177.15,1429.49 L1184.2,1433.8 L1191.25,1429.49 L1189.34,1437.53 L1195.61,1442.91 L1187.37,1443.57Z' fill='#cc0000'/>
<path d='M1136,1394.1 L1132.83,1386.47 L1124.59,1385.81 L1130.86,1380.43 L1128.95,1372.39 L1136,1376.7 L1143.05,1372.39 L1141.14,1380.43 L1147.41,1385.81 L1139.17,1386.47Z' fill='#cc0000'/>
<path d='M1109.8,1335.4 L1106.63,1327.77 L1098.39,1327.11 L1104.66,1321.73 L1102.75,1313.69 L1109.8,1318 L1116.85,1313.69 L1114.94,1321.73 L1121.21,1327.11 L1112.97,1327.77Z' fill='#cc0000'/>
<path d='M1093.5,1261 L1090.33,1253.37 L1082.09,1252.71 L1088.36,1247.33 L1086.45,1239.29 L1093.5,1243.6 L1100.55,1239.29 L1098.64,1247.33 L1104.91,1252.71 L1096.67,1253.37Z' fill='#cc0000'/>
<path d='M1080.5,1203 L1077.33,1195.37 L1069.09,1194.71 L1075.36,1189.33 L1073.45,1181.29 L1080.5,1185.6 L1087.55,1181.29 L1085.64,1189.33 L1091.91,1194.71 L1083.67,1195.37Z' fill='#cc0000'/>
<path d='M1071.3,1126.3 L1068.13,1118.67 L1059.89,1118.01 L1066.16,1112.63 L1064.25,1104.59 L1071.3,1108.9 L1078.35,1104.59 L1076.44,1112.63 L1082.71,1118.01 L1074.47,1118.67Z' fill='#cc0000'/>
<path d='M1061.9,1031.7 L1058.73,1024.07 L1050.49,1023.41 L1056.76,1018.03 L1054.85,1009.99 L1061.9,1014.3 L1068.95,1009.99 L1067.04,1018.03 L1073.31,1023.41 L1065.07,1024.07Z' fill='#cc0000'/>
<path d='M1058.6,972.3 L1055.43,964.67 L1047.19,964.01 L1053.46,958.63 L1051.55,950.59 L1058.6,954.9 L1065.65,950.59 L1063.74,958.63 L1070.01,964.01 L1061.77,964.67Z' fill='#cc0000'/>
<path d='M809,1183.4 L805.83,1175.77 L797.59,1175.11 L803.86,1169.73 L801.95,1161.69 L809,1166 L816.05,1161.69 L814.14,1169.73 L820.41,1175.11 L812.17,1175.77Z' fill='#cc0000'/>
<path d='M835.8,1137 L832.63,1129.37 L824.39,1128.71 L830.66,1123.33 L828.75,1115.29 L835.8,1119.6 L842.85,1115.29 L840.94,1123.33 L847.21,1128.71 L838.97,1129.37Z' fill='#cc0000'/>
<path d='M852.1,1095.3 L848.93,1087.67 L840.69,1087.01 L846.96,1081.63 L845.05,1073.59 L852.1,1077.9 L859.15,1073.59 L857.24,1081.63 L863.51,1087.01 L855.27,1087.67Z' fill='#cc0000'/>
<path d='M865.1,1047.3 L861.93,1039.67 L853.69,1039.01 L859.96,1033.63 L858.05,1025.59 L865.1,1029.9 L872.15,1025.59 L870.24,1033.63 L876.51,1039.01 L868.27,1039.67Z' fill='#cc0000'/>
<path d='M1178.3,1165.4 L1175.13,1157.77 L1166.89,1157.11 L1173.16,1151.73 L1171.25,1143.69 L1178.3,1148 L1185.35,1143.69 L1183.44,1151.73 L1189.71,1157.11 L1181.47,1157.77Z' fill='#cc0000'/>
<path d='M1162,1123 L1158.83,1115.37 L1150.59,1114.71 L1156.86,1109.33 L1154.95,1101.29 L1162,1105.6 L1169.05,1101.29 L1167.14,1109.33 L1173.41,1114.71 L1165.17,1115.37Z' fill='#cc0000'/>
<path d='M1149,1083.9 L1145.83,1076.27 L1137.59,1075.61 L1143.86,1070.23 L1141.95,1062.19 L1149,1066.5 L1156.05,1062.19 L1154.14,1070.23 L1160.41,1075.61 L1152.17,1076.27Z' fill='#cc0000'/>
<path d='M1137.5,1039.8 L1134.33,1032.17 L1126.09,1031.51 L1132.36,1026.13 L1130.45,1018.09 L1137.5,1022.4 L1144.55,1018.09 L1142.64,1026.13 L1148.91,1031.51 L1140.67,1032.17Z' fill='#cc0000'/>
</g>
<rect x='750.5' y='947' width='271' height='45.6' fill='#fff'/>
<rect x='748.7' y='930.6' width='496.1' height='652.1' fill='none' stroke='#000' stroke-width='3.6'/>
<text x='724.41' y='1620' font-family='Liberation Sans' font-size='33.5' font-weight='bold' fill='#000'>-30</text>
<line x1='831.38' y1='1582.7' x2='831.38' y2='1570.7' stroke='#000' stroke-width='3.0' stroke-linecap='round'/>
<text x='807.1' y='1620' font-family='Liberation Sans' font-size='33.5' font-weight='bold' fill='#000'>-20</text>
<line x1='914.07' y1='1582.7' x2='914.07' y2='1570.7' stroke='#000' stroke-width='3.0' stroke-linecap='round'/>
<text x='889.78' y='1620' font-family='Liberation Sans' font-size='33.5' font-weight='bold' fill='#000'>-10</text>
<line x1='996.75' y1='1582.7' x2='996.75' y2='1570.7' stroke='#000' stroke-width='3.0' stroke-linecap='round'/>
<text x='987.37' y='1620' font-family='Liberation Sans' font-size='33.5' font-weight='bold' fill='#000'>0</text>
<line x1='1079.43' y1='1582.7' x2='1079.43' y2='1570.7' stroke='#000' stroke-width='3.0' stroke-linecap='round'/>
<text x='1060.51' y='1620' font-family='Liberation Sans' font-size='33.5' font-weight='bold' fill='#000'>10</text>
<line x1='1162.12' y1='1582.7' x2='1162.12' y2='1570.7' stroke='#000' stroke-width='3.0' stroke-linecap='round'/>
<text x='1143.69' y='1620' font-family='Liberation Sans' font-size='33.5' font-weight='bold' fill='#000'>20</text>
<text x='1226.54' y='1620' font-family='Liberation Sans' font-size='33.5' font-weight='bold' fill='#000'>30</text>
<line x1='790.04' y1='1582.7' x2='790.04' y2='1576.2' stroke='#000' stroke-width='3.0' stroke-linecap='round'/>
<line x1='872.73' y1='1582.7' x2='872.73' y2='1576.2' stroke='#000' stroke-width='3.0' stroke-linecap='round'/>
<line x1='955.41' y1='1582.7' x2='955.41' y2='1576.2' stroke='#000' stroke-width='3.0' stroke-linecap='round'/>
<line x1='1038.09' y1='1582.7' x2='1038.09' y2='1576.2' stroke='#000' stroke-width='3.0' stroke-linecap='round'/>
<line x1='1120.78' y1='1582.7' x2='1120.78' y2='1576.2' stroke='#000' stroke-width='3.0' stroke-linecap='round'/>
<line x1='1203.46' y1='1582.7' x2='1203.46' y2='1576.2' stroke='#000' stroke-width='3.0' stroke-linecap='round'/>
<line x1='748.7' y1='1573.2' x2='760.7' y2='1573.2' stroke='#000' stroke-width='3.0' stroke-linecap='round'/>
<text x='718.38' y='1582.7' font-family='Liberation Sans' font-size='33.5' font-weight='bold' fill='#000'>0</text>
<line x1='748.7' y1='1537.5' x2='755.5' y2='1537.5' stroke='#000' stroke-width='3.0' stroke-linecap='round'/>
<line x1='748.7' y1='1501.8' x2='760.7' y2='1501.8' stroke='#000' stroke-width='3.0' stroke-linecap='round'/>
<text x='718.38' y='1511.3' font-family='Liberation Sans' font-size='33.5' font-weight='bold' fill='#000'>2</text>
<line x1='748.7' y1='1466.1' x2='755.5' y2='1466.1' stroke='#000' stroke-width='3.0' stroke-linecap='round'/>
<line x1='748.7' y1='1430.4' x2='760.7' y2='1430.4' stroke='#000' stroke-width='3.0' stroke-linecap='round'/>
<text x='717.37' y='1439.9' font-family='Liberation Sans' font-size='33.5' font-weight='bold' fill='#000'>4</text>
<line x1='748.7' y1='1394.7' x2='755.5' y2='1394.7' stroke='#000' stroke-width='3.0' stroke-linecap='round'/>
<line x1='748.7' y1='1359' x2='760.7' y2='1359' stroke='#000' stroke-width='3.0' stroke-linecap='round'/>
<text x='718.38' y='1368.5' font-family='Liberation Sans' font-size='33.5' font-weight='bold' fill='#000'>6</text>
<line x1='748.7' y1='1323.3' x2='755.5' y2='1323.3' stroke='#000' stroke-width='3.0' stroke-linecap='round'/>
<line x1='748.7' y1='1287.6' x2='760.7' y2='1287.6' stroke='#000' stroke-width='3.0' stroke-linecap='round'/>
<text x='718.04' y='1297.1' font-family='Liberation Sans' font-size='33.5' font-weight='bold' fill='#000'>8</text>
<line x1='748.7' y1='1251.9' x2='755.5' y2='1251.9' stroke='#000' stroke-width='3.0' stroke-linecap='round'/>
<line x1='748.7' y1='1216.2' x2='760.7' y2='1216.2' stroke='#000' stroke-width='3.0' stroke-linecap='round'/>
<text x='699.95' y='1225.7' font-family='Liberation Sans' font-size='33.5' font-weight='bold' fill='#000'>10</text>
<line x1='748.7' y1='1180.5' x2='755.5' y2='1180.5' stroke='#000' stroke-width='3.0' stroke-linecap='round'/>
<line x1='748.7' y1='1144.8' x2='760.7' y2='1144.8' stroke='#000' stroke-width='3.0' stroke-linecap='round'/>
<text x='699.95' y='1154.3' font-family='Liberation Sans' font-size='33.5' font-weight='bold' fill='#000'>12</text>
<line x1='748.7' y1='1109.1' x2='755.5' y2='1109.1' stroke='#000' stroke-width='3.0' stroke-linecap='round'/>
<line x1='748.7' y1='1073.4' x2='760.7' y2='1073.4' stroke='#000' stroke-width='3.0' stroke-linecap='round'/>
<text x='698.62' y='1082.9' font-family='Liberation Sans' font-size='33.5' font-weight='bold' fill='#000'>14</text>
<line x1='748.7' y1='1037.7' x2='755.5' y2='1037.7' stroke='#000' stroke-width='3.0' stroke-linecap='round'/>
<line x1='748.7' y1='1002' x2='760.7' y2='1002' stroke='#000' stroke-width='3.0' stroke-linecap='round'/>
<text x='699.62' y='1011.5' font-family='Liberation Sans' font-size='33.5' font-weight='bold' fill='#000'>16</text>
<line x1='748.7' y1='966.3' x2='755.5' y2='966.3' stroke='#000' stroke-width='3.0' stroke-linecap='round'/>
<text x='699.62' y='940.1' font-family='Liberation Sans' font-size='33.5' font-weight='bold' fill='#000'>18</text>
<text transform='translate(691,1469.08) rotate(-90)' x='0' y='0' font-family='Liberation Sans' font-size='45.47' font-weight='bold' fill='#000'>Raman Intensity (cps)</text>
<text x='796.7' y='1670.9' font-family='Liberation Sans' font-size='45.73' font-weight='bold' fill='#000'>Raman Shift (cm</text>
<text x='1157.29' y='1649.1' font-family='Liberation Serif' font-size='26.15' font-weight='normal' fill='#000'>−1</text>
<text x='1188.6' y='1670.9' font-family='Liberation Sans' font-size='46' font-weight='bold' fill='#000'>)</text>
<text x='761.32' y='978.9' font-family='Liberation Sans' font-size='32.8' font-weight='bold' fill='#000'>532 nm (2.33 eV)</text>
<text x='1087.33' y='974' font-family='Liberation Sans' font-size='41.02' font-weight='bold' fill='#000'>Parallel</text>
<text x='761.44' y='1009.2' font-family='Liberation Sans' font-size='26.5' font-weight='bold' fill='#000'>Bulk</text>
<text x='761.66' y='1057.2' font-family='Liberation Sans' font-size='27.3' font-weight='bold' fill='#000'>14L</text>
<text x='761.66' y='1093' font-family='Liberation Sans' font-size='27.3' font-weight='bold' fill='#000'>13L</text>
<text x='761.66' y='1131.2' font-family='Liberation Sans' font-size='27.3' font-weight='bold' fill='#000'>11L</text>
<text x='761.66' y='1185.4' font-family='Liberation Sans' font-size='27.3' font-weight='bold' fill='#000'>10L</text>
<text x='762.48' y='1240.9' font-family='Liberation Sans' font-size='27.3' font-weight='bold' fill='#000'>9L</text>
<text x='762.21' y='1293.4' font-family='Liberation Sans' font-size='27.3' font-weight='bold' fill='#000'>7L</text>
<text x='762.21' y='1330.9' font-family='Liberation Sans' font-size='27.3' font-weight='bold' fill='#000'>6L</text>
<text x='762.48' y='1373.3' font-family='Liberation Sans' font-size='27.3' font-weight='bold' fill='#000'>5L</text>
<text x='763.03' y='1413.1' font-family='Liberation Sans' font-size='27.3' font-weight='bold' fill='#000'>4L</text>
<text x='762.75' y='1455.5' font-family='Liberation Sans' font-size='27.3' font-weight='bold' fill='#000'>3L</text>
<text x='762.48' y='1506.1' font-family='Liberation Sans' font-size='27.3' font-weight='bold' fill='#000'>2L</text>
<text x='761.66' y='1556.7' font-family='Liberation Sans' font-size='27.3' font-weight='bold' fill='#000'>1L</text>
<text x='792.06' y='1221' font-family='Liberation Sans' font-size='33.42' font-weight='bold' fill='#ee0000'>B2</text>
<text x='1165.84' y='1213.8' font-family='Liberation Sans' font-size='33.68' font-weight='bold' fill='#ee0000'>B2</text>
<text x='814.93' y='1362.4' font-family='Liberation Sans' font-size='32.26' font-weight='bold' fill='#1a56b4'>S2</text>
<text x='1151.9' y='1357.3' font-family='Liberation Sans' font-size='33.3' font-weight='bold' fill='#1a56b4'>S2</text>
<text x='798.73' y='1492.1' font-family='Liberation Sans' font-size='30.93' font-weight='bold' fill='#ee0000'>B1</text>
<text x='1176.99' y='1483.3' font-family='Liberation Sans' font-size='31.53' font-weight='bold' fill='#ee0000'>B1</text>
<text x='831.93' y='1536.4' font-family='Liberation Sans' font-size='28.97' font-weight='bold' fill='#1a56b4'>S1</text>
<text x='1127.93' y='1527.1' font-family='Liberation Sans' font-size='28.97' font-weight='bold' fill='#1a56b4'>S1</text>
<text x='1289.56' y='894.4' font-family='Liberation Sans' font-size='47.36' font-weight='normal' fill='#000'>(e)</text>
<g clip-path='url(#clipE)'>
<path d='M1463.1,1109.24 L1466.43,1128.44 L1469.76,1146.48 L1473.08,1163.41 L1476.41,1179.3 L1479.74,1194.23 L1483.07,1208.25 L1486.39,1221.44 L1489.72,1233.86 L1493.05,1245.56 L1496.38,1256.6 L1499.71,1267.03 L1503.03,1276.89 L1506.36,1286.23 L1509.69,1295.09 L1513.02,1303.49 L1516.34,1311.47 L1519.67,1319.06 L1523,1326.29 L1526.33,1333.17 L1529.65,1339.74 L1532.98,1346.02 L1536.31,1352.01 L1539.64,1357.75 L1542.97,1363.24 L1546.29,1368.5 L1549.62,1373.55 L1552.95,1378.4 L1556.28,1383.05 L1559.6,1387.52 L1562.93,1391.83 L1566.26,1395.97 L1569.59,1399.96 L1572.92,1403.8 L1576.24,1407.51 L1579.57,1411.09 L1582.9,1414.55 L1586.23,1417.89 L1589.55,1421.12 L1592.88,1424.24 L1596.21,1427.26 L1599.54,1430.19 L1602.86,1433.02 L1606.19,1435.77 L1609.52,1438.43 L1612.85,1441.02 L1616.18,1443.53 L1619.5,1445.96 L1622.83,1448.33 L1626.16,1450.62 L1629.49,1452.86 L1632.81,1455.03 L1636.14,1457.14 L1639.47,1459.2 L1642.8,1461.2 L1646.13,1463.15 L1649.45,1465.05 L1652.78,1466.91 L1656.11,1468.71 L1659.44,1470.47 L1662.76,1472.19 L1666.09,1473.86 L1669.42,1475.5 L1672.75,1477.09 L1676.07,1478.65 L1679.4,1480.17 L1682.73,1481.66 L1686.06,1483.12 L1689.39,1484.54 L1692.71,1485.93 L1696.04,1487.29 L1699.37,1488.62 L1702.7,1489.92 L1706.02,1491.19 L1709.35,1492.44 L1712.68,1493.66 L1716.01,1494.86 L1719.34,1496.03 L1722.66,1497.18 L1725.99,1498.3 L1729.32,1499.4 L1732.65,1500.48 L1735.97,1501.54 L1739.3,1502.58 L1742.63,1503.6 L1745.96,1504.61 L1749.28,1505.59 L1752.61,1506.55 L1755.94,1507.5 L1759.27,1508.43 L1762.6,1509.34 L1765.92,1510.23 L1769.25,1511.11 L1772.58,1511.98 L1775.91,1512.83 L1779.23,1513.66 L1782.56,1514.48 L1785.89,1515.29 L1789.22,1516.08 L1792.55,1516.86 L1795.87,1517.63 L1799.2,1518.39 L1802.53,1519.13 L1805.86,1519.86 L1809.18,1520.58 L1812.51,1521.28 L1815.84,1521.98 L1819.17,1522.66 L1822.49,1523.34 L1825.82,1524 L1829.15,1524.66 L1832.48,1525.3 L1835.81,1525.93 L1839.13,1526.56 L1842.46,1527.17 L1845.79,1527.78 L1849.12,1528.38 L1852.44,1528.97 L1855.77,1529.55 L1859.1,1530.12' fill='none' stroke='#1f66e5' stroke-width='2.2' stroke-linejoin='round' stroke-linecap='round' />
<path d='M1595.1,1112.78 L1597.32,1117.12 L1599.54,1121.4 L1601.76,1125.62 L1603.97,1129.78 L1606.19,1133.89 L1608.41,1137.94 L1610.63,1141.93 L1612.85,1145.87 L1615.07,1149.75 L1617.28,1153.58 L1619.5,1157.36 L1621.72,1161.08 L1623.94,1164.75 L1626.16,1168.37 L1628.38,1171.94 L1630.6,1175.45 L1632.81,1178.92 L1635.03,1182.34 L1637.25,1185.72 L1639.47,1189.05 L1641.69,1192.33 L1643.91,1195.56 L1646.13,1198.75 L1648.34,1201.9 L1650.56,1205.01 L1652.78,1208.07 L1655,1211.09 L1657.22,1214.07 L1659.44,1217.01 L1661.65,1219.91 L1663.87,1222.77 L1666.09,1225.59 L1668.31,1228.38 L1670.53,1231.12 L1672.75,1233.84 L1674.97,1236.51 L1677.18,1239.15 L1679.4,1241.76 L1681.62,1244.33 L1683.84,1246.87 L1686.06,1249.38 L1688.28,1251.86 L1690.49,1254.3 L1692.71,1256.71 L1694.93,1259.1 L1697.15,1261.45 L1699.37,1263.77 L1701.59,1266.06 L1703.81,1268.33 L1706.02,1270.57 L1708.24,1272.78 L1710.46,1274.96 L1712.68,1277.12 L1714.9,1279.25 L1717.12,1281.35 L1719.34,1283.43 L1721.55,1285.48 L1723.77,1287.51 L1725.99,1289.52 L1728.21,1291.5 L1730.43,1293.46 L1732.65,1295.4 L1734.86,1297.31 L1737.08,1299.2 L1739.3,1301.07 L1741.52,1302.92 L1743.74,1304.75 L1745.96,1306.55 L1748.18,1308.34 L1750.39,1310.1 L1752.61,1311.85 L1754.83,1313.58 L1757.05,1315.28 L1759.27,1316.97 L1761.49,1318.64 L1763.71,1320.29 L1765.92,1321.93 L1768.14,1323.54 L1770.36,1325.14 L1772.58,1326.72 L1774.8,1328.29 L1777.02,1329.84 L1779.23,1331.37 L1781.45,1332.88 L1783.67,1334.38 L1785.89,1335.87 L1788.11,1337.34 L1790.33,1338.79 L1792.55,1340.23 L1794.76,1341.65 L1796.98,1343.06 L1799.2,1344.45 L1801.42,1345.83 L1803.64,1347.2 L1805.86,1348.55 L1808.07,1349.89 L1810.29,1351.22 L1812.51,1352.53 L1814.73,1353.83 L1816.95,1355.12 L1819.17,1356.4 L1821.39,1357.66 L1823.6,1358.91 L1825.82,1360.15 L1828.04,1361.37 L1830.26,1362.59 L1832.48,1363.79 L1834.7,1364.98 L1836.92,1366.16 L1839.13,1367.33 L1841.35,1368.49 L1843.57,1369.64 L1845.79,1370.78 L1848.01,1371.9 L1850.23,1373.02 L1852.44,1374.12 L1854.66,1375.22 L1856.88,1376.31 L1859.1,1377.38' fill='none' stroke='#1f66e5' stroke-width='2.2' stroke-linejoin='round' stroke-linecap='round' />
<path d='M1496.1,997.3 L1498.32,1009.51 L1500.54,1021.26 L1502.76,1032.59 L1504.97,1043.51 L1507.19,1054.05 L1509.41,1064.22 L1511.63,1074.04 L1513.85,1083.53 L1516.07,1092.7 L1518.28,1101.56 L1520.5,1110.14 L1522.72,1118.45 L1524.94,1126.49 L1527.16,1134.28 L1529.38,1141.83 L1531.6,1149.15 L1533.81,1156.25 L1536.03,1163.15 L1538.25,1169.84 L1540.47,1176.34 L1542.69,1182.65 L1544.91,1188.79 L1547.13,1194.75 L1549.34,1200.56 L1551.56,1206.21 L1553.78,1211.7 L1556,1217.05 L1558.22,1222.26 L1560.44,1227.34 L1562.65,1232.29 L1564.87,1237.12 L1567.09,1241.82 L1569.31,1246.41 L1571.53,1250.89 L1573.75,1255.26 L1575.97,1259.52 L1578.18,1263.69 L1580.4,1267.76 L1582.62,1271.74 L1584.84,1275.62 L1587.06,1279.42 L1589.28,1283.14 L1591.49,1286.77 L1593.71,1290.33 L1595.93,1293.8 L1598.15,1297.21 L1600.37,1300.54 L1602.59,1303.8 L1604.81,1306.99 L1607.02,1310.12 L1609.24,1313.19 L1611.46,1316.19 L1613.68,1319.14 L1615.9,1322.03 L1618.12,1324.86 L1620.34,1327.63 L1622.55,1330.35 L1624.77,1333.02 L1626.99,1335.64 L1629.21,1338.22 L1631.43,1340.74 L1633.65,1343.22 L1635.86,1345.65 L1638.08,1348.04 L1640.3,1350.39 L1642.52,1352.69 L1644.74,1354.96 L1646.96,1357.18 L1649.18,1359.37 L1651.39,1361.52 L1653.61,1363.63 L1655.83,1365.71 L1658.05,1367.76 L1660.27,1369.77 L1662.49,1371.74 L1664.71,1373.69 L1666.92,1375.6 L1669.14,1377.48 L1671.36,1379.34 L1673.58,1381.16 L1675.8,1382.95 L1678.02,1384.72 L1680.23,1386.46 L1682.45,1388.17 L1684.67,1389.86 L1686.89,1391.52 L1689.11,1393.16 L1691.33,1394.77 L1693.55,1396.36 L1695.76,1397.93 L1697.98,1399.47 L1700.2,1400.99 L1702.42,1402.49 L1704.64,1403.97 L1706.86,1405.43 L1709.07,1406.86 L1711.29,1408.28 L1713.51,1409.67 L1715.73,1411.05 L1717.95,1412.41 L1720.17,1413.75 L1722.39,1415.07 L1724.6,1416.38 L1726.82,1417.67 L1729.04,1418.94 L1731.26,1420.19 L1733.48,1421.43 L1735.7,1422.65 L1737.92,1423.85 L1740.13,1425.04 L1742.35,1426.22 L1744.57,1427.38 L1746.79,1428.52 L1749.01,1429.66 L1751.23,1430.77 L1753.44,1431.88 L1755.66,1432.97 L1757.88,1434.04 L1760.1,1435.11' fill='none' stroke='#e8161b' stroke-width='2.2' stroke-linejoin='round' stroke-linecap='round' />
<path d='M1727.1,1044.56 L1728.21,1046.31 L1729.32,1048.05 L1730.43,1049.78 L1731.54,1051.5 L1732.65,1053.21 L1733.76,1054.91 L1734.86,1056.6 L1735.97,1058.28 L1737.08,1059.95 L1738.19,1061.61 L1739.3,1063.26 L1740.41,1064.9 L1741.52,1066.54 L1742.63,1068.16 L1743.74,1069.77 L1744.85,1071.38 L1745.96,1072.97 L1747.07,1074.56 L1748.18,1076.14 L1749.28,1077.7 L1750.39,1079.26 L1751.5,1080.82 L1752.61,1082.36 L1753.72,1083.89 L1754.83,1085.42 L1755.94,1086.93 L1757.05,1088.44 L1758.16,1089.94 L1759.27,1091.43 L1760.38,1092.92 L1761.49,1094.39 L1762.6,1095.86 L1763.71,1097.32 L1764.81,1098.77 L1765.92,1100.21 L1767.03,1101.65 L1768.14,1103.07 L1769.25,1104.49 L1770.36,1105.91 L1771.47,1107.31 L1772.58,1108.71 L1773.69,1110.1 L1774.8,1111.48 L1775.91,1112.85 L1777.02,1114.22 L1778.13,1115.58 L1779.23,1116.94 L1780.34,1118.28 L1781.45,1119.62 L1782.56,1120.95 L1783.67,1122.28 L1784.78,1123.59 L1785.89,1124.91 L1787,1126.21 L1788.11,1127.51 L1789.22,1128.8 L1790.33,1130.08 L1791.44,1131.36 L1792.55,1132.63 L1793.65,1133.89 L1794.76,1135.15 L1795.87,1136.4 L1796.98,1137.65 L1798.09,1138.89 L1799.2,1140.12 L1800.31,1141.34 L1801.42,1142.56 L1802.53,1143.78 L1803.64,1144.98 L1804.75,1146.19 L1805.86,1147.38 L1806.97,1148.57 L1808.07,1149.75 L1809.18,1150.93 L1810.29,1152.1 L1811.4,1153.27 L1812.51,1154.43 L1813.62,1155.58 L1814.73,1156.73 L1815.84,1157.88 L1816.95,1159.01 L1818.06,1160.15 L1819.17,1161.27 L1820.28,1162.39 L1821.39,1163.51 L1822.49,1164.62 L1823.6,1165.72 L1824.71,1166.82 L1825.82,1167.92 L1826.93,1169.01 L1828.04,1170.09 L1829.15,1171.17 L1830.26,1172.24 L1831.37,1173.31 L1832.48,1174.37 L1833.59,1175.43 L1834.7,1176.48 L1835.81,1177.53 L1836.92,1178.58 L1838.02,1179.61 L1839.13,1180.65 L1840.24,1181.68 L1841.35,1182.7 L1842.46,1183.72 L1843.57,1184.73 L1844.68,1185.74 L1845.79,1186.75 L1846.9,1187.75 L1848.01,1188.74 L1849.12,1189.73 L1850.23,1190.72 L1851.34,1191.7 L1852.44,1192.68 L1853.55,1193.65 L1854.66,1194.62 L1855.77,1195.58 L1856.88,1196.54 L1857.99,1197.5 L1859.1,1198.45' fill='none' stroke='#e8161b' stroke-width='2.2' stroke-linejoin='round' stroke-linecap='round' />
<path d='M1463.1,1103.91 L1463.1,1124.91 M1456.9,1103.91 L1469.3,1103.91 M1456.9,1124.91 L1469.3,1124.91' stroke='#1f66e5' stroke-width='2.4' fill='none'/>
<rect x='1458.1' y='1109.41' width='10' height='10' fill='#1f66e5'/>
<path d='M1496.1,1245.42 L1496.1,1266.42 M1489.9,1245.42 L1502.3,1245.42 M1489.9,1266.42 L1502.3,1266.42' stroke='#1f66e5' stroke-width='2.4' fill='none'/>
<rect x='1491.1' y='1250.92' width='10' height='10' fill='#1f66e5'/>
<path d='M1529.1,1325.9 L1529.1,1346.9 M1522.9,1325.9 L1535.3,1325.9 M1522.9,1346.9 L1535.3,1346.9' stroke='#1f66e5' stroke-width='2.4' fill='none'/>
<rect x='1524.1' y='1331.4' width='10' height='10' fill='#1f66e5'/>
<path d='M1562.1,1377.07 L1562.1,1398.07 M1555.9,1377.07 L1568.3,1377.07 M1555.9,1398.07 L1568.3,1398.07' stroke='#1f66e5' stroke-width='2.4' fill='none'/>
<rect x='1557.1' y='1382.57' width='10' height='10' fill='#1f66e5'/>
<path d='M1595.1,1414.12 L1595.1,1435.12 M1588.9,1414.12 L1601.3,1414.12 M1588.9,1435.12 L1601.3,1435.12' stroke='#1f66e5' stroke-width='2.4' fill='none'/>
<rect x='1590.1' y='1419.62' width='10' height='10' fill='#1f66e5'/>
<path d='M1628.1,1438.9 L1628.1,1459.9 M1621.9,1438.9 L1634.3,1438.9 M1621.9,1459.9 L1634.3,1459.9' stroke='#1f66e5' stroke-width='2.4' fill='none'/>
<rect x='1623.1' y='1444.4' width='10' height='10' fill='#1f66e5'/>
<path d='M1694.1,1475.41 L1694.1,1496.41 M1687.9,1475.41 L1700.3,1475.41 M1687.9,1496.41 L1700.3,1496.41' stroke='#1f66e5' stroke-width='2.4' fill='none'/>
<rect x='1689.1' y='1480.91' width='10' height='10' fill='#1f66e5'/>
<path d='M1727.1,1486.6 L1727.1,1507.6 M1720.9,1486.6 L1733.3,1486.6 M1720.9,1507.6 L1733.3,1507.6' stroke='#1f66e5' stroke-width='2.4' fill='none'/>
<rect x='1722.1' y='1492.1' width='10' height='10' fill='#1f66e5'/>
<path d='M1760.1,1497.8 L1760.1,1518.8 M1753.9,1497.8 L1766.3,1497.8 M1753.9,1518.8 L1766.3,1518.8' stroke='#1f66e5' stroke-width='2.4' fill='none'/>
<rect x='1755.1' y='1503.3' width='10' height='10' fill='#1f66e5'/>
<path d='M1826.1,1512.19 L1826.1,1533.19 M1819.9,1512.19 L1832.3,1512.19 M1819.9,1533.19 L1832.3,1533.19' stroke='#1f66e5' stroke-width='2.4' fill='none'/>
<rect x='1821.1' y='1517.69' width='10' height='10' fill='#1f66e5'/>
<path d='M1859.1,1516.45 L1859.1,1537.45 M1852.9,1516.45 L1865.3,1516.45 M1852.9,1537.45 L1865.3,1537.45' stroke='#1f66e5' stroke-width='2.4' fill='none'/>
<rect x='1854.1' y='1521.95' width='10' height='10' fill='#1f66e5'/>
<path d='M1595.1,1104.44 L1595.1,1125.44 M1588.9,1104.44 L1601.3,1104.44 M1588.9,1125.44 L1601.3,1125.44' stroke='#1f66e5' stroke-width='2.4' fill='none'/>
<rect x='1590.1' y='1109.94' width='10' height='10' fill='#1f66e5'/>
<path d='M1628.1,1164.4 L1628.1,1185.4 M1621.9,1164.4 L1634.3,1164.4 M1621.9,1185.4 L1634.3,1185.4' stroke='#1f66e5' stroke-width='2.4' fill='none'/>
<rect x='1623.1' y='1169.9' width='10' height='10' fill='#1f66e5'/>
<path d='M1694.1,1247.02 L1694.1,1268.02 M1687.9,1247.02 L1700.3,1247.02 M1687.9,1268.02 L1700.3,1268.02' stroke='#1f66e5' stroke-width='2.4' fill='none'/>
<rect x='1689.1' y='1252.52' width='10' height='10' fill='#1f66e5'/>
<path d='M1727.1,1276.6 L1727.1,1297.6 M1720.9,1276.6 L1733.3,1276.6 M1720.9,1297.6 L1733.3,1297.6' stroke='#1f66e5' stroke-width='2.4' fill='none'/>
<rect x='1722.1' y='1282.1' width='10' height='10' fill='#1f66e5'/>
<path d='M1760.1,1306.45 L1760.1,1327.45 M1753.9,1306.45 L1766.3,1306.45 M1753.9,1327.45 L1766.3,1327.45' stroke='#1f66e5' stroke-width='2.4' fill='none'/>
<rect x='1755.1' y='1311.95' width='10' height='10' fill='#1f66e5'/>
<path d='M1826.1,1347.76 L1826.1,1368.76 M1819.9,1347.76 L1832.3,1347.76 M1819.9,1368.76 L1832.3,1368.76' stroke='#1f66e5' stroke-width='2.4' fill='none'/>
<rect x='1821.1' y='1353.26' width='10' height='10' fill='#1f66e5'/>
<path d='M1859.1,1364.55 L1859.1,1385.55 M1852.9,1364.55 L1865.3,1364.55 M1852.9,1385.55 L1865.3,1385.55' stroke='#1f66e5' stroke-width='2.4' fill='none'/>
<rect x='1854.1' y='1370.05' width='10' height='10' fill='#1f66e5'/>
<path d='M1496.1,990.65 L1496.1,1011.65 M1489.9,990.65 L1502.3,990.65 M1489.9,1011.65 L1502.3,1011.65' stroke='#e8161b' stroke-width='2.4' fill='none'/>
<path d='M1496.1,994.85 L1497.78,999.34 L1502.57,999.55 L1498.82,1002.53 L1500.1,1007.15 L1496.1,1004.5 L1492.1,1007.15 L1493.38,1002.53 L1489.63,999.55 L1494.42,999.34Z' fill='#e8161b'/>
<path d='M1529.1,1131.63 L1529.1,1152.63 M1522.9,1131.63 L1535.3,1131.63 M1522.9,1152.63 L1535.3,1152.63' stroke='#e8161b' stroke-width='2.4' fill='none'/>
<path d='M1529.1,1135.83 L1530.78,1140.31 L1535.57,1140.52 L1531.82,1143.51 L1533.1,1148.13 L1529.1,1145.48 L1525.1,1148.13 L1526.38,1143.51 L1522.63,1140.52 L1527.42,1140.31Z' fill='#e8161b'/>
<path d='M1562.1,1218.24 L1562.1,1239.24 M1555.9,1218.24 L1568.3,1218.24 M1555.9,1239.24 L1568.3,1239.24' stroke='#e8161b' stroke-width='2.4' fill='none'/>
<path d='M1562.1,1222.44 L1563.78,1226.93 L1568.57,1227.14 L1564.82,1230.12 L1566.1,1234.74 L1562.1,1232.09 L1558.1,1234.74 L1559.38,1230.12 L1555.63,1227.14 L1560.42,1226.93Z' fill='#e8161b'/>
<path d='M1595.1,1282.2 L1595.1,1303.2 M1588.9,1282.2 L1601.3,1282.2 M1588.9,1303.2 L1601.3,1303.2' stroke='#e8161b' stroke-width='2.4' fill='none'/>
<path d='M1595.1,1286.4 L1596.78,1290.89 L1601.57,1291.1 L1597.82,1294.08 L1599.1,1298.7 L1595.1,1296.05 L1591.1,1298.7 L1592.38,1294.08 L1588.63,1291.1 L1593.42,1290.89Z' fill='#e8161b'/>
<path d='M1628.1,1323.51 L1628.1,1344.51 M1621.9,1323.51 L1634.3,1323.51 M1621.9,1344.51 L1634.3,1344.51' stroke='#e8161b' stroke-width='2.4' fill='none'/>
<path d='M1628.1,1327.71 L1629.78,1332.19 L1634.57,1332.4 L1630.82,1335.39 L1632.1,1340.01 L1628.1,1337.36 L1624.1,1340.01 L1625.38,1335.39 L1621.63,1332.4 L1626.42,1332.19Z' fill='#e8161b'/>
<path d='M1694.1,1384 L1694.1,1405 M1687.9,1384 L1700.3,1384 M1687.9,1405 L1700.3,1405' stroke='#e8161b' stroke-width='2.4' fill='none'/>
<path d='M1694.1,1388.2 L1695.78,1392.69 L1700.57,1392.9 L1696.82,1395.88 L1698.1,1400.5 L1694.1,1397.86 L1690.1,1400.5 L1691.38,1395.88 L1687.63,1392.9 L1692.42,1392.69Z' fill='#e8161b'/>
<path d='M1727.1,1407.45 L1727.1,1428.45 M1720.9,1407.45 L1733.3,1407.45 M1720.9,1428.45 L1733.3,1428.45' stroke='#e8161b' stroke-width='2.4' fill='none'/>
<path d='M1727.1,1411.65 L1728.78,1416.14 L1733.57,1416.35 L1729.82,1419.34 L1731.1,1423.95 L1727.1,1421.31 L1723.1,1423.95 L1724.38,1419.34 L1720.63,1416.35 L1725.42,1416.14Z' fill='#e8161b'/>
<path d='M1760.1,1419.71 L1760.1,1440.71 M1753.9,1419.71 L1766.3,1419.71 M1753.9,1440.71 L1766.3,1440.71' stroke='#e8161b' stroke-width='2.4' fill='none'/>
<path d='M1760.1,1423.91 L1761.78,1428.4 L1766.57,1428.61 L1762.82,1431.59 L1764.1,1436.21 L1760.1,1433.57 L1756.1,1436.21 L1757.38,1431.59 L1753.63,1428.61 L1758.42,1428.4Z' fill='#e8161b'/>
<path d='M1727.1,1031.69 L1727.1,1052.69 M1720.9,1031.69 L1733.3,1031.69 M1720.9,1052.69 L1733.3,1052.69' stroke='#e8161b' stroke-width='2.4' fill='none'/>
<path d='M1727.1,1035.89 L1728.78,1040.38 L1733.57,1040.59 L1729.82,1043.57 L1731.1,1048.19 L1727.1,1045.54 L1723.1,1048.19 L1724.38,1043.57 L1720.63,1040.59 L1725.42,1040.38Z' fill='#e8161b'/>
<path d='M1760.1,1083.92 L1760.1,1104.92 M1753.9,1083.92 L1766.3,1083.92 M1753.9,1104.92 L1766.3,1104.92' stroke='#e8161b' stroke-width='2.4' fill='none'/>
<path d='M1760.1,1088.12 L1761.78,1092.61 L1766.57,1092.82 L1762.82,1095.8 L1764.1,1100.42 L1760.1,1097.78 L1756.1,1100.42 L1757.38,1095.8 L1753.63,1092.82 L1758.42,1092.61Z' fill='#e8161b'/>
<path d='M1826.1,1159.61 L1826.1,1180.61 M1819.9,1159.61 L1832.3,1159.61 M1819.9,1180.61 L1832.3,1180.61' stroke='#e8161b' stroke-width='2.4' fill='none'/>
<path d='M1826.1,1163.81 L1827.78,1168.3 L1832.57,1168.51 L1828.82,1171.49 L1830.1,1176.11 L1826.1,1173.46 L1822.1,1176.11 L1823.38,1171.49 L1819.63,1168.51 L1824.42,1168.3Z' fill='#e8161b'/>
<path d='M1859.1,1186.79 L1859.1,1207.79 M1852.9,1186.79 L1865.3,1186.79 M1852.9,1207.79 L1865.3,1207.79' stroke='#e8161b' stroke-width='2.4' fill='none'/>
<path d='M1859.1,1190.99 L1860.78,1195.48 L1865.57,1195.69 L1861.82,1198.67 L1863.1,1203.29 L1859.1,1200.65 L1855.1,1203.29 L1856.38,1198.67 L1852.63,1195.69 L1857.42,1195.48Z' fill='#e8161b'/>
</g>
<rect x='1396.9' y='930.6' width='496.1' height='652.1' fill='none' stroke='#000' stroke-width='3.6'/>
<text x='1387.72' y='1619.8' font-family='Liberation Sans' font-size='33.5' font-weight='bold' fill='#000'>0</text>
<line x1='1430.1' y1='1582.7' x2='1430.1' y2='1576.2' stroke='#000' stroke-width='3.0' stroke-linecap='round'/>
<line x1='1463.1' y1='1582.7' x2='1463.1' y2='1570.7' stroke='#000' stroke-width='3.0' stroke-linecap='round'/>
<text x='1453.89' y='1619.8' font-family='Liberation Sans' font-size='33.5' font-weight='bold' fill='#000'>2</text>
<line x1='1496.1' y1='1582.7' x2='1496.1' y2='1576.2' stroke='#000' stroke-width='3.0' stroke-linecap='round'/>
<line x1='1529.1' y1='1582.7' x2='1529.1' y2='1570.7' stroke='#000' stroke-width='3.0' stroke-linecap='round'/>
<text x='1519.72' y='1619.8' font-family='Liberation Sans' font-size='33.5' font-weight='bold' fill='#000'>4</text>
<line x1='1562.1' y1='1582.7' x2='1562.1' y2='1576.2' stroke='#000' stroke-width='3.0' stroke-linecap='round'/>
<line x1='1595.1' y1='1582.7' x2='1595.1' y2='1570.7' stroke='#000' stroke-width='3.0' stroke-linecap='round'/>
<text x='1585.72' y='1619.8' font-family='Liberation Sans' font-size='33.5' font-weight='bold' fill='#000'>6</text>
<line x1='1628.1' y1='1582.7' x2='1628.1' y2='1576.2' stroke='#000' stroke-width='3.0' stroke-linecap='round'/>
<line x1='1661.1' y1='1582.7' x2='1661.1' y2='1570.7' stroke='#000' stroke-width='3.0' stroke-linecap='round'/>
<text x='1651.72' y='1619.8' font-family='Liberation Sans' font-size='33.5' font-weight='bold' fill='#000'>8</text>
<line x1='1694.1' y1='1582.7' x2='1694.1' y2='1576.2' stroke='#000' stroke-width='3.0' stroke-linecap='round'/>
<line x1='1727.1' y1='1582.7' x2='1727.1' y2='1570.7' stroke='#000' stroke-width='3.0' stroke-linecap='round'/>
<text x='1708.17' y='1619.8' font-family='Liberation Sans' font-size='33.5' font-weight='bold' fill='#000'>10</text>
<line x1='1760.1' y1='1582.7' x2='1760.1' y2='1576.2' stroke='#000' stroke-width='3.0' stroke-linecap='round'/>
<line x1='1793.1' y1='1582.7' x2='1793.1' y2='1570.7' stroke='#000' stroke-width='3.0' stroke-linecap='round'/>
<text x='1774.17' y='1619.8' font-family='Liberation Sans' font-size='33.5' font-weight='bold' fill='#000'>12</text>
<line x1='1826.1' y1='1582.7' x2='1826.1' y2='1576.2' stroke='#000' stroke-width='3.0' stroke-linecap='round'/>
<line x1='1859.1' y1='1582.7' x2='1859.1' y2='1570.7' stroke='#000' stroke-width='3.0' stroke-linecap='round'/>
<text x='1839.5' y='1619.8' font-family='Liberation Sans' font-size='33.5' font-weight='bold' fill='#000'>14</text>
<line x1='1396.9' y1='1569.33' x2='1403.7' y2='1569.33' stroke='#000' stroke-width='3.0' stroke-linecap='round'/>
<line x1='1396.9' y1='1529.35' x2='1408.9' y2='1529.35' stroke='#000' stroke-width='3.0' stroke-linecap='round'/>
<text x='1367.38' y='1538.75' font-family='Liberation Sans' font-size='33.5' font-weight='bold' fill='#000'>3</text>
<line x1='1396.9' y1='1489.38' x2='1403.7' y2='1489.38' stroke='#000' stroke-width='3.0' stroke-linecap='round'/>
<line x1='1396.9' y1='1449.4' x2='1408.9' y2='1449.4' stroke='#000' stroke-width='3.0' stroke-linecap='round'/>
<text x='1367.38' y='1458.8' font-family='Liberation Sans' font-size='33.5' font-weight='bold' fill='#000'>6</text>
<line x1='1396.9' y1='1409.42' x2='1403.7' y2='1409.42' stroke='#000' stroke-width='3.0' stroke-linecap='round'/>
<line x1='1396.9' y1='1369.45' x2='1408.9' y2='1369.45' stroke='#000' stroke-width='3.0' stroke-linecap='round'/>
<text x='1367.38' y='1378.85' font-family='Liberation Sans' font-size='33.5' font-weight='bold' fill='#000'>9</text>
<line x1='1396.9' y1='1329.47' x2='1403.7' y2='1329.47' stroke='#000' stroke-width='3.0' stroke-linecap='round'/>
<line x1='1396.9' y1='1289.5' x2='1408.9' y2='1289.5' stroke='#000' stroke-width='3.0' stroke-linecap='round'/>
<text x='1348.95' y='1298.9' font-family='Liberation Sans' font-size='33.5' font-weight='bold' fill='#000'>12</text>
<line x1='1396.9' y1='1249.53' x2='1403.7' y2='1249.53' stroke='#000' stroke-width='3.0' stroke-linecap='round'/>
<line x1='1396.9' y1='1209.55' x2='1408.9' y2='1209.55' stroke='#000' stroke-width='3.0' stroke-linecap='round'/>
<text x='1348.62' y='1218.95' font-family='Liberation Sans' font-size='33.5' font-weight='bold' fill='#000'>15</text>
<line x1='1396.9' y1='1169.58' x2='1403.7' y2='1169.58' stroke='#000' stroke-width='3.0' stroke-linecap='round'/>
<line x1='1396.9' y1='1129.6' x2='1408.9' y2='1129.6' stroke='#000' stroke-width='3.0' stroke-linecap='round'/>
<text x='1348.62' y='1139' font-family='Liberation Sans' font-size='33.5' font-weight='bold' fill='#000'>18</text>
<line x1='1396.9' y1='1089.62' x2='1403.7' y2='1089.62' stroke='#000' stroke-width='3.0' stroke-linecap='round'/>
<line x1='1396.9' y1='1049.65' x2='1408.9' y2='1049.65' stroke='#000' stroke-width='3.0' stroke-linecap='round'/>
<text x='1348.62' y='1059.05' font-family='Liberation Sans' font-size='33.5' font-weight='bold' fill='#000'>21</text>
<line x1='1396.9' y1='1009.68' x2='1403.7' y2='1009.68' stroke='#000' stroke-width='3.0' stroke-linecap='round'/>
<line x1='1396.9' y1='969.7' x2='1408.9' y2='969.7' stroke='#000' stroke-width='3.0' stroke-linecap='round'/>
<text x='1347.61' y='979.1' font-family='Liberation Sans' font-size='33.5' font-weight='bold' fill='#000'>24</text>
<text x='1450.51' y='1669' font-family='Liberation Sans' font-size='45.57' font-weight='bold' fill='#000'>Number of Layers</text>
<text transform='translate(1332.6,1484.96) rotate(-90)' x='0' y='0' font-family='Liberation Sans' font-size='45.2' font-weight='bold' fill='#000'>Peak Positions (cm</text>
<text transform='translate(1309.5,1071.5) rotate(-90)' font-family='Liberation Serif' font-size='27.5'>−1</text>
<text transform='translate(1332.6,1041) rotate(-90)' font-family='Liberation Sans' font-weight='bold' font-size='46'>)</text>
<text x='1413.51' y='978.3' font-family='Liberation Sans' font-size='32.86' font-weight='bold' fill='#000'>532 nm (2.33 eV)</text>
<rect x='1421.6' y='1480.8' width='232' height='86.3' fill='none' stroke='#222' stroke-width='1.3'/>
<rect x='1451.3' y='1500.8' width='10' height='10' fill='#1f66e5'/>
<path d='M1456.2,1540.2 L1457.93,1544.82 L1462.86,1545.04 L1459,1548.11 L1460.31,1552.86 L1456.2,1550.14 L1452.09,1552.86 L1453.4,1548.11 L1449.54,1545.04 L1454.47,1544.82Z' fill='#e8161b'/>
<text x='1497.12' y='1514.8' font-family='Liberation Sans' font-size='32.82' font-weight='bold' fill='#000'>Shear</text>
<text x='1495.77' y='1556' font-family='Liberation Sans' font-size='33.25' font-weight='bold' fill='#000'>Breathing</text>
<text x='1842.44' y='1165.8' font-family='Liberation Sans' font-size='33.76' font-weight='bold' fill='#e8161b'>B2</text>
<text x='1845.82' y='1341.7' font-family='Liberation Sans' font-size='32.61' font-weight='bold' fill='#1a56b4'>S2</text>
<text x='1779.18' y='1434.9' font-family='Liberation Sans' font-size='31.78' font-weight='bold' fill='#e8161b'>B1</text>
<text x='1837.4' y='1500.3' font-family='Liberation Sans' font-size='30' font-weight='bold' fill='#1a56b4'>S1</text>
</svg></body></html>
